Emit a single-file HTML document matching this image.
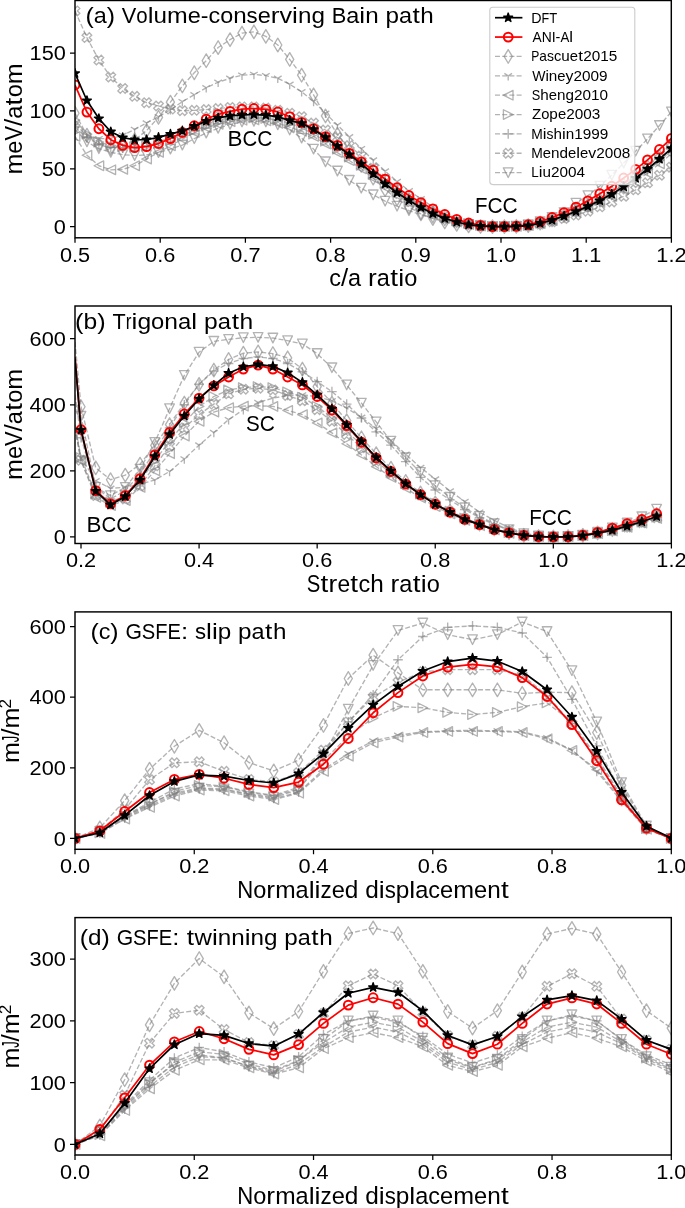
<!DOCTYPE html>
<html><head><meta charset="utf-8"><style>html,body{margin:0;padding:0;background:#fff;}svg{display:block;will-change:transform;}text{font-family:"Liberation Sans",sans-serif;fill:#000;}</style></head><body>
<svg width="685" height="1208" viewBox="0 0 685 1208" font-family="Liberation Sans, sans-serif">
<rect width="685" height="1208" fill="#fff"/>
<clipPath id="clipa"><rect x="75" y="0.5" width="596.3" height="237.3"/></clipPath>
<g clip-path="url(#clipa)">
<path d="M75,113.25 L86.93,135.22 L98.86,144.48 L110.78,147.95 L122.71,145.63 L134.64,139.85 L146.57,130.6 L158.5,117.29 L170.42,102.14 L182.35,85.95 L194.28,72.76 L206.21,60.73 L218.14,47.55 L230.06,39.68 L241.99,33.09 L253.92,31.82 L265.85,36.33 L277.78,45 L289.7,59.46 L301.63,75.19 L313.56,94.86 L325.49,115.91 L337.42,134.07 L349.34,150.26 L361.27,165.3 L373.2,178.02 L385.13,189.59 L397.06,198.84 L408.98,206.94 L420.91,213.88 L432.84,218.5 L444.77,221.97 L456.7,224.29 L468.62,225.79 L480.55,226.48 L492.48,226.6 L504.41,226.6 L516.34,226.36 L528.26,225.52 L540.19,223.11 L552.12,219.86 L564.05,215.65 L575.98,210.84 L587.9,205.55 L599.83,199.53 L611.76,192.8 L623.69,185.1 L635.62,176.32 L647.54,166.69 L659.47,156.35 L671.4,145.28" fill="none" stroke="#808080" stroke-opacity="0.6" stroke-width="1.35" stroke-dasharray="5.0 2.2" stroke-linejoin="round"/>
<path d="M75,106.46 L79.07,113.25 L75,120.03 L70.93,113.25Z M86.93,128.43 L91,135.22 L86.93,142.01 L82.85,135.22Z M98.86,137.69 L102.93,144.48 L98.86,151.26 L94.78,144.48Z M110.78,141.16 L114.86,147.95 L110.78,154.73 L106.71,147.95Z M122.71,138.84 L126.79,145.63 L122.71,152.42 L118.64,145.63Z M134.64,133.06 L138.71,139.85 L134.64,146.64 L130.57,139.85Z M146.57,123.81 L150.64,130.6 L146.57,137.38 L142.49,130.6Z M158.5,110.51 L162.57,117.29 L158.5,124.08 L154.42,117.29Z M170.42,95.35 L174.5,102.14 L170.42,108.93 L166.35,102.14Z M182.35,79.16 L186.43,85.95 L182.35,92.74 L178.28,85.95Z M194.28,65.97 L198.35,72.76 L194.28,79.55 L190.21,72.76Z M206.21,53.95 L210.28,60.73 L206.21,67.52 L202.13,60.73Z M218.14,40.76 L222.21,47.55 L218.14,54.34 L214.06,47.55Z M230.06,32.89 L234.14,39.68 L230.06,46.47 L225.99,39.68Z M241.99,26.3 L246.07,33.09 L241.99,39.88 L237.92,33.09Z M253.92,25.03 L257.99,31.82 L253.92,38.6 L249.85,31.82Z M265.85,29.54 L269.92,36.33 L265.85,43.12 L261.77,36.33Z M277.78,38.21 L281.85,45 L277.78,51.79 L273.7,45Z M289.7,52.67 L293.78,59.46 L289.7,66.25 L285.63,59.46Z M301.63,68.4 L305.71,75.19 L301.63,81.98 L297.56,75.19Z M313.56,88.07 L317.63,94.86 L313.56,101.64 L309.49,94.86Z M325.49,109.12 L329.56,115.91 L325.49,122.69 L321.41,115.91Z M337.42,127.28 L341.49,134.07 L337.42,140.85 L333.34,134.07Z M349.34,143.47 L353.42,150.26 L349.34,157.05 L345.27,150.26Z M361.27,158.51 L365.35,165.3 L361.27,172.08 L357.2,165.3Z M373.2,171.23 L377.27,178.02 L373.2,184.81 L369.13,178.02Z M385.13,182.8 L389.2,189.59 L385.13,196.37 L381.05,189.59Z M397.06,192.05 L401.13,198.84 L397.06,205.63 L392.98,198.84Z M408.98,200.15 L413.06,206.94 L408.98,213.72 L404.91,206.94Z M420.91,207.09 L424.99,213.88 L420.91,220.66 L416.84,213.88Z M432.84,211.72 L436.91,218.5 L432.84,225.29 L428.77,218.5Z M444.77,215.19 L448.84,221.97 L444.77,228.76 L440.69,221.97Z M456.7,217.5 L460.77,224.29 L456.7,231.07 L452.62,224.29Z M468.62,219 L472.7,225.79 L468.62,232.58 L464.55,225.79Z M480.55,219.7 L484.63,226.48 L480.55,233.27 L476.48,226.48Z M492.48,219.81 L496.55,226.6 L492.48,233.39 L488.41,226.6Z M504.41,219.81 L508.48,226.6 L504.41,233.39 L500.33,226.6Z M516.34,219.57 L520.41,226.36 L516.34,233.15 L512.26,226.36Z M528.26,218.73 L532.34,225.52 L528.26,232.31 L524.19,225.52Z M540.19,216.32 L544.27,223.11 L540.19,229.9 L536.12,223.11Z M552.12,213.08 L556.19,219.86 L552.12,226.65 L548.05,219.86Z M564.05,208.87 L568.12,215.65 L564.05,222.44 L559.97,215.65Z M575.98,204.05 L580.05,210.84 L575.98,217.63 L571.9,210.84Z M587.9,198.76 L591.98,205.55 L587.9,212.34 L583.83,205.55Z M599.83,192.75 L603.91,199.53 L599.83,206.32 L595.76,199.53Z M611.76,186.01 L615.83,192.8 L611.76,199.59 L607.69,192.8Z M623.69,178.31 L627.76,185.1 L623.69,191.89 L619.61,185.1Z M635.62,169.53 L639.69,176.32 L635.62,183.11 L631.54,176.32Z M647.54,159.91 L651.62,166.69 L647.54,173.48 L643.47,166.69Z M659.47,149.56 L663.55,156.35 L659.47,163.14 L655.4,156.35Z M671.4,138.49 L675.47,145.28 L671.4,152.07 L667.33,145.28Z" fill="none" stroke="#808080" stroke-opacity="0.6" stroke-width="1.35" stroke-linejoin="round"/>
<path d="M75,124.81 L86.93,135.22 L98.86,138.69 L110.78,138.69 L122.71,135.22 L134.64,129.44 L146.57,122.96 L158.5,116.72 L170.42,109.78 L182.35,101.68 L194.28,94.74 L206.21,87.8 L218.14,82.25 L230.06,78.31 L241.99,75.19 L253.92,74.38 L265.85,75.65 L277.78,78.31 L289.7,84.33 L301.63,91.73 L313.56,101.45 L325.49,113.25 L337.42,125.04 L349.34,136.84 L361.27,148.64 L373.2,160.09 L385.13,171.08 L397.06,181.49 L408.98,190.74 L420.91,198.84 L432.84,206.94 L444.77,213.88 L456.7,219.08 L468.62,223.13 L480.55,225.44 L492.48,226.6 L504.41,226.6 L516.34,226.38 L528.26,225.59 L540.19,223.35 L552.12,220.32 L564.05,216.39 L575.98,211.9 L587.9,206.97 L599.83,201.36 L611.76,195.07 L623.69,187.89 L635.62,179.7 L647.54,170.73 L659.47,161.08 L671.4,150.75" fill="none" stroke="#808080" stroke-opacity="0.6" stroke-width="1.35" stroke-dasharray="5.0 2.2" stroke-linejoin="round"/>
<path d="M75,124.81 v4.8 M75,124.81 l3.84,-2.4 M75,124.81 l-3.84,-2.4 M86.93,135.22 v4.8 M86.93,135.22 l3.84,-2.4 M86.93,135.22 l-3.84,-2.4 M98.86,138.69 v4.8 M98.86,138.69 l3.84,-2.4 M98.86,138.69 l-3.84,-2.4 M110.78,138.69 v4.8 M110.78,138.69 l3.84,-2.4 M110.78,138.69 l-3.84,-2.4 M122.71,135.22 v4.8 M122.71,135.22 l3.84,-2.4 M122.71,135.22 l-3.84,-2.4 M134.64,129.44 v4.8 M134.64,129.44 l3.84,-2.4 M134.64,129.44 l-3.84,-2.4 M146.57,122.96 v4.8 M146.57,122.96 l3.84,-2.4 M146.57,122.96 l-3.84,-2.4 M158.5,116.72 v4.8 M158.5,116.72 l3.84,-2.4 M158.5,116.72 l-3.84,-2.4 M170.42,109.78 v4.8 M170.42,109.78 l3.84,-2.4 M170.42,109.78 l-3.84,-2.4 M182.35,101.68 v4.8 M182.35,101.68 l3.84,-2.4 M182.35,101.68 l-3.84,-2.4 M194.28,94.74 v4.8 M194.28,94.74 l3.84,-2.4 M194.28,94.74 l-3.84,-2.4 M206.21,87.8 v4.8 M206.21,87.8 l3.84,-2.4 M206.21,87.8 l-3.84,-2.4 M218.14,82.25 v4.8 M218.14,82.25 l3.84,-2.4 M218.14,82.25 l-3.84,-2.4 M230.06,78.31 v4.8 M230.06,78.31 l3.84,-2.4 M230.06,78.31 l-3.84,-2.4 M241.99,75.19 v4.8 M241.99,75.19 l3.84,-2.4 M241.99,75.19 l-3.84,-2.4 M253.92,74.38 v4.8 M253.92,74.38 l3.84,-2.4 M253.92,74.38 l-3.84,-2.4 M265.85,75.65 v4.8 M265.85,75.65 l3.84,-2.4 M265.85,75.65 l-3.84,-2.4 M277.78,78.31 v4.8 M277.78,78.31 l3.84,-2.4 M277.78,78.31 l-3.84,-2.4 M289.7,84.33 v4.8 M289.7,84.33 l3.84,-2.4 M289.7,84.33 l-3.84,-2.4 M301.63,91.73 v4.8 M301.63,91.73 l3.84,-2.4 M301.63,91.73 l-3.84,-2.4 M313.56,101.45 v4.8 M313.56,101.45 l3.84,-2.4 M313.56,101.45 l-3.84,-2.4 M325.49,113.25 v4.8 M325.49,113.25 l3.84,-2.4 M325.49,113.25 l-3.84,-2.4 M337.42,125.04 v4.8 M337.42,125.04 l3.84,-2.4 M337.42,125.04 l-3.84,-2.4 M349.34,136.84 v4.8 M349.34,136.84 l3.84,-2.4 M349.34,136.84 l-3.84,-2.4 M361.27,148.64 v4.8 M361.27,148.64 l3.84,-2.4 M361.27,148.64 l-3.84,-2.4 M373.2,160.09 v4.8 M373.2,160.09 l3.84,-2.4 M373.2,160.09 l-3.84,-2.4 M385.13,171.08 v4.8 M385.13,171.08 l3.84,-2.4 M385.13,171.08 l-3.84,-2.4 M397.06,181.49 v4.8 M397.06,181.49 l3.84,-2.4 M397.06,181.49 l-3.84,-2.4 M408.98,190.74 v4.8 M408.98,190.74 l3.84,-2.4 M408.98,190.74 l-3.84,-2.4 M420.91,198.84 v4.8 M420.91,198.84 l3.84,-2.4 M420.91,198.84 l-3.84,-2.4 M432.84,206.94 v4.8 M432.84,206.94 l3.84,-2.4 M432.84,206.94 l-3.84,-2.4 M444.77,213.88 v4.8 M444.77,213.88 l3.84,-2.4 M444.77,213.88 l-3.84,-2.4 M456.7,219.08 v4.8 M456.7,219.08 l3.84,-2.4 M456.7,219.08 l-3.84,-2.4 M468.62,223.13 v4.8 M468.62,223.13 l3.84,-2.4 M468.62,223.13 l-3.84,-2.4 M480.55,225.44 v4.8 M480.55,225.44 l3.84,-2.4 M480.55,225.44 l-3.84,-2.4 M492.48,226.6 v4.8 M492.48,226.6 l3.84,-2.4 M492.48,226.6 l-3.84,-2.4 M504.41,226.6 v4.8 M504.41,226.6 l3.84,-2.4 M504.41,226.6 l-3.84,-2.4 M516.34,226.38 v4.8 M516.34,226.38 l3.84,-2.4 M516.34,226.38 l-3.84,-2.4 M528.26,225.59 v4.8 M528.26,225.59 l3.84,-2.4 M528.26,225.59 l-3.84,-2.4 M540.19,223.35 v4.8 M540.19,223.35 l3.84,-2.4 M540.19,223.35 l-3.84,-2.4 M552.12,220.32 v4.8 M552.12,220.32 l3.84,-2.4 M552.12,220.32 l-3.84,-2.4 M564.05,216.39 v4.8 M564.05,216.39 l3.84,-2.4 M564.05,216.39 l-3.84,-2.4 M575.98,211.9 v4.8 M575.98,211.9 l3.84,-2.4 M575.98,211.9 l-3.84,-2.4 M587.9,206.97 v4.8 M587.9,206.97 l3.84,-2.4 M587.9,206.97 l-3.84,-2.4 M599.83,201.36 v4.8 M599.83,201.36 l3.84,-2.4 M599.83,201.36 l-3.84,-2.4 M611.76,195.07 v4.8 M611.76,195.07 l3.84,-2.4 M611.76,195.07 l-3.84,-2.4 M623.69,187.89 v4.8 M623.69,187.89 l3.84,-2.4 M623.69,187.89 l-3.84,-2.4 M635.62,179.7 v4.8 M635.62,179.7 l3.84,-2.4 M635.62,179.7 l-3.84,-2.4 M647.54,170.73 v4.8 M647.54,170.73 l3.84,-2.4 M647.54,170.73 l-3.84,-2.4 M659.47,161.08 v4.8 M659.47,161.08 l3.84,-2.4 M659.47,161.08 l-3.84,-2.4 M671.4,150.75 v4.8 M671.4,150.75 l3.84,-2.4 M671.4,150.75 l-3.84,-2.4" fill="none" stroke="#808080" stroke-opacity="0.6" stroke-width="1.35" stroke-linejoin="round"/>
<path d="M75,136.38 L86.93,155.23 L98.86,165.76 L110.78,169.81 L122.71,169.34 L134.64,165.76 L146.57,159.05 L158.5,152.34 L170.42,145.75 L182.35,139.16 L194.28,132.33 L206.21,127.65 L218.14,124.23 L230.06,121.67 L241.99,120.19 L253.92,119.84 L265.85,120.76 L277.78,123.34 L289.7,127.13 L301.63,131.22 L313.56,136.38 L325.49,143.92 L337.42,152.57 L349.34,160.53 L361.27,168.77 L373.2,178.1 L385.13,187.27 L397.06,195.23 L408.98,202.31 L420.91,208.54 L432.84,213.88 L444.77,218.44 L456.7,221.97 L468.62,224.46 L480.55,226.02 L492.48,226.6 L504.41,226.6 L516.34,226.38 L528.26,225.63 L540.19,223.48 L552.12,220.58 L564.05,216.81 L575.98,212.51 L587.9,207.78 L599.83,202.4 L611.76,196.37 L623.69,189.49 L635.62,181.64 L647.54,173.03 L659.47,163.78 L671.4,153.88" fill="none" stroke="#808080" stroke-opacity="0.6" stroke-width="1.35" stroke-dasharray="5.0 2.2" stroke-linejoin="round"/>
<path d="M70.2,136.38 L79.8,131.58 L79.8,141.18Z M82.13,155.23 L91.73,150.43 L91.73,160.03Z M94.06,165.76 L103.66,160.96 L103.66,170.56Z M105.98,169.81 L115.58,165.01 L115.58,174.61Z M117.91,169.34 L127.51,164.54 L127.51,174.14Z M129.84,165.76 L139.44,160.96 L139.44,170.56Z M141.77,159.05 L151.37,154.25 L151.37,163.85Z M153.7,152.34 L163.3,147.54 L163.3,157.14Z M165.62,145.75 L175.22,140.95 L175.22,150.55Z M177.55,139.16 L187.15,134.36 L187.15,143.96Z M189.48,132.33 L199.08,127.53 L199.08,137.13Z M201.41,127.65 L211.01,122.85 L211.01,132.45Z M213.34,124.23 L222.94,119.43 L222.94,129.03Z M225.26,121.67 L234.86,116.87 L234.86,126.47Z M237.19,120.19 L246.79,115.39 L246.79,124.99Z M249.12,119.84 L258.72,115.04 L258.72,124.64Z M261.05,120.76 L270.65,115.96 L270.65,125.56Z M272.98,123.34 L282.58,118.54 L282.58,128.14Z M284.9,127.13 L294.5,122.33 L294.5,131.93Z M296.83,131.22 L306.43,126.42 L306.43,136.02Z M308.76,136.38 L318.36,131.58 L318.36,141.18Z M320.69,143.92 L330.29,139.12 L330.29,148.72Z M332.62,152.57 L342.22,147.77 L342.22,157.37Z M344.54,160.53 L354.14,155.73 L354.14,165.33Z M356.47,168.77 L366.07,163.97 L366.07,173.57Z M368.4,178.1 L378,173.3 L378,182.9Z M380.33,187.27 L389.93,182.47 L389.93,192.07Z M392.26,195.23 L401.86,190.43 L401.86,200.03Z M404.18,202.31 L413.78,197.51 L413.78,207.11Z M416.11,208.54 L425.71,203.74 L425.71,213.34Z M428.04,213.88 L437.64,209.08 L437.64,218.68Z M439.97,218.44 L449.57,213.64 L449.57,223.24Z M451.9,221.97 L461.5,217.17 L461.5,226.77Z M463.82,224.46 L473.42,219.66 L473.42,229.26Z M475.75,226.02 L485.35,221.22 L485.35,230.82Z M487.68,226.6 L497.28,221.8 L497.28,231.4Z M499.61,226.6 L509.21,221.8 L509.21,231.4Z M511.54,226.38 L521.14,221.58 L521.14,231.18Z M523.46,225.63 L533.06,220.83 L533.06,230.43Z M535.39,223.48 L544.99,218.68 L544.99,228.28Z M547.32,220.58 L556.92,215.78 L556.92,225.38Z M559.25,216.81 L568.85,212.01 L568.85,221.61Z M571.18,212.51 L580.78,207.71 L580.78,217.31Z M583.1,207.78 L592.7,202.98 L592.7,212.58Z M595.03,202.4 L604.63,197.6 L604.63,207.2Z M606.96,196.37 L616.56,191.57 L616.56,201.17Z M618.89,189.49 L628.49,184.69 L628.49,194.29Z M630.82,181.64 L640.42,176.84 L640.42,186.44Z M642.74,173.03 L652.34,168.23 L652.34,177.83Z M654.67,163.78 L664.27,158.98 L664.27,168.58Z M666.6,153.88 L676.2,149.08 L676.2,158.68Z" fill="none" stroke="#808080" stroke-opacity="0.6" stroke-width="1.35" stroke-linejoin="round"/>
<path d="M75,120.19 L86.93,134.07 L98.86,142.16 L110.78,145.63 L122.71,146.79 L134.64,147.37 L146.57,146.21 L158.5,143.32 L170.42,139.27 L182.35,135.22 L194.28,130.6 L206.21,126.14 L218.14,122.5 L230.06,120.01 L241.99,118.45 L253.92,117.87 L265.85,118.45 L277.78,120.17 L289.7,123.08 L301.63,127.8 L313.56,134.07 L325.49,141.22 L337.42,149.1 L349.34,156.99 L361.27,165.3 L373.2,174.55 L385.13,183.8 L397.06,192.32 L408.98,200 L420.91,206.54 L432.84,212.14 L444.77,216.99 L456.7,220.82 L468.62,223.51 L480.55,225.44 L492.48,226.6 L504.41,226.6 L516.34,226.35 L528.26,225.5 L540.19,223.04 L552.12,219.73 L564.05,215.44 L575.98,210.54 L587.9,205.14 L599.83,199.01 L611.76,192.15 L623.69,184.3 L635.62,175.35 L647.54,165.54 L659.47,155 L671.4,143.72" fill="none" stroke="#808080" stroke-opacity="0.6" stroke-width="1.35" stroke-dasharray="5.0 2.2" stroke-linejoin="round"/>
<path d="M79.8,120.19 L70.2,115.39 L70.2,124.99Z M91.73,134.07 L82.13,129.27 L82.13,138.87Z M103.66,142.16 L94.06,137.36 L94.06,146.96Z M115.58,145.63 L105.98,140.83 L105.98,150.43Z M127.51,146.79 L117.91,141.99 L117.91,151.59Z M139.44,147.37 L129.84,142.57 L129.84,152.17Z M151.37,146.21 L141.77,141.41 L141.77,151.01Z M163.3,143.32 L153.7,138.52 L153.7,148.12Z M175.22,139.27 L165.62,134.47 L165.62,144.07Z M187.15,135.22 L177.55,130.42 L177.55,140.02Z M199.08,130.6 L189.48,125.8 L189.48,135.4Z M211.01,126.14 L201.41,121.34 L201.41,130.94Z M222.94,122.5 L213.34,117.7 L213.34,127.3Z M234.86,120.01 L225.26,115.21 L225.26,124.81Z M246.79,118.45 L237.19,113.65 L237.19,123.25Z M258.72,117.87 L249.12,113.07 L249.12,122.67Z M270.65,118.45 L261.05,113.65 L261.05,123.25Z M282.58,120.17 L272.98,115.37 L272.98,124.97Z M294.5,123.08 L284.9,118.28 L284.9,127.88Z M306.43,127.8 L296.83,123 L296.83,132.6Z M318.36,134.07 L308.76,129.27 L308.76,138.87Z M330.29,141.22 L320.69,136.42 L320.69,146.02Z M342.22,149.1 L332.62,144.3 L332.62,153.9Z M354.14,156.99 L344.54,152.19 L344.54,161.79Z M366.07,165.3 L356.47,160.5 L356.47,170.1Z M378,174.55 L368.4,169.75 L368.4,179.35Z M389.93,183.8 L380.33,179 L380.33,188.6Z M401.86,192.32 L392.26,187.52 L392.26,197.12Z M413.78,200 L404.18,195.2 L404.18,204.8Z M425.71,206.54 L416.11,201.74 L416.11,211.34Z M437.64,212.14 L428.04,207.34 L428.04,216.94Z M449.57,216.99 L439.97,212.19 L439.97,221.79Z M461.5,220.82 L451.9,216.02 L451.9,225.62Z M473.42,223.51 L463.82,218.71 L463.82,228.31Z M485.35,225.44 L475.75,220.64 L475.75,230.24Z M497.28,226.6 L487.68,221.8 L487.68,231.4Z M509.21,226.6 L499.61,221.8 L499.61,231.4Z M521.14,226.35 L511.54,221.55 L511.54,231.15Z M533.06,225.5 L523.46,220.7 L523.46,230.3Z M544.99,223.04 L535.39,218.24 L535.39,227.84Z M556.92,219.73 L547.32,214.93 L547.32,224.53Z M568.85,215.44 L559.25,210.64 L559.25,220.24Z M580.78,210.54 L571.18,205.74 L571.18,215.34Z M592.7,205.14 L583.1,200.34 L583.1,209.94Z M604.63,199.01 L595.03,194.21 L595.03,203.81Z M616.56,192.15 L606.96,187.35 L606.96,196.95Z M628.49,184.3 L618.89,179.5 L618.89,189.1Z M640.42,175.35 L630.82,170.55 L630.82,180.15Z M652.34,165.54 L642.74,160.74 L642.74,170.34Z M664.27,155 L654.67,150.2 L654.67,159.8Z M676.2,143.72 L666.6,138.92 L666.6,148.52Z" fill="none" stroke="#808080" stroke-opacity="0.6" stroke-width="1.35" stroke-linejoin="round"/>
<path d="M75,127.13 L86.93,137.54 L98.86,144.48 L110.78,147.37 L122.71,147.95 L134.64,147.95 L146.57,145.63 L158.5,142.16 L170.42,137.54 L182.35,132.91 L194.28,128.28 L206.21,123.88 L218.14,120.19 L230.06,117.51 L241.99,115.56 L253.92,114.4 L265.85,114.98 L277.78,116.94 L289.7,120.19 L301.63,124.72 L313.56,130.6 L325.49,137.64 L337.42,145.63 L349.34,154.08 L361.27,162.98 L373.2,172.32 L385.13,181.49 L397.06,189.92 L408.98,197.68 L420.91,204.8 L432.84,210.98 L444.77,216.14 L456.7,220.24 L468.62,223.29 L480.55,225.44 L492.48,226.6 L504.41,226.6 L516.34,226.37 L528.26,225.56 L540.19,223.25 L552.12,220.12 L564.05,216.07 L575.98,211.45 L587.9,206.36 L599.83,200.57 L611.76,194.1 L623.69,186.69 L635.62,178.25 L647.54,169 L659.47,159.05 L671.4,148.41" fill="none" stroke="#808080" stroke-opacity="0.6" stroke-width="1.35" stroke-dasharray="5.0 2.2" stroke-linejoin="round"/>
<path d="M70.2,127.13 h9.6 M75,122.33 v9.6 M82.13,137.54 h9.6 M86.93,132.74 v9.6 M94.06,144.48 h9.6 M98.86,139.68 v9.6 M105.98,147.37 h9.6 M110.78,142.57 v9.6 M117.91,147.95 h9.6 M122.71,143.15 v9.6 M129.84,147.95 h9.6 M134.64,143.15 v9.6 M141.77,145.63 h9.6 M146.57,140.83 v9.6 M153.7,142.16 h9.6 M158.5,137.36 v9.6 M165.62,137.54 h9.6 M170.42,132.74 v9.6 M177.55,132.91 h9.6 M182.35,128.11 v9.6 M189.48,128.28 h9.6 M194.28,123.48 v9.6 M201.41,123.88 h9.6 M206.21,119.08 v9.6 M213.34,120.19 h9.6 M218.14,115.39 v9.6 M225.26,117.51 h9.6 M230.06,112.71 v9.6 M237.19,115.56 h9.6 M241.99,110.76 v9.6 M249.12,114.4 h9.6 M253.92,109.6 v9.6 M261.05,114.98 h9.6 M265.85,110.18 v9.6 M272.98,116.94 h9.6 M277.78,112.14 v9.6 M284.9,120.19 h9.6 M289.7,115.39 v9.6 M296.83,124.72 h9.6 M301.63,119.92 v9.6 M308.76,130.6 h9.6 M313.56,125.8 v9.6 M320.69,137.64 h9.6 M325.49,132.84 v9.6 M332.62,145.63 h9.6 M337.42,140.83 v9.6 M344.54,154.08 h9.6 M349.34,149.28 v9.6 M356.47,162.98 h9.6 M361.27,158.18 v9.6 M368.4,172.32 h9.6 M373.2,167.52 v9.6 M380.33,181.49 h9.6 M385.13,176.69 v9.6 M392.26,189.92 h9.6 M397.06,185.12 v9.6 M404.18,197.68 h9.6 M408.98,192.88 v9.6 M416.11,204.8 h9.6 M420.91,200 v9.6 M428.04,210.98 h9.6 M432.84,206.18 v9.6 M439.97,216.14 h9.6 M444.77,211.34 v9.6 M451.9,220.24 h9.6 M456.7,215.44 v9.6 M463.82,223.29 h9.6 M468.62,218.49 v9.6 M475.75,225.44 h9.6 M480.55,220.64 v9.6 M487.68,226.6 h9.6 M492.48,221.8 v9.6 M499.61,226.6 h9.6 M504.41,221.8 v9.6 M511.54,226.37 h9.6 M516.34,221.57 v9.6 M523.46,225.56 h9.6 M528.26,220.76 v9.6 M535.39,223.25 h9.6 M540.19,218.45 v9.6 M547.32,220.12 h9.6 M552.12,215.32 v9.6 M559.25,216.07 h9.6 M564.05,211.27 v9.6 M571.18,211.45 h9.6 M575.98,206.65 v9.6 M583.1,206.36 h9.6 M587.9,201.56 v9.6 M595.03,200.57 h9.6 M599.83,195.77 v9.6 M606.96,194.1 h9.6 M611.76,189.3 v9.6 M618.89,186.69 h9.6 M623.69,181.89 v9.6 M630.82,178.25 h9.6 M635.62,173.45 v9.6 M642.74,169 h9.6 M647.54,164.2 v9.6 M654.67,159.05 h9.6 M659.47,154.25 v9.6 M666.6,148.41 h9.6 M671.4,143.61 v9.6" fill="none" stroke="#808080" stroke-opacity="0.6" stroke-width="1.35" stroke-linejoin="round"/>
<path d="M75,10.88 L86.93,37.6 L98.86,60.04 L110.78,77.04 L122.71,88.49 L134.64,96.36 L146.57,102.72 L158.5,105.96 L170.42,109.08 L182.35,110.7 L194.28,110.35 L206.21,109.62 L218.14,108.62 L230.06,107.46 L241.99,106.88 L253.92,106.88 L265.85,108.04 L277.78,110.35 L289.7,113.25 L301.63,116.72 L313.56,123.08 L325.49,130.02 L337.42,137.54 L349.34,145.63 L361.27,156.04 L373.2,168.19 L385.13,179.18 L397.06,189.59 L408.98,198.84 L420.91,206.94 L432.84,213.88 L444.77,219.08 L456.7,222.55 L468.62,224.86 L480.55,226.02 L492.48,226.6 L504.41,226.6 L516.34,226.42 L528.26,225.81 L540.19,224.05 L552.12,221.68 L564.05,218.6 L575.98,215.08 L587.9,211.22 L599.83,206.82 L611.76,201.9 L623.69,196.27 L635.62,189.85 L647.54,182.82 L659.47,175.26 L671.4,167.17" fill="none" stroke="#808080" stroke-opacity="0.6" stroke-width="1.35" stroke-dasharray="5.0 2.2" stroke-linejoin="round"/>
<path d="M72.6,6.08 L75,8.48 L77.4,6.08 L79.8,8.48 L77.4,10.88 L79.8,13.28 L77.4,15.68 L75,13.28 L72.6,15.68 L70.2,13.28 L72.6,10.88 L70.2,8.48Z M84.53,32.8 L86.93,35.2 L89.33,32.8 L91.73,35.2 L89.33,37.6 L91.73,40 L89.33,42.4 L86.93,40 L84.53,42.4 L82.13,40 L84.53,37.6 L82.13,35.2Z M96.46,55.24 L98.86,57.64 L101.26,55.24 L103.66,57.64 L101.26,60.04 L103.66,62.44 L101.26,64.84 L98.86,62.44 L96.46,64.84 L94.06,62.44 L96.46,60.04 L94.06,57.64Z M108.38,72.24 L110.78,74.64 L113.18,72.24 L115.58,74.64 L113.18,77.04 L115.58,79.44 L113.18,81.84 L110.78,79.44 L108.38,81.84 L105.98,79.44 L108.38,77.04 L105.98,74.64Z M120.31,83.69 L122.71,86.09 L125.11,83.69 L127.51,86.09 L125.11,88.49 L127.51,90.89 L125.11,93.29 L122.71,90.89 L120.31,93.29 L117.91,90.89 L120.31,88.49 L117.91,86.09Z M132.24,91.56 L134.64,93.96 L137.04,91.56 L139.44,93.96 L137.04,96.36 L139.44,98.76 L137.04,101.16 L134.64,98.76 L132.24,101.16 L129.84,98.76 L132.24,96.36 L129.84,93.96Z M144.17,97.92 L146.57,100.32 L148.97,97.92 L151.37,100.32 L148.97,102.72 L151.37,105.12 L148.97,107.52 L146.57,105.12 L144.17,107.52 L141.77,105.12 L144.17,102.72 L141.77,100.32Z M156.1,101.16 L158.5,103.56 L160.9,101.16 L163.3,103.56 L160.9,105.96 L163.3,108.36 L160.9,110.76 L158.5,108.36 L156.1,110.76 L153.7,108.36 L156.1,105.96 L153.7,103.56Z M168.02,104.28 L170.42,106.68 L172.82,104.28 L175.22,106.68 L172.82,109.08 L175.22,111.48 L172.82,113.88 L170.42,111.48 L168.02,113.88 L165.62,111.48 L168.02,109.08 L165.62,106.68Z M179.95,105.9 L182.35,108.3 L184.75,105.9 L187.15,108.3 L184.75,110.7 L187.15,113.1 L184.75,115.5 L182.35,113.1 L179.95,115.5 L177.55,113.1 L179.95,110.7 L177.55,108.3Z M191.88,105.55 L194.28,107.95 L196.68,105.55 L199.08,107.95 L196.68,110.35 L199.08,112.75 L196.68,115.15 L194.28,112.75 L191.88,115.15 L189.48,112.75 L191.88,110.35 L189.48,107.95Z M203.81,104.82 L206.21,107.22 L208.61,104.82 L211.01,107.22 L208.61,109.62 L211.01,112.02 L208.61,114.42 L206.21,112.02 L203.81,114.42 L201.41,112.02 L203.81,109.62 L201.41,107.22Z M215.74,103.82 L218.14,106.22 L220.54,103.82 L222.94,106.22 L220.54,108.62 L222.94,111.02 L220.54,113.42 L218.14,111.02 L215.74,113.42 L213.34,111.02 L215.74,108.62 L213.34,106.22Z M227.66,102.66 L230.06,105.06 L232.46,102.66 L234.86,105.06 L232.46,107.46 L234.86,109.86 L232.46,112.26 L230.06,109.86 L227.66,112.26 L225.26,109.86 L227.66,107.46 L225.26,105.06Z M239.59,102.08 L241.99,104.48 L244.39,102.08 L246.79,104.48 L244.39,106.88 L246.79,109.28 L244.39,111.68 L241.99,109.28 L239.59,111.68 L237.19,109.28 L239.59,106.88 L237.19,104.48Z M251.52,102.08 L253.92,104.48 L256.32,102.08 L258.72,104.48 L256.32,106.88 L258.72,109.28 L256.32,111.68 L253.92,109.28 L251.52,111.68 L249.12,109.28 L251.52,106.88 L249.12,104.48Z M263.45,103.24 L265.85,105.64 L268.25,103.24 L270.65,105.64 L268.25,108.04 L270.65,110.44 L268.25,112.84 L265.85,110.44 L263.45,112.84 L261.05,110.44 L263.45,108.04 L261.05,105.64Z M275.38,105.55 L277.78,107.95 L280.18,105.55 L282.58,107.95 L280.18,110.35 L282.58,112.75 L280.18,115.15 L277.78,112.75 L275.38,115.15 L272.98,112.75 L275.38,110.35 L272.98,107.95Z M287.3,108.45 L289.7,110.85 L292.1,108.45 L294.5,110.85 L292.1,113.25 L294.5,115.65 L292.1,118.05 L289.7,115.65 L287.3,118.05 L284.9,115.65 L287.3,113.25 L284.9,110.85Z M299.23,111.92 L301.63,114.32 L304.03,111.92 L306.43,114.32 L304.03,116.72 L306.43,119.12 L304.03,121.52 L301.63,119.12 L299.23,121.52 L296.83,119.12 L299.23,116.72 L296.83,114.32Z M311.16,118.28 L313.56,120.68 L315.96,118.28 L318.36,120.68 L315.96,123.08 L318.36,125.48 L315.96,127.88 L313.56,125.48 L311.16,127.88 L308.76,125.48 L311.16,123.08 L308.76,120.68Z M323.09,125.22 L325.49,127.62 L327.89,125.22 L330.29,127.62 L327.89,130.02 L330.29,132.42 L327.89,134.82 L325.49,132.42 L323.09,134.82 L320.69,132.42 L323.09,130.02 L320.69,127.62Z M335.02,132.74 L337.42,135.14 L339.82,132.74 L342.22,135.14 L339.82,137.54 L342.22,139.94 L339.82,142.34 L337.42,139.94 L335.02,142.34 L332.62,139.94 L335.02,137.54 L332.62,135.14Z M346.94,140.83 L349.34,143.23 L351.74,140.83 L354.14,143.23 L351.74,145.63 L354.14,148.03 L351.74,150.43 L349.34,148.03 L346.94,150.43 L344.54,148.03 L346.94,145.63 L344.54,143.23Z M358.87,151.24 L361.27,153.64 L363.67,151.24 L366.07,153.64 L363.67,156.04 L366.07,158.44 L363.67,160.84 L361.27,158.44 L358.87,160.84 L356.47,158.44 L358.87,156.04 L356.47,153.64Z M370.8,163.39 L373.2,165.79 L375.6,163.39 L378,165.79 L375.6,168.19 L378,170.59 L375.6,172.99 L373.2,170.59 L370.8,172.99 L368.4,170.59 L370.8,168.19 L368.4,165.79Z M382.73,174.38 L385.13,176.78 L387.53,174.38 L389.93,176.78 L387.53,179.18 L389.93,181.58 L387.53,183.98 L385.13,181.58 L382.73,183.98 L380.33,181.58 L382.73,179.18 L380.33,176.78Z M394.66,184.79 L397.06,187.19 L399.46,184.79 L401.86,187.19 L399.46,189.59 L401.86,191.99 L399.46,194.39 L397.06,191.99 L394.66,194.39 L392.26,191.99 L394.66,189.59 L392.26,187.19Z M406.58,194.04 L408.98,196.44 L411.38,194.04 L413.78,196.44 L411.38,198.84 L413.78,201.24 L411.38,203.64 L408.98,201.24 L406.58,203.64 L404.18,201.24 L406.58,198.84 L404.18,196.44Z M418.51,202.14 L420.91,204.54 L423.31,202.14 L425.71,204.54 L423.31,206.94 L425.71,209.34 L423.31,211.74 L420.91,209.34 L418.51,211.74 L416.11,209.34 L418.51,206.94 L416.11,204.54Z M430.44,209.08 L432.84,211.48 L435.24,209.08 L437.64,211.48 L435.24,213.88 L437.64,216.28 L435.24,218.68 L432.84,216.28 L430.44,218.68 L428.04,216.28 L430.44,213.88 L428.04,211.48Z M442.37,214.28 L444.77,216.68 L447.17,214.28 L449.57,216.68 L447.17,219.08 L449.57,221.48 L447.17,223.88 L444.77,221.48 L442.37,223.88 L439.97,221.48 L442.37,219.08 L439.97,216.68Z M454.3,217.75 L456.7,220.15 L459.1,217.75 L461.5,220.15 L459.1,222.55 L461.5,224.95 L459.1,227.35 L456.7,224.95 L454.3,227.35 L451.9,224.95 L454.3,222.55 L451.9,220.15Z M466.22,220.06 L468.62,222.46 L471.02,220.06 L473.42,222.46 L471.02,224.86 L473.42,227.26 L471.02,229.66 L468.62,227.26 L466.22,229.66 L463.82,227.26 L466.22,224.86 L463.82,222.46Z M478.15,221.22 L480.55,223.62 L482.95,221.22 L485.35,223.62 L482.95,226.02 L485.35,228.42 L482.95,230.82 L480.55,228.42 L478.15,230.82 L475.75,228.42 L478.15,226.02 L475.75,223.62Z M490.08,221.8 L492.48,224.2 L494.88,221.8 L497.28,224.2 L494.88,226.6 L497.28,229 L494.88,231.4 L492.48,229 L490.08,231.4 L487.68,229 L490.08,226.6 L487.68,224.2Z M502.01,221.8 L504.41,224.2 L506.81,221.8 L509.21,224.2 L506.81,226.6 L509.21,229 L506.81,231.4 L504.41,229 L502.01,231.4 L499.61,229 L502.01,226.6 L499.61,224.2Z M513.94,221.62 L516.34,224.02 L518.74,221.62 L521.14,224.02 L518.74,226.42 L521.14,228.82 L518.74,231.22 L516.34,228.82 L513.94,231.22 L511.54,228.82 L513.94,226.42 L511.54,224.02Z M525.86,221.01 L528.26,223.41 L530.66,221.01 L533.06,223.41 L530.66,225.81 L533.06,228.21 L530.66,230.61 L528.26,228.21 L525.86,230.61 L523.46,228.21 L525.86,225.81 L523.46,223.41Z M537.79,219.25 L540.19,221.65 L542.59,219.25 L544.99,221.65 L542.59,224.05 L544.99,226.45 L542.59,228.85 L540.19,226.45 L537.79,228.85 L535.39,226.45 L537.79,224.05 L535.39,221.65Z M549.72,216.88 L552.12,219.28 L554.52,216.88 L556.92,219.28 L554.52,221.68 L556.92,224.08 L554.52,226.48 L552.12,224.08 L549.72,226.48 L547.32,224.08 L549.72,221.68 L547.32,219.28Z M561.65,213.8 L564.05,216.2 L566.45,213.8 L568.85,216.2 L566.45,218.6 L568.85,221 L566.45,223.4 L564.05,221 L561.65,223.4 L559.25,221 L561.65,218.6 L559.25,216.2Z M573.58,210.28 L575.98,212.68 L578.38,210.28 L580.78,212.68 L578.38,215.08 L580.78,217.48 L578.38,219.88 L575.98,217.48 L573.58,219.88 L571.18,217.48 L573.58,215.08 L571.18,212.68Z M585.5,206.42 L587.9,208.82 L590.3,206.42 L592.7,208.82 L590.3,211.22 L592.7,213.62 L590.3,216.02 L587.9,213.62 L585.5,216.02 L583.1,213.62 L585.5,211.22 L583.1,208.82Z M597.43,202.02 L599.83,204.42 L602.23,202.02 L604.63,204.42 L602.23,206.82 L604.63,209.22 L602.23,211.62 L599.83,209.22 L597.43,211.62 L595.03,209.22 L597.43,206.82 L595.03,204.42Z M609.36,197.1 L611.76,199.5 L614.16,197.1 L616.56,199.5 L614.16,201.9 L616.56,204.3 L614.16,206.7 L611.76,204.3 L609.36,206.7 L606.96,204.3 L609.36,201.9 L606.96,199.5Z M621.29,191.47 L623.69,193.87 L626.09,191.47 L628.49,193.87 L626.09,196.27 L628.49,198.67 L626.09,201.07 L623.69,198.67 L621.29,201.07 L618.89,198.67 L621.29,196.27 L618.89,193.87Z M633.22,185.05 L635.62,187.45 L638.02,185.05 L640.42,187.45 L638.02,189.85 L640.42,192.25 L638.02,194.65 L635.62,192.25 L633.22,194.65 L630.82,192.25 L633.22,189.85 L630.82,187.45Z M645.14,178.02 L647.54,180.42 L649.94,178.02 L652.34,180.42 L649.94,182.82 L652.34,185.22 L649.94,187.62 L647.54,185.22 L645.14,187.62 L642.74,185.22 L645.14,182.82 L642.74,180.42Z M657.07,170.46 L659.47,172.86 L661.87,170.46 L664.27,172.86 L661.87,175.26 L664.27,177.66 L661.87,180.06 L659.47,177.66 L657.07,180.06 L654.67,177.66 L657.07,175.26 L654.67,172.86Z M669,162.37 L671.4,164.77 L673.8,162.37 L676.2,164.77 L673.8,167.17 L676.2,169.57 L673.8,171.97 L671.4,169.57 L669,171.97 L666.6,169.57 L669,167.17 L666.6,164.77Z" fill="none" stroke="#808080" stroke-opacity="0.6" stroke-width="1.35" stroke-linejoin="miter"/>
<path d="M75,129.44 L86.93,141.82 L98.86,148.76 L110.78,152.34 L122.71,154.66 L134.64,155.58 L146.57,154.89 L158.5,152.57 L170.42,149.1 L182.35,145.05 L194.28,138.69 L206.21,133.03 L218.14,128.28 L230.06,124.34 L241.99,121.92 L253.92,121.34 L265.85,121.92 L277.78,124.81 L289.7,130.02 L301.63,138.11 L313.56,149.1 L325.49,161.83 L337.42,171.08 L349.34,180.33 L361.27,188.2 L373.2,194.79 L385.13,201.15 L397.06,206.24 L408.98,210.64 L420.91,214.69 L432.84,218.04 L444.77,220.82 L456.7,223.01 L468.62,224.63 L480.55,225.79 L492.48,226.6 L504.41,226.6 L516.34,226.25 L528.26,224.75 L540.19,221.63 L552.12,217.46 L564.05,212.6 L575.98,203.24 L587.9,195.6 L599.83,186.12 L611.76,175.13 L623.69,163.1 L635.62,151.19 L647.54,138.92 L659.47,125.51 L671.4,111.86" fill="none" stroke="#808080" stroke-opacity="0.6" stroke-width="1.35" stroke-dasharray="5.0 2.2" stroke-linejoin="round"/>
<path d="M75,134.24 L70.2,124.64 L79.8,124.64Z M86.93,146.62 L82.13,137.02 L91.73,137.02Z M98.86,153.56 L94.06,143.96 L103.66,143.96Z M110.78,157.14 L105.98,147.54 L115.58,147.54Z M122.71,159.46 L117.91,149.86 L127.51,149.86Z M134.64,160.38 L129.84,150.78 L139.44,150.78Z M146.57,159.69 L141.77,150.09 L151.37,150.09Z M158.5,157.37 L153.7,147.77 L163.3,147.77Z M170.42,153.9 L165.62,144.3 L175.22,144.3Z M182.35,149.85 L177.55,140.25 L187.15,140.25Z M194.28,143.49 L189.48,133.89 L199.08,133.89Z M206.21,137.83 L201.41,128.23 L211.01,128.23Z M218.14,133.08 L213.34,123.48 L222.94,123.48Z M230.06,129.14 L225.26,119.54 L234.86,119.54Z M241.99,126.72 L237.19,117.12 L246.79,117.12Z M253.92,126.14 L249.12,116.54 L258.72,116.54Z M265.85,126.72 L261.05,117.12 L270.65,117.12Z M277.78,129.61 L272.98,120.01 L282.58,120.01Z M289.7,134.82 L284.9,125.22 L294.5,125.22Z M301.63,142.91 L296.83,133.31 L306.43,133.31Z M313.56,153.9 L308.76,144.3 L318.36,144.3Z M325.49,166.63 L320.69,157.03 L330.29,157.03Z M337.42,175.88 L332.62,166.28 L342.22,166.28Z M349.34,185.13 L344.54,175.53 L354.14,175.53Z M361.27,193 L356.47,183.4 L366.07,183.4Z M373.2,199.59 L368.4,189.99 L378,189.99Z M385.13,205.95 L380.33,196.35 L389.93,196.35Z M397.06,211.04 L392.26,201.44 L401.86,201.44Z M408.98,215.44 L404.18,205.84 L413.78,205.84Z M420.91,219.49 L416.11,209.89 L425.71,209.89Z M432.84,222.84 L428.04,213.24 L437.64,213.24Z M444.77,225.62 L439.97,216.02 L449.57,216.02Z M456.7,227.81 L451.9,218.21 L461.5,218.21Z M468.62,229.43 L463.82,219.83 L473.42,219.83Z M480.55,230.59 L475.75,220.99 L485.35,220.99Z M492.48,231.4 L487.68,221.8 L497.28,221.8Z M504.41,231.4 L499.61,221.8 L509.21,221.8Z M516.34,231.05 L511.54,221.45 L521.14,221.45Z M528.26,229.55 L523.46,219.95 L533.06,219.95Z M540.19,226.43 L535.39,216.83 L544.99,216.83Z M552.12,222.26 L547.32,212.66 L556.92,212.66Z M564.05,217.4 L559.25,207.8 L568.85,207.8Z M575.98,208.04 L571.18,198.44 L580.78,198.44Z M587.9,200.4 L583.1,190.8 L592.7,190.8Z M599.83,190.92 L595.03,181.32 L604.63,181.32Z M611.76,179.93 L606.96,170.33 L616.56,170.33Z M623.69,167.9 L618.89,158.3 L628.49,158.3Z M635.62,155.99 L630.82,146.39 L640.42,146.39Z M647.54,143.72 L642.74,134.12 L652.34,134.12Z M659.47,130.31 L654.67,120.71 L664.27,120.71Z M671.4,116.66 L666.6,107.06 L676.2,107.06Z" fill="none" stroke="#808080" stroke-opacity="0.6" stroke-width="1.35" stroke-linejoin="round"/>
<path d="M75,85.02 L86.93,112.09 L98.86,128.75 L110.78,139.73 L122.71,145.4 L134.64,147.72 L146.57,146.67 L158.5,143.55 L170.42,138.58 L182.35,132.45 L194.28,125.74 L206.21,119.03 L218.14,114.29 L230.06,111.28 L241.99,109.2 L253.92,108.5 L265.85,109.43 L277.78,111.97 L289.7,116.6 L301.63,122.5 L313.56,128.75 L325.49,136.61 L337.42,145.4 L349.34,153.38 L361.27,161.83 L373.2,170.27 L385.13,179.06 L397.06,187.62 L408.98,195.49 L420.91,202.54 L432.84,208.9 L444.77,214.45 L456.7,219.31 L468.62,223.01 L480.55,225.44 L492.48,226.6 L504.41,226.6 L516.34,226.25 L528.26,224.75 L540.19,221.63 L552.12,217.46 L564.05,212.6 L575.98,207.17 L587.9,200.81 L599.83,193.63 L611.76,186.23 L623.69,178.02 L635.62,169.34 L647.54,159.86 L659.47,149.45 L671.4,138.35" fill="none" stroke="#ff0000" stroke-width="1.75" stroke-linejoin="round"/>
<circle cx="75" cy="85.02" r="4.4" fill="none" stroke="#ff0000" stroke-width="2.0"/>
<circle cx="86.93" cy="112.09" r="4.4" fill="none" stroke="#ff0000" stroke-width="2.0"/>
<circle cx="98.86" cy="128.75" r="4.4" fill="none" stroke="#ff0000" stroke-width="2.0"/>
<circle cx="110.78" cy="139.73" r="4.4" fill="none" stroke="#ff0000" stroke-width="2.0"/>
<circle cx="122.71" cy="145.4" r="4.4" fill="none" stroke="#ff0000" stroke-width="2.0"/>
<circle cx="134.64" cy="147.72" r="4.4" fill="none" stroke="#ff0000" stroke-width="2.0"/>
<circle cx="146.57" cy="146.67" r="4.4" fill="none" stroke="#ff0000" stroke-width="2.0"/>
<circle cx="158.5" cy="143.55" r="4.4" fill="none" stroke="#ff0000" stroke-width="2.0"/>
<circle cx="170.42" cy="138.58" r="4.4" fill="none" stroke="#ff0000" stroke-width="2.0"/>
<circle cx="182.35" cy="132.45" r="4.4" fill="none" stroke="#ff0000" stroke-width="2.0"/>
<circle cx="194.28" cy="125.74" r="4.4" fill="none" stroke="#ff0000" stroke-width="2.0"/>
<circle cx="206.21" cy="119.03" r="4.4" fill="none" stroke="#ff0000" stroke-width="2.0"/>
<circle cx="218.14" cy="114.29" r="4.4" fill="none" stroke="#ff0000" stroke-width="2.0"/>
<circle cx="230.06" cy="111.28" r="4.4" fill="none" stroke="#ff0000" stroke-width="2.0"/>
<circle cx="241.99" cy="109.2" r="4.4" fill="none" stroke="#ff0000" stroke-width="2.0"/>
<circle cx="253.92" cy="108.5" r="4.4" fill="none" stroke="#ff0000" stroke-width="2.0"/>
<circle cx="265.85" cy="109.43" r="4.4" fill="none" stroke="#ff0000" stroke-width="2.0"/>
<circle cx="277.78" cy="111.97" r="4.4" fill="none" stroke="#ff0000" stroke-width="2.0"/>
<circle cx="289.7" cy="116.6" r="4.4" fill="none" stroke="#ff0000" stroke-width="2.0"/>
<circle cx="301.63" cy="122.5" r="4.4" fill="none" stroke="#ff0000" stroke-width="2.0"/>
<circle cx="313.56" cy="128.75" r="4.4" fill="none" stroke="#ff0000" stroke-width="2.0"/>
<circle cx="325.49" cy="136.61" r="4.4" fill="none" stroke="#ff0000" stroke-width="2.0"/>
<circle cx="337.42" cy="145.4" r="4.4" fill="none" stroke="#ff0000" stroke-width="2.0"/>
<circle cx="349.34" cy="153.38" r="4.4" fill="none" stroke="#ff0000" stroke-width="2.0"/>
<circle cx="361.27" cy="161.83" r="4.4" fill="none" stroke="#ff0000" stroke-width="2.0"/>
<circle cx="373.2" cy="170.27" r="4.4" fill="none" stroke="#ff0000" stroke-width="2.0"/>
<circle cx="385.13" cy="179.06" r="4.4" fill="none" stroke="#ff0000" stroke-width="2.0"/>
<circle cx="397.06" cy="187.62" r="4.4" fill="none" stroke="#ff0000" stroke-width="2.0"/>
<circle cx="408.98" cy="195.49" r="4.4" fill="none" stroke="#ff0000" stroke-width="2.0"/>
<circle cx="420.91" cy="202.54" r="4.4" fill="none" stroke="#ff0000" stroke-width="2.0"/>
<circle cx="432.84" cy="208.9" r="4.4" fill="none" stroke="#ff0000" stroke-width="2.0"/>
<circle cx="444.77" cy="214.45" r="4.4" fill="none" stroke="#ff0000" stroke-width="2.0"/>
<circle cx="456.7" cy="219.31" r="4.4" fill="none" stroke="#ff0000" stroke-width="2.0"/>
<circle cx="468.62" cy="223.01" r="4.4" fill="none" stroke="#ff0000" stroke-width="2.0"/>
<circle cx="480.55" cy="225.44" r="4.4" fill="none" stroke="#ff0000" stroke-width="2.0"/>
<circle cx="492.48" cy="226.6" r="4.4" fill="none" stroke="#ff0000" stroke-width="2.0"/>
<circle cx="504.41" cy="226.6" r="4.4" fill="none" stroke="#ff0000" stroke-width="2.0"/>
<circle cx="516.34" cy="226.25" r="4.4" fill="none" stroke="#ff0000" stroke-width="2.0"/>
<circle cx="528.26" cy="224.75" r="4.4" fill="none" stroke="#ff0000" stroke-width="2.0"/>
<circle cx="540.19" cy="221.63" r="4.4" fill="none" stroke="#ff0000" stroke-width="2.0"/>
<circle cx="552.12" cy="217.46" r="4.4" fill="none" stroke="#ff0000" stroke-width="2.0"/>
<circle cx="564.05" cy="212.6" r="4.4" fill="none" stroke="#ff0000" stroke-width="2.0"/>
<circle cx="575.98" cy="207.17" r="4.4" fill="none" stroke="#ff0000" stroke-width="2.0"/>
<circle cx="587.9" cy="200.81" r="4.4" fill="none" stroke="#ff0000" stroke-width="2.0"/>
<circle cx="599.83" cy="193.63" r="4.4" fill="none" stroke="#ff0000" stroke-width="2.0"/>
<circle cx="611.76" cy="186.23" r="4.4" fill="none" stroke="#ff0000" stroke-width="2.0"/>
<circle cx="623.69" cy="178.02" r="4.4" fill="none" stroke="#ff0000" stroke-width="2.0"/>
<circle cx="635.62" cy="169.34" r="4.4" fill="none" stroke="#ff0000" stroke-width="2.0"/>
<circle cx="647.54" cy="159.86" r="4.4" fill="none" stroke="#ff0000" stroke-width="2.0"/>
<circle cx="659.47" cy="149.45" r="4.4" fill="none" stroke="#ff0000" stroke-width="2.0"/>
<circle cx="671.4" cy="138.35" r="4.4" fill="none" stroke="#ff0000" stroke-width="2.0"/>
<path d="M75,73.34 L86.93,100.52 L98.86,118.57 L110.78,131.75 L122.71,137.54 L134.64,139.73 L146.57,139.73 L158.5,137.42 L170.42,134.18 L182.35,130.94 L194.28,126.2 L206.21,121.11 L218.14,117.87 L230.06,115.91 L241.99,114.87 L253.92,114.52 L265.85,115.21 L277.78,116.83 L289.7,120.42 L301.63,123.31 L313.56,129.44 L325.49,137.31 L337.42,146.21 L349.34,154.54 L361.27,163.91 L373.2,173.86 L385.13,183.8 L397.06,192.71 L408.98,200.46 L420.91,207.4 L432.84,213.53 L444.77,218.39 L456.7,221.97 L468.62,224.75 L480.55,226.14 L492.48,226.6 L504.41,226.6 L516.34,226.37 L528.26,225.56 L540.19,223.25 L552.12,220.12 L564.05,216.07 L575.98,211.45 L587.9,206.36 L599.83,200.57 L611.76,194.1 L623.69,186.69 L635.62,178.25 L647.54,169 L659.47,159.05 L671.4,148.41" fill="none" stroke="#000" stroke-width="1.7" stroke-linejoin="round"/>
<path d="M75,68.69 L76.04,71.9 L79.42,71.9 L76.69,73.89 L77.73,77.1 L75,75.12 L72.27,77.1 L73.31,73.89 L70.58,71.9 L73.96,71.9Z M86.93,95.87 L87.97,99.09 L91.35,99.09 L88.62,101.07 L89.66,104.28 L86.93,102.3 L84.19,104.28 L85.24,101.07 L82.51,99.09 L85.88,99.09Z M98.86,113.92 L99.9,117.13 L103.28,117.13 L100.55,119.12 L101.59,122.33 L98.86,120.34 L96.12,122.33 L97.17,119.12 L94.43,117.13 L97.81,117.13Z M110.78,127.1 L111.83,130.32 L115.21,130.32 L112.47,132.3 L113.52,135.51 L110.78,133.53 L108.05,135.51 L109.09,132.3 L106.36,130.32 L109.74,130.32Z M122.71,132.89 L123.76,136.1 L127.13,136.1 L124.4,138.09 L125.45,141.3 L122.71,139.31 L119.98,141.3 L121.02,138.09 L118.29,136.1 L121.67,136.1Z M134.64,135.08 L135.68,138.3 L139.06,138.3 L136.33,140.28 L137.37,143.5 L134.64,141.51 L131.91,143.5 L132.95,140.28 L130.22,138.3 L133.6,138.3Z M146.57,135.08 L147.61,138.3 L150.99,138.3 L148.26,140.28 L149.3,143.5 L146.57,141.51 L143.83,143.5 L144.88,140.28 L142.15,138.3 L145.52,138.3Z M158.5,132.77 L159.54,135.98 L162.92,135.98 L160.19,137.97 L161.23,141.18 L158.5,139.2 L155.76,141.18 L156.81,137.97 L154.07,135.98 L157.45,135.98Z M170.42,129.53 L171.47,132.75 L174.85,132.75 L172.11,134.73 L173.16,137.94 L170.42,135.96 L167.69,137.94 L168.73,134.73 L166,132.75 L169.38,132.75Z M182.35,126.29 L183.4,129.51 L186.77,129.51 L184.04,131.49 L185.09,134.71 L182.35,132.72 L179.62,134.71 L180.66,131.49 L177.93,129.51 L181.31,129.51Z M194.28,121.55 L195.32,124.76 L198.7,124.76 L195.97,126.75 L197.01,129.96 L194.28,127.98 L191.55,129.96 L192.59,126.75 L189.86,124.76 L193.24,124.76Z M206.21,116.46 L207.25,119.67 L210.63,119.67 L207.9,121.66 L208.94,124.87 L206.21,122.89 L203.47,124.87 L204.52,121.66 L201.79,119.67 L205.16,119.67Z M218.14,113.22 L219.18,116.44 L222.56,116.44 L219.83,118.42 L220.87,121.63 L218.14,119.65 L215.4,121.63 L216.45,118.42 L213.71,116.44 L217.09,116.44Z M230.06,111.26 L231.11,114.47 L234.49,114.47 L231.75,116.46 L232.8,119.67 L230.06,117.68 L227.33,119.67 L228.37,116.46 L225.64,114.47 L229.02,114.47Z M241.99,110.22 L243.04,113.43 L246.41,113.43 L243.68,115.41 L244.73,118.63 L241.99,116.64 L239.26,118.63 L240.3,115.41 L237.57,113.43 L240.95,113.43Z M253.92,109.87 L254.96,113.08 L258.34,113.08 L255.61,115.07 L256.65,118.28 L253.92,116.29 L251.19,118.28 L252.23,115.07 L249.5,113.08 L252.88,113.08Z M265.85,110.56 L266.89,113.78 L270.27,113.78 L267.54,115.76 L268.58,118.97 L265.85,116.99 L263.11,118.97 L264.16,115.76 L261.43,113.78 L264.8,113.78Z M277.78,112.18 L278.82,115.4 L282.2,115.4 L279.47,117.38 L280.51,120.59 L277.78,118.61 L275.04,120.59 L276.09,117.38 L273.35,115.4 L276.73,115.4Z M289.7,115.77 L290.75,118.98 L294.13,118.98 L291.39,120.97 L292.44,124.18 L289.7,122.19 L286.97,124.18 L288.01,120.97 L285.28,118.98 L288.66,118.98Z M301.63,118.66 L302.68,121.87 L306.05,121.87 L303.32,123.86 L304.37,127.07 L301.63,125.09 L298.9,127.07 L299.94,123.86 L297.21,121.87 L300.59,121.87Z M313.56,124.79 L314.6,128 L317.98,128 L315.25,129.99 L316.29,133.2 L313.56,131.22 L310.83,133.2 L311.87,129.99 L309.14,128 L312.52,128Z M325.49,132.66 L326.53,135.87 L329.91,135.87 L327.18,137.85 L328.22,141.07 L325.49,139.08 L322.75,141.07 L323.8,137.85 L321.07,135.87 L324.44,135.87Z M337.42,141.56 L338.46,144.77 L341.84,144.77 L339.11,146.76 L340.15,149.97 L337.42,147.99 L334.68,149.97 L335.73,146.76 L332.99,144.77 L336.37,144.77Z M349.34,149.89 L350.39,153.1 L353.77,153.1 L351.03,155.09 L352.08,158.3 L349.34,156.32 L346.61,158.3 L347.65,155.09 L344.92,153.1 L348.3,153.1Z M361.27,159.26 L362.32,162.47 L365.69,162.47 L362.96,164.46 L364.01,167.67 L361.27,165.68 L358.54,167.67 L359.58,164.46 L356.85,162.47 L360.23,162.47Z M373.2,169.21 L374.24,172.42 L377.62,172.42 L374.89,174.4 L375.93,177.62 L373.2,175.63 L370.47,177.62 L371.51,174.4 L368.78,172.42 L372.16,172.42Z M385.13,179.15 L386.17,182.37 L389.55,182.37 L386.82,184.35 L387.86,187.57 L385.13,185.58 L382.39,187.57 L383.44,184.35 L380.71,182.37 L384.08,182.37Z M397.06,188.06 L398.1,191.27 L401.48,191.27 L398.75,193.26 L399.79,196.47 L397.06,194.49 L394.32,196.47 L395.37,193.26 L392.63,191.27 L396.01,191.27Z M408.98,195.81 L410.03,199.02 L413.41,199.02 L410.67,201.01 L411.72,204.22 L408.98,202.24 L406.25,204.22 L407.29,201.01 L404.56,199.02 L407.94,199.02Z M420.91,202.75 L421.96,205.96 L425.33,205.96 L422.6,207.95 L423.65,211.16 L420.91,209.18 L418.18,211.16 L419.22,207.95 L416.49,205.96 L419.87,205.96Z M432.84,208.88 L433.88,212.09 L437.26,212.09 L434.53,214.08 L435.57,217.29 L432.84,215.31 L430.11,217.29 L431.15,214.08 L428.42,212.09 L431.8,212.09Z M444.77,213.74 L445.81,216.95 L449.19,216.95 L446.46,218.94 L447.5,222.15 L444.77,220.16 L442.03,222.15 L443.08,218.94 L440.35,216.95 L443.72,216.95Z M456.7,217.32 L457.74,220.54 L461.12,220.54 L458.39,222.52 L459.43,225.74 L456.7,223.75 L453.96,225.74 L455.01,222.52 L452.27,220.54 L455.65,220.54Z M468.62,220.1 L469.67,223.31 L473.05,223.31 L470.31,225.3 L471.36,228.51 L468.62,226.53 L465.89,228.51 L466.93,225.3 L464.2,223.31 L467.58,223.31Z M480.55,221.49 L481.6,224.7 L484.97,224.7 L482.24,226.69 L483.29,229.9 L480.55,227.91 L477.82,229.9 L478.86,226.69 L476.13,224.7 L479.51,224.7Z M492.48,221.95 L493.52,225.16 L496.9,225.16 L494.17,227.15 L495.21,230.36 L492.48,228.38 L489.75,230.36 L490.79,227.15 L488.06,225.16 L491.44,225.16Z M504.41,221.95 L505.45,225.16 L508.83,225.16 L506.1,227.15 L507.14,230.36 L504.41,228.38 L501.67,230.36 L502.72,227.15 L499.99,225.16 L503.36,225.16Z M516.34,221.72 L517.38,224.93 L520.76,224.93 L518.03,226.92 L519.07,230.13 L516.34,228.14 L513.6,230.13 L514.65,226.92 L511.91,224.93 L515.29,224.93Z M528.26,220.91 L529.31,224.12 L532.69,224.12 L529.95,226.11 L531,229.32 L528.26,227.34 L525.53,229.32 L526.57,226.11 L523.84,224.12 L527.22,224.12Z M540.19,218.6 L541.24,221.81 L544.61,221.81 L541.88,223.79 L542.93,227.01 L540.19,225.02 L537.46,227.01 L538.5,223.79 L535.77,221.81 L539.15,221.81Z M552.12,215.47 L553.16,218.69 L556.54,218.69 L553.81,220.67 L554.85,223.88 L552.12,221.9 L549.39,223.88 L550.43,220.67 L547.7,218.69 L551.08,218.69Z M564.05,211.42 L565.09,214.64 L568.47,214.64 L565.74,216.62 L566.78,219.84 L564.05,217.85 L561.31,219.84 L562.36,216.62 L559.63,214.64 L563,214.64Z M575.98,206.8 L577.02,210.01 L580.4,210.01 L577.67,212 L578.71,215.21 L575.98,213.22 L573.24,215.21 L574.29,212 L571.55,210.01 L574.93,210.01Z M587.9,201.71 L588.95,204.92 L592.33,204.92 L589.59,206.91 L590.64,210.12 L587.9,208.13 L585.17,210.12 L586.21,206.91 L583.48,204.92 L586.86,204.92Z M599.83,195.92 L600.88,199.14 L604.25,199.14 L601.52,201.12 L602.57,204.34 L599.83,202.35 L597.1,204.34 L598.14,201.12 L595.41,199.14 L598.79,199.14Z M611.76,189.45 L612.8,192.66 L616.18,192.66 L613.45,194.65 L614.49,197.86 L611.76,195.87 L609.03,197.86 L610.07,194.65 L607.34,192.66 L610.72,192.66Z M623.69,182.04 L624.73,185.26 L628.11,185.26 L625.38,187.24 L626.42,190.46 L623.69,188.47 L620.95,190.46 L622,187.24 L619.27,185.26 L622.64,185.26Z M635.62,173.6 L636.66,176.81 L640.04,176.81 L637.31,178.8 L638.35,182.01 L635.62,180.03 L632.88,182.01 L633.93,178.8 L631.19,176.81 L634.57,176.81Z M647.54,164.35 L648.59,167.56 L651.97,167.56 L649.23,169.55 L650.28,172.76 L647.54,170.77 L644.81,172.76 L645.85,169.55 L643.12,167.56 L646.5,167.56Z M659.47,154.4 L660.52,157.61 L663.89,157.61 L661.16,159.6 L662.21,162.81 L659.47,160.83 L656.74,162.81 L657.78,159.6 L655.05,157.61 L658.43,157.61Z M671.4,143.76 L672.44,146.97 L675.82,146.97 L673.09,148.96 L674.13,152.17 L671.4,150.19 L668.67,152.17 L669.71,148.96 L666.98,146.97 L670.36,146.97Z" fill="#000" stroke="#000" stroke-width="1.4" stroke-linejoin="round"/>
</g>
<clipPath id="clipb"><rect x="75" y="306" width="596.3" height="237.5"/></clipPath>
<g clip-path="url(#clipb)">
<path d="M75,341.99 L81,406.74 L95.76,467.86 L110.52,479.75 L125.28,475.12 L140.04,464.22 L154.8,445.39 L169.56,424.58 L184.32,403.11 L199.08,384.28 L213.84,370.07 L228.6,359.5 L243.36,353.23 L258.12,351.9 L272.88,353.56 L287.64,357.85 L302.4,369.08 L317.16,386.59 L331.92,403.11 L346.68,420.62 L361.44,437.79 L376.2,453.65 L390.96,468.19 L405.72,481.4 L420.48,492.96 L435.24,502.87 L450,511.13 L464.76,518.4 L479.52,524.02 L494.28,528.97 L509.04,532.61 L523.8,535.25 L538.56,536.57 L553.32,536.9 L568.08,536.57 L582.84,535.25 L597.6,532.94 L612.36,529.63 L627.12,525.34 L641.88,520.38 L656.64,514.44" fill="none" stroke="#808080" stroke-opacity="0.6" stroke-width="1.35" stroke-dasharray="5.0 2.2" stroke-linejoin="round"/>
<path d="M81,399.95 L85.07,406.74 L81,413.53 L76.93,406.74Z M95.76,461.07 L99.83,467.86 L95.76,474.65 L91.69,467.86Z M110.52,472.96 L114.59,479.75 L110.52,486.54 L106.45,479.75Z M125.28,468.34 L129.35,475.12 L125.28,481.91 L121.21,475.12Z M140.04,457.43 L144.11,464.22 L140.04,471.01 L135.97,464.22Z M154.8,438.6 L158.87,445.39 L154.8,452.18 L150.73,445.39Z M169.56,417.79 L173.63,424.58 L169.56,431.37 L165.49,424.58Z M184.32,396.32 L188.39,403.11 L184.32,409.9 L180.25,403.11Z M199.08,377.49 L203.15,384.28 L199.08,391.07 L195.01,384.28Z M213.84,363.29 L217.91,370.07 L213.84,376.86 L209.77,370.07Z M228.6,352.71 L232.67,359.5 L228.6,366.29 L224.53,359.5Z M243.36,346.44 L247.43,353.23 L243.36,360.01 L239.29,353.23Z M258.12,345.12 L262.19,351.9 L258.12,358.69 L254.05,351.9Z M272.88,346.77 L276.95,353.56 L272.88,360.34 L268.81,353.56Z M287.64,351.06 L291.71,357.85 L287.64,364.64 L283.57,357.85Z M302.4,362.29 L306.47,369.08 L302.4,375.87 L298.33,369.08Z M317.16,379.8 L321.23,386.59 L317.16,393.38 L313.09,386.59Z M331.92,396.32 L335.99,403.11 L331.92,409.9 L327.85,403.11Z M346.68,413.83 L350.75,420.62 L346.68,427.4 L342.61,420.62Z M361.44,431.01 L365.51,437.79 L361.44,444.58 L357.37,437.79Z M376.2,446.86 L380.27,453.65 L376.2,460.44 L372.13,453.65Z M390.96,461.4 L395.03,468.19 L390.96,474.98 L386.89,468.19Z M405.72,474.61 L409.79,481.4 L405.72,488.19 L401.65,481.4Z M420.48,486.18 L424.55,492.96 L420.48,499.75 L416.41,492.96Z M435.24,496.09 L439.31,502.87 L435.24,509.66 L431.17,502.87Z M450,504.34 L454.07,511.13 L450,517.92 L445.93,511.13Z M464.76,511.61 L468.83,518.4 L464.76,525.19 L460.69,518.4Z M479.52,517.23 L483.59,524.02 L479.52,530.8 L475.45,524.02Z M494.28,522.18 L498.35,528.97 L494.28,535.76 L490.21,528.97Z M509.04,525.82 L513.11,532.61 L509.04,539.39 L504.97,532.61Z M523.8,528.46 L527.87,535.25 L523.8,542.04 L519.73,535.25Z M538.56,529.78 L542.63,536.57 L538.56,543.36 L534.49,536.57Z M553.32,530.11 L557.39,536.9 L553.32,543.69 L549.25,536.9Z M568.08,529.78 L572.15,536.57 L568.08,543.36 L564.01,536.57Z M582.84,528.46 L586.91,535.25 L582.84,542.04 L578.77,535.25Z M597.6,526.15 L601.67,532.94 L597.6,539.72 L593.53,532.94Z M612.36,522.84 L616.43,529.63 L612.36,536.42 L608.29,529.63Z M627.12,518.55 L631.19,525.34 L627.12,532.13 L623.05,525.34Z M641.88,513.59 L645.95,520.38 L641.88,527.17 L637.81,520.38Z M656.64,507.65 L660.71,514.44 L656.64,521.22 L652.57,514.44Z" fill="none" stroke="#808080" stroke-opacity="0.6" stroke-width="1.35" stroke-linejoin="round"/>
<path d="M75,427.88 L81,457.62 L95.76,480.74 L110.52,488.34 L125.28,487.35 L140.04,484.04 L154.8,480.08 L169.56,471.49 L184.32,458.94 L199.08,445.06 L213.84,432.51 L228.6,419.63 L243.36,409.72 L258.12,402.45 L272.88,398.15 L287.64,395.51 L302.4,394.85 L317.16,396.5 L331.92,400.8 L346.68,408.06 L361.44,417.31 L376.2,428.55 L390.96,440.44 L405.72,454.31 L420.48,467.53 L435.24,479.09 L450,490.98 L464.76,501.55 L479.52,512.12 L494.28,520.38 L509.04,527.65 L523.8,532.94 L538.56,535.91 L553.32,536.9 L568.08,536.57 L582.84,535.25 L597.6,532.94 L612.36,529.63 L627.12,525.67 L641.88,520.71 L656.64,515.1" fill="none" stroke="#808080" stroke-opacity="0.6" stroke-width="1.35" stroke-dasharray="5.0 2.2" stroke-linejoin="round"/>
<path d="M81,457.62 v4.8 M81,457.62 l3.84,-2.4 M81,457.62 l-3.84,-2.4 M95.76,480.74 v4.8 M95.76,480.74 l3.84,-2.4 M95.76,480.74 l-3.84,-2.4 M110.52,488.34 v4.8 M110.52,488.34 l3.84,-2.4 M110.52,488.34 l-3.84,-2.4 M125.28,487.35 v4.8 M125.28,487.35 l3.84,-2.4 M125.28,487.35 l-3.84,-2.4 M140.04,484.04 v4.8 M140.04,484.04 l3.84,-2.4 M140.04,484.04 l-3.84,-2.4 M154.8,480.08 v4.8 M154.8,480.08 l3.84,-2.4 M154.8,480.08 l-3.84,-2.4 M169.56,471.49 v4.8 M169.56,471.49 l3.84,-2.4 M169.56,471.49 l-3.84,-2.4 M184.32,458.94 v4.8 M184.32,458.94 l3.84,-2.4 M184.32,458.94 l-3.84,-2.4 M199.08,445.06 v4.8 M199.08,445.06 l3.84,-2.4 M199.08,445.06 l-3.84,-2.4 M213.84,432.51 v4.8 M213.84,432.51 l3.84,-2.4 M213.84,432.51 l-3.84,-2.4 M228.6,419.63 v4.8 M228.6,419.63 l3.84,-2.4 M228.6,419.63 l-3.84,-2.4 M243.36,409.72 v4.8 M243.36,409.72 l3.84,-2.4 M243.36,409.72 l-3.84,-2.4 M258.12,402.45 v4.8 M258.12,402.45 l3.84,-2.4 M258.12,402.45 l-3.84,-2.4 M272.88,398.15 v4.8 M272.88,398.15 l3.84,-2.4 M272.88,398.15 l-3.84,-2.4 M287.64,395.51 v4.8 M287.64,395.51 l3.84,-2.4 M287.64,395.51 l-3.84,-2.4 M302.4,394.85 v4.8 M302.4,394.85 l3.84,-2.4 M302.4,394.85 l-3.84,-2.4 M317.16,396.5 v4.8 M317.16,396.5 l3.84,-2.4 M317.16,396.5 l-3.84,-2.4 M331.92,400.8 v4.8 M331.92,400.8 l3.84,-2.4 M331.92,400.8 l-3.84,-2.4 M346.68,408.06 v4.8 M346.68,408.06 l3.84,-2.4 M346.68,408.06 l-3.84,-2.4 M361.44,417.31 v4.8 M361.44,417.31 l3.84,-2.4 M361.44,417.31 l-3.84,-2.4 M376.2,428.55 v4.8 M376.2,428.55 l3.84,-2.4 M376.2,428.55 l-3.84,-2.4 M390.96,440.44 v4.8 M390.96,440.44 l3.84,-2.4 M390.96,440.44 l-3.84,-2.4 M405.72,454.31 v4.8 M405.72,454.31 l3.84,-2.4 M405.72,454.31 l-3.84,-2.4 M420.48,467.53 v4.8 M420.48,467.53 l3.84,-2.4 M420.48,467.53 l-3.84,-2.4 M435.24,479.09 v4.8 M435.24,479.09 l3.84,-2.4 M435.24,479.09 l-3.84,-2.4 M450,490.98 v4.8 M450,490.98 l3.84,-2.4 M450,490.98 l-3.84,-2.4 M464.76,501.55 v4.8 M464.76,501.55 l3.84,-2.4 M464.76,501.55 l-3.84,-2.4 M479.52,512.12 v4.8 M479.52,512.12 l3.84,-2.4 M479.52,512.12 l-3.84,-2.4 M494.28,520.38 v4.8 M494.28,520.38 l3.84,-2.4 M494.28,520.38 l-3.84,-2.4 M509.04,527.65 v4.8 M509.04,527.65 l3.84,-2.4 M509.04,527.65 l-3.84,-2.4 M523.8,532.94 v4.8 M523.8,532.94 l3.84,-2.4 M523.8,532.94 l-3.84,-2.4 M538.56,535.91 v4.8 M538.56,535.91 l3.84,-2.4 M538.56,535.91 l-3.84,-2.4 M553.32,536.9 v4.8 M553.32,536.9 l3.84,-2.4 M553.32,536.9 l-3.84,-2.4 M568.08,536.57 v4.8 M568.08,536.57 l3.84,-2.4 M568.08,536.57 l-3.84,-2.4 M582.84,535.25 v4.8 M582.84,535.25 l3.84,-2.4 M582.84,535.25 l-3.84,-2.4 M597.6,532.94 v4.8 M597.6,532.94 l3.84,-2.4 M597.6,532.94 l-3.84,-2.4 M612.36,529.63 v4.8 M612.36,529.63 l3.84,-2.4 M612.36,529.63 l-3.84,-2.4 M627.12,525.67 v4.8 M627.12,525.67 l3.84,-2.4 M627.12,525.67 l-3.84,-2.4 M641.88,520.71 v4.8 M641.88,520.71 l3.84,-2.4 M641.88,520.71 l-3.84,-2.4 M656.64,515.1 v4.8 M656.64,515.1 l3.84,-2.4 M656.64,515.1 l-3.84,-2.4" fill="none" stroke="#808080" stroke-opacity="0.6" stroke-width="1.35" stroke-linejoin="round"/>
<path d="M75,427.88 L81,460.92 L95.76,497.26 L110.52,505.52 L125.28,500.56 L140.04,487.35 L154.8,470.83 L169.56,453.65 L184.32,436.14 L199.08,421.28 L213.84,412.03 L228.6,407.73 L243.36,406.08 L258.12,405.75 L272.88,406.41 L287.64,410.38 L302.4,414.67 L317.16,422.93 L331.92,432.84 L346.68,443.74 L361.44,454.97 L376.2,466.54 L390.96,477.44 L405.72,488.01 L420.48,497.92 L435.24,506.51 L450,513.78 L464.76,520.38 L479.52,525.67 L494.28,529.96 L509.04,533.27 L523.8,535.58 L538.56,536.57 L553.32,536.9 L568.08,536.57 L582.84,535.58 L597.6,533.6 L612.36,530.95 L627.12,527.32 L641.88,523.03 L656.64,518.4" fill="none" stroke="#808080" stroke-opacity="0.6" stroke-width="1.35" stroke-dasharray="5.0 2.2" stroke-linejoin="round"/>
<path d="M76.2,460.92 L85.8,456.12 L85.8,465.72Z M90.96,497.26 L100.56,492.46 L100.56,502.06Z M105.72,505.52 L115.32,500.72 L115.32,510.32Z M120.48,500.56 L130.08,495.76 L130.08,505.36Z M135.24,487.35 L144.84,482.55 L144.84,492.15Z M150,470.83 L159.6,466.03 L159.6,475.63Z M164.76,453.65 L174.36,448.85 L174.36,458.45Z M179.52,436.14 L189.12,431.34 L189.12,440.94Z M194.28,421.28 L203.88,416.48 L203.88,426.08Z M209.04,412.03 L218.64,407.23 L218.64,416.83Z M223.8,407.73 L233.4,402.93 L233.4,412.53Z M238.56,406.08 L248.16,401.28 L248.16,410.88Z M253.32,405.75 L262.92,400.95 L262.92,410.55Z M268.08,406.41 L277.68,401.61 L277.68,411.21Z M282.84,410.38 L292.44,405.58 L292.44,415.18Z M297.6,414.67 L307.2,409.87 L307.2,419.47Z M312.36,422.93 L321.96,418.13 L321.96,427.73Z M327.12,432.84 L336.72,428.04 L336.72,437.64Z M341.88,443.74 L351.48,438.94 L351.48,448.54Z M356.64,454.97 L366.24,450.17 L366.24,459.77Z M371.4,466.54 L381,461.74 L381,471.34Z M386.16,477.44 L395.76,472.64 L395.76,482.24Z M400.92,488.01 L410.52,483.21 L410.52,492.81Z M415.68,497.92 L425.28,493.12 L425.28,502.72Z M430.44,506.51 L440.04,501.71 L440.04,511.31Z M445.2,513.78 L454.8,508.98 L454.8,518.58Z M459.96,520.38 L469.56,515.58 L469.56,525.18Z M474.72,525.67 L484.32,520.87 L484.32,530.47Z M489.48,529.96 L499.08,525.16 L499.08,534.76Z M504.24,533.27 L513.84,528.47 L513.84,538.07Z M519,535.58 L528.6,530.78 L528.6,540.38Z M533.76,536.57 L543.36,531.77 L543.36,541.37Z M548.52,536.9 L558.12,532.1 L558.12,541.7Z M563.28,536.57 L572.88,531.77 L572.88,541.37Z M578.04,535.58 L587.64,530.78 L587.64,540.38Z M592.8,533.6 L602.4,528.8 L602.4,538.4Z M607.56,530.95 L617.16,526.15 L617.16,535.75Z M622.32,527.32 L631.92,522.52 L631.92,532.12Z M637.08,523.03 L646.68,518.23 L646.68,527.83Z M651.84,518.4 L661.44,513.6 L661.44,523.2Z" fill="none" stroke="#808080" stroke-opacity="0.6" stroke-width="1.35" stroke-linejoin="round"/>
<path d="M75,424.58 L81,457.62 L95.76,493.95 L110.52,502.21 L125.28,495.61 L140.04,480.74 L154.8,460.92 L169.56,441.1 L184.32,422.93 L199.08,406.41 L213.84,396.5 L228.6,389.89 L243.36,387.58 L258.12,386.59 L272.88,387.58 L287.64,391.88 L302.4,397.16 L317.16,406.41 L331.92,417.97 L346.68,431.19 L361.44,445.06 L376.2,458.28 L390.96,471.49 L405.72,483.38 L420.48,493.95 L435.24,503.2 L450,511.13 L464.76,518.07 L479.52,524.02 L494.28,528.64 L509.04,532.61 L523.8,535.25 L538.56,536.57 L553.32,536.9 L568.08,536.57 L582.84,535.58 L597.6,533.6 L612.36,530.62 L627.12,526.66 L641.88,522.03 L656.64,517.08" fill="none" stroke="#808080" stroke-opacity="0.6" stroke-width="1.35" stroke-dasharray="5.0 2.2" stroke-linejoin="round"/>
<path d="M85.8,457.62 L76.2,452.82 L76.2,462.42Z M100.56,493.95 L90.96,489.15 L90.96,498.75Z M115.32,502.21 L105.72,497.41 L105.72,507.01Z M130.08,495.61 L120.48,490.81 L120.48,500.41Z M144.84,480.74 L135.24,475.94 L135.24,485.54Z M159.6,460.92 L150,456.12 L150,465.72Z M174.36,441.1 L164.76,436.3 L164.76,445.9Z M189.12,422.93 L179.52,418.13 L179.52,427.73Z M203.88,406.41 L194.28,401.61 L194.28,411.21Z M218.64,396.5 L209.04,391.7 L209.04,401.3Z M233.4,389.89 L223.8,385.09 L223.8,394.69Z M248.16,387.58 L238.56,382.78 L238.56,392.38Z M262.92,386.59 L253.32,381.79 L253.32,391.39Z M277.68,387.58 L268.08,382.78 L268.08,392.38Z M292.44,391.88 L282.84,387.08 L282.84,396.68Z M307.2,397.16 L297.6,392.36 L297.6,401.96Z M321.96,406.41 L312.36,401.61 L312.36,411.21Z M336.72,417.97 L327.12,413.17 L327.12,422.77Z M351.48,431.19 L341.88,426.39 L341.88,435.99Z M366.24,445.06 L356.64,440.26 L356.64,449.86Z M381,458.28 L371.4,453.48 L371.4,463.08Z M395.76,471.49 L386.16,466.69 L386.16,476.29Z M410.52,483.38 L400.92,478.58 L400.92,488.18Z M425.28,493.95 L415.68,489.15 L415.68,498.75Z M440.04,503.2 L430.44,498.4 L430.44,508Z M454.8,511.13 L445.2,506.33 L445.2,515.93Z M469.56,518.07 L459.96,513.27 L459.96,522.87Z M484.32,524.02 L474.72,519.22 L474.72,528.82Z M499.08,528.64 L489.48,523.84 L489.48,533.44Z M513.84,532.61 L504.24,527.81 L504.24,537.41Z M528.6,535.25 L519,530.45 L519,540.05Z M543.36,536.57 L533.76,531.77 L533.76,541.37Z M558.12,536.9 L548.52,532.1 L548.52,541.7Z M572.88,536.57 L563.28,531.77 L563.28,541.37Z M587.64,535.58 L578.04,530.78 L578.04,540.38Z M602.4,533.6 L592.8,528.8 L592.8,538.4Z M617.16,530.62 L607.56,525.82 L607.56,535.42Z M631.92,526.66 L622.32,521.86 L622.32,531.46Z M646.68,522.03 L637.08,517.23 L637.08,526.83Z M661.44,517.08 L651.84,512.28 L651.84,521.88Z" fill="none" stroke="#808080" stroke-opacity="0.6" stroke-width="1.35" stroke-linejoin="round"/>
<path d="M75,394.85 L81,437.79 L95.76,487.35 L110.52,498.91 L125.28,490.65 L140.04,474.13 L154.8,451.01 L169.56,427.88 L184.32,404.76 L199.08,384.28 L213.84,371.06 L228.6,363.47 L243.36,358.51 L258.12,356.86 L272.88,358.51 L287.64,363.47 L302.4,371.73 L317.16,381.64 L331.92,391.55 L346.68,404.1 L361.44,417.97 L376.2,431.85 L390.96,445.06 L405.72,461.58 L420.48,477.44 L435.24,489.99 L450,499.9 L464.76,509.48 L479.52,517.74 L494.28,524.68 L509.04,530.29 L523.8,534.26 L538.56,536.24 L553.32,536.9 L568.08,536.57 L582.84,535.25 L597.6,532.94 L612.36,529.3 L627.12,525.01 L641.88,519.72 L656.64,513.78" fill="none" stroke="#808080" stroke-opacity="0.6" stroke-width="1.35" stroke-dasharray="5.0 2.2" stroke-linejoin="round"/>
<path d="M76.2,437.79 h9.6 M81,432.99 v9.6 M90.96,487.35 h9.6 M95.76,482.55 v9.6 M105.72,498.91 h9.6 M110.52,494.11 v9.6 M120.48,490.65 h9.6 M125.28,485.85 v9.6 M135.24,474.13 h9.6 M140.04,469.33 v9.6 M150,451.01 h9.6 M154.8,446.21 v9.6 M164.76,427.88 h9.6 M169.56,423.08 v9.6 M179.52,404.76 h9.6 M184.32,399.96 v9.6 M194.28,384.28 h9.6 M199.08,379.48 v9.6 M209.04,371.06 h9.6 M213.84,366.26 v9.6 M223.8,363.47 h9.6 M228.6,358.67 v9.6 M238.56,358.51 h9.6 M243.36,353.71 v9.6 M253.32,356.86 h9.6 M258.12,352.06 v9.6 M268.08,358.51 h9.6 M272.88,353.71 v9.6 M282.84,363.47 h9.6 M287.64,358.67 v9.6 M297.6,371.73 h9.6 M302.4,366.93 v9.6 M312.36,381.64 h9.6 M317.16,376.84 v9.6 M327.12,391.55 h9.6 M331.92,386.75 v9.6 M341.88,404.1 h9.6 M346.68,399.3 v9.6 M356.64,417.97 h9.6 M361.44,413.17 v9.6 M371.4,431.85 h9.6 M376.2,427.05 v9.6 M386.16,445.06 h9.6 M390.96,440.26 v9.6 M400.92,461.58 h9.6 M405.72,456.78 v9.6 M415.68,477.44 h9.6 M420.48,472.64 v9.6 M430.44,489.99 h9.6 M435.24,485.19 v9.6 M445.2,499.9 h9.6 M450,495.1 v9.6 M459.96,509.48 h9.6 M464.76,504.68 v9.6 M474.72,517.74 h9.6 M479.52,512.94 v9.6 M489.48,524.68 h9.6 M494.28,519.88 v9.6 M504.24,530.29 h9.6 M509.04,525.49 v9.6 M519,534.26 h9.6 M523.8,529.46 v9.6 M533.76,536.24 h9.6 M538.56,531.44 v9.6 M548.52,536.9 h9.6 M553.32,532.1 v9.6 M563.28,536.57 h9.6 M568.08,531.77 v9.6 M578.04,535.25 h9.6 M582.84,530.45 v9.6 M592.8,532.94 h9.6 M597.6,528.14 v9.6 M607.56,529.3 h9.6 M612.36,524.5 v9.6 M622.32,525.01 h9.6 M627.12,520.21 v9.6 M637.08,519.72 h9.6 M641.88,514.92 v9.6 M651.84,513.78 h9.6 M656.64,508.98 v9.6" fill="none" stroke="#808080" stroke-opacity="0.6" stroke-width="1.35" stroke-linejoin="round"/>
<path d="M75,427.88 L81,460.26 L95.76,495.61 L110.52,503.87 L125.28,498.91 L140.04,485.7 L154.8,465.87 L169.56,446.05 L184.32,427.88 L199.08,414.67 L213.84,404.1 L228.6,393.86 L243.36,389.23 L258.12,388.24 L272.88,389.89 L287.64,395.51 L302.4,400.8 L317.16,409.72 L331.92,421.28 L346.68,434.49 L361.44,447.71 L376.2,460.92 L390.96,473.47 L405.72,484.7 L420.48,494.95 L435.24,503.87 L450,511.79 L464.76,518.73 L479.52,524.35 L494.28,528.97 L509.04,532.61 L523.8,535.25 L538.56,536.57 L553.32,536.9 L568.08,536.57 L582.84,535.58 L597.6,533.6 L612.36,530.62 L627.12,526.99 L641.88,522.69 L656.64,517.74" fill="none" stroke="#808080" stroke-opacity="0.6" stroke-width="1.35" stroke-dasharray="5.0 2.2" stroke-linejoin="round"/>
<path d="M78.6,455.46 L81,457.86 L83.4,455.46 L85.8,457.86 L83.4,460.26 L85.8,462.66 L83.4,465.06 L81,462.66 L78.6,465.06 L76.2,462.66 L78.6,460.26 L76.2,457.86Z M93.36,490.81 L95.76,493.21 L98.16,490.81 L100.56,493.21 L98.16,495.61 L100.56,498.01 L98.16,500.41 L95.76,498.01 L93.36,500.41 L90.96,498.01 L93.36,495.61 L90.96,493.21Z M108.12,499.06 L110.52,501.47 L112.92,499.06 L115.32,501.47 L112.92,503.87 L115.32,506.26 L112.92,508.67 L110.52,506.26 L108.12,508.67 L105.72,506.26 L108.12,503.87 L105.72,501.47Z M122.88,494.11 L125.28,496.51 L127.68,494.11 L130.08,496.51 L127.68,498.91 L130.08,501.31 L127.68,503.71 L125.28,501.31 L122.88,503.71 L120.48,501.31 L122.88,498.91 L120.48,496.51Z M137.64,480.9 L140.04,483.3 L142.44,480.9 L144.84,483.3 L142.44,485.7 L144.84,488.1 L142.44,490.5 L140.04,488.1 L137.64,490.5 L135.24,488.1 L137.64,485.7 L135.24,483.3Z M152.4,461.07 L154.8,463.47 L157.2,461.07 L159.6,463.47 L157.2,465.87 L159.6,468.27 L157.2,470.67 L154.8,468.27 L152.4,470.67 L150,468.27 L152.4,465.87 L150,463.47Z M167.16,441.25 L169.56,443.65 L171.96,441.25 L174.36,443.65 L171.96,446.05 L174.36,448.45 L171.96,450.85 L169.56,448.45 L167.16,450.85 L164.76,448.45 L167.16,446.05 L164.76,443.65Z M181.92,423.08 L184.32,425.48 L186.72,423.08 L189.12,425.48 L186.72,427.88 L189.12,430.28 L186.72,432.68 L184.32,430.28 L181.92,432.68 L179.52,430.28 L181.92,427.88 L179.52,425.48Z M196.68,409.87 L199.08,412.27 L201.48,409.87 L203.88,412.27 L201.48,414.67 L203.88,417.07 L201.48,419.47 L199.08,417.07 L196.68,419.47 L194.28,417.07 L196.68,414.67 L194.28,412.27Z M211.44,399.3 L213.84,401.7 L216.24,399.3 L218.64,401.7 L216.24,404.1 L218.64,406.5 L216.24,408.9 L213.84,406.5 L211.44,408.9 L209.04,406.5 L211.44,404.1 L209.04,401.7Z M226.2,389.06 L228.6,391.46 L231,389.06 L233.4,391.46 L231,393.86 L233.4,396.26 L231,398.66 L228.6,396.26 L226.2,398.66 L223.8,396.26 L226.2,393.86 L223.8,391.46Z M240.96,384.43 L243.36,386.83 L245.76,384.43 L248.16,386.83 L245.76,389.23 L248.16,391.63 L245.76,394.03 L243.36,391.63 L240.96,394.03 L238.56,391.63 L240.96,389.23 L238.56,386.83Z M255.72,383.44 L258.12,385.84 L260.52,383.44 L262.92,385.84 L260.52,388.24 L262.92,390.64 L260.52,393.04 L258.12,390.64 L255.72,393.04 L253.32,390.64 L255.72,388.24 L253.32,385.84Z M270.48,385.09 L272.88,387.49 L275.28,385.09 L277.68,387.49 L275.28,389.89 L277.68,392.29 L275.28,394.69 L272.88,392.29 L270.48,394.69 L268.08,392.29 L270.48,389.89 L268.08,387.49Z M285.24,390.71 L287.64,393.11 L290.04,390.71 L292.44,393.11 L290.04,395.51 L292.44,397.91 L290.04,400.31 L287.64,397.91 L285.24,400.31 L282.84,397.91 L285.24,395.51 L282.84,393.11Z M300,396 L302.4,398.4 L304.8,396 L307.2,398.4 L304.8,400.8 L307.2,403.2 L304.8,405.6 L302.4,403.2 L300,405.6 L297.6,403.2 L300,400.8 L297.6,398.4Z M314.76,404.92 L317.16,407.32 L319.56,404.92 L321.96,407.32 L319.56,409.72 L321.96,412.12 L319.56,414.52 L317.16,412.12 L314.76,414.52 L312.36,412.12 L314.76,409.72 L312.36,407.32Z M329.52,416.48 L331.92,418.88 L334.32,416.48 L336.72,418.88 L334.32,421.28 L336.72,423.68 L334.32,426.08 L331.92,423.68 L329.52,426.08 L327.12,423.68 L329.52,421.28 L327.12,418.88Z M344.28,429.69 L346.68,432.09 L349.08,429.69 L351.48,432.09 L349.08,434.49 L351.48,436.89 L349.08,439.29 L346.68,436.89 L344.28,439.29 L341.88,436.89 L344.28,434.49 L341.88,432.09Z M359.04,442.91 L361.44,445.31 L363.84,442.91 L366.24,445.31 L363.84,447.71 L366.24,450.11 L363.84,452.51 L361.44,450.11 L359.04,452.51 L356.64,450.11 L359.04,447.71 L356.64,445.31Z M373.8,456.12 L376.2,458.52 L378.6,456.12 L381,458.52 L378.6,460.92 L381,463.32 L378.6,465.72 L376.2,463.32 L373.8,465.72 L371.4,463.32 L373.8,460.92 L371.4,458.52Z M388.56,468.67 L390.96,471.07 L393.36,468.67 L395.76,471.07 L393.36,473.47 L395.76,475.87 L393.36,478.27 L390.96,475.87 L388.56,478.27 L386.16,475.87 L388.56,473.47 L386.16,471.07Z M403.32,479.9 L405.72,482.3 L408.12,479.9 L410.52,482.3 L408.12,484.7 L410.52,487.1 L408.12,489.5 L405.72,487.1 L403.32,489.5 L400.92,487.1 L403.32,484.7 L400.92,482.3Z M418.08,490.15 L420.48,492.55 L422.88,490.15 L425.28,492.55 L422.88,494.95 L425.28,497.35 L422.88,499.75 L420.48,497.35 L418.08,499.75 L415.68,497.35 L418.08,494.95 L415.68,492.55Z M432.84,499.06 L435.24,501.47 L437.64,499.06 L440.04,501.47 L437.64,503.87 L440.04,506.26 L437.64,508.67 L435.24,506.26 L432.84,508.67 L430.44,506.26 L432.84,503.87 L430.44,501.47Z M447.6,506.99 L450,509.39 L452.4,506.99 L454.8,509.39 L452.4,511.79 L454.8,514.19 L452.4,516.59 L450,514.19 L447.6,516.59 L445.2,514.19 L447.6,511.79 L445.2,509.39Z M462.36,513.93 L464.76,516.33 L467.16,513.93 L469.56,516.33 L467.16,518.73 L469.56,521.13 L467.16,523.53 L464.76,521.13 L462.36,523.53 L459.96,521.13 L462.36,518.73 L459.96,516.33Z M477.12,519.55 L479.52,521.95 L481.92,519.55 L484.32,521.95 L481.92,524.35 L484.32,526.75 L481.92,529.15 L479.52,526.75 L477.12,529.15 L474.72,526.75 L477.12,524.35 L474.72,521.95Z M491.88,524.17 L494.28,526.57 L496.68,524.17 L499.08,526.57 L496.68,528.97 L499.08,531.37 L496.68,533.77 L494.28,531.37 L491.88,533.77 L489.48,531.37 L491.88,528.97 L489.48,526.57Z M506.64,527.81 L509.04,530.21 L511.44,527.81 L513.84,530.21 L511.44,532.61 L513.84,535.01 L511.44,537.41 L509.04,535.01 L506.64,537.41 L504.24,535.01 L506.64,532.61 L504.24,530.21Z M521.4,530.45 L523.8,532.85 L526.2,530.45 L528.6,532.85 L526.2,535.25 L528.6,537.65 L526.2,540.05 L523.8,537.65 L521.4,540.05 L519,537.65 L521.4,535.25 L519,532.85Z M536.16,531.77 L538.56,534.17 L540.96,531.77 L543.36,534.17 L540.96,536.57 L543.36,538.97 L540.96,541.37 L538.56,538.97 L536.16,541.37 L533.76,538.97 L536.16,536.57 L533.76,534.17Z M550.92,532.1 L553.32,534.5 L555.72,532.1 L558.12,534.5 L555.72,536.9 L558.12,539.3 L555.72,541.7 L553.32,539.3 L550.92,541.7 L548.52,539.3 L550.92,536.9 L548.52,534.5Z M565.68,531.77 L568.08,534.17 L570.48,531.77 L572.88,534.17 L570.48,536.57 L572.88,538.97 L570.48,541.37 L568.08,538.97 L565.68,541.37 L563.28,538.97 L565.68,536.57 L563.28,534.17Z M580.44,530.78 L582.84,533.18 L585.24,530.78 L587.64,533.18 L585.24,535.58 L587.64,537.98 L585.24,540.38 L582.84,537.98 L580.44,540.38 L578.04,537.98 L580.44,535.58 L578.04,533.18Z M595.2,528.8 L597.6,531.2 L600,528.8 L602.4,531.2 L600,533.6 L602.4,536 L600,538.4 L597.6,536 L595.2,538.4 L592.8,536 L595.2,533.6 L592.8,531.2Z M609.96,525.82 L612.36,528.22 L614.76,525.82 L617.16,528.22 L614.76,530.62 L617.16,533.02 L614.76,535.42 L612.36,533.02 L609.96,535.42 L607.56,533.02 L609.96,530.62 L607.56,528.22Z M624.72,522.19 L627.12,524.59 L629.52,522.19 L631.92,524.59 L629.52,526.99 L631.92,529.39 L629.52,531.79 L627.12,529.39 L624.72,531.79 L622.32,529.39 L624.72,526.99 L622.32,524.59Z M639.48,517.89 L641.88,520.29 L644.28,517.89 L646.68,520.29 L644.28,522.69 L646.68,525.09 L644.28,527.49 L641.88,525.09 L639.48,527.49 L637.08,525.09 L639.48,522.69 L637.08,520.29Z M654.24,512.94 L656.64,515.34 L659.04,512.94 L661.44,515.34 L659.04,517.74 L661.44,520.14 L659.04,522.54 L656.64,520.14 L654.24,522.54 L651.84,520.14 L654.24,517.74 L651.84,515.34Z" fill="none" stroke="#808080" stroke-opacity="0.6" stroke-width="1.35" stroke-linejoin="miter"/>
<path d="M75,365.12 L81,416.32 L95.76,487.35 L110.52,495.61 L125.28,487.35 L140.04,469.18 L154.8,442.42 L169.56,408.72 L184.32,375.36 L199.08,352.23 L213.84,341.33 L228.6,339.35 L243.36,337.7 L258.12,337.37 L272.88,338.03 L287.64,340.67 L302.4,343.98 L317.16,353.56 L331.92,367.76 L346.68,384.94 L361.44,403.11 L376.2,421.94 L390.96,441.1 L405.72,457.62 L420.48,472.48 L435.24,485.7 L450,497.26 L464.76,507.83 L479.52,516.42 L494.28,523.69 L509.04,529.63 L523.8,533.6 L538.56,535.91 L553.32,536.9 L568.08,536.57 L582.84,535.25 L597.6,532.28 L612.36,527.98 L627.12,523.03 L641.88,516.75 L656.64,509.15" fill="none" stroke="#808080" stroke-opacity="0.6" stroke-width="1.35" stroke-dasharray="5.0 2.2" stroke-linejoin="round"/>
<path d="M81,421.12 L76.2,411.52 L85.8,411.52Z M95.76,492.15 L90.96,482.55 L100.56,482.55Z M110.52,500.41 L105.72,490.81 L115.32,490.81Z M125.28,492.15 L120.48,482.55 L130.08,482.55Z M140.04,473.98 L135.24,464.38 L144.84,464.38Z M154.8,447.22 L150,437.62 L159.6,437.62Z M169.56,413.52 L164.76,403.92 L174.36,403.92Z M184.32,380.16 L179.52,370.56 L189.12,370.56Z M199.08,357.03 L194.28,347.43 L203.88,347.43Z M213.84,346.13 L209.04,336.53 L218.64,336.53Z M228.6,344.15 L223.8,334.55 L233.4,334.55Z M243.36,342.5 L238.56,332.9 L248.16,332.9Z M258.12,342.17 L253.32,332.57 L262.92,332.57Z M272.88,342.83 L268.08,333.23 L277.68,333.23Z M287.64,345.47 L282.84,335.87 L292.44,335.87Z M302.4,348.78 L297.6,339.18 L307.2,339.18Z M317.16,358.36 L312.36,348.76 L321.96,348.76Z M331.92,372.56 L327.12,362.96 L336.72,362.96Z M346.68,389.74 L341.88,380.14 L351.48,380.14Z M361.44,407.91 L356.64,398.31 L366.24,398.31Z M376.2,426.74 L371.4,417.14 L381,417.14Z M390.96,445.9 L386.16,436.3 L395.76,436.3Z M405.72,462.42 L400.92,452.82 L410.52,452.82Z M420.48,477.28 L415.68,467.68 L425.28,467.68Z M435.24,490.5 L430.44,480.9 L440.04,480.9Z M450,502.06 L445.2,492.46 L454.8,492.46Z M464.76,512.63 L459.96,503.03 L469.56,503.03Z M479.52,521.22 L474.72,511.62 L484.32,511.62Z M494.28,528.49 L489.48,518.89 L499.08,518.89Z M509.04,534.43 L504.24,524.83 L513.84,524.83Z M523.8,538.4 L519,528.8 L528.6,528.8Z M538.56,540.71 L533.76,531.11 L543.36,531.11Z M553.32,541.7 L548.52,532.1 L558.12,532.1Z M568.08,541.37 L563.28,531.77 L572.88,531.77Z M582.84,540.05 L578.04,530.45 L587.64,530.45Z M597.6,537.08 L592.8,527.48 L602.4,527.48Z M612.36,532.78 L607.56,523.18 L617.16,523.18Z M627.12,527.83 L622.32,518.23 L631.92,518.23Z M641.88,521.55 L637.08,511.95 L646.68,511.95Z M656.64,513.95 L651.84,504.35 L661.44,504.35Z" fill="none" stroke="#808080" stroke-opacity="0.6" stroke-width="1.35" stroke-linejoin="round"/>
<path d="M75,356.86 L81,429.54 L95.76,490.65 L110.52,503.87 L125.28,495.61 L140.04,478.76 L154.8,454.97 L169.56,432.51 L184.32,414.01 L199.08,398.15 L213.84,385.93 L228.6,377.01 L243.36,369.08 L258.12,365.12 L272.88,369.08 L287.64,377.01 L302.4,384.94 L317.16,396.5 L331.92,410.05 L346.68,425.57 L361.44,442.09 L376.2,457.95 L390.96,471.49 L405.72,484.04 L420.48,494.62 L435.24,504.2 L450,512.12 L464.76,519.39 L479.52,524.68 L494.28,529.63 L509.04,532.8 L523.8,535.41 L538.56,536.64 L553.32,536.9 L568.08,536.73 L582.84,535.25 L597.6,532.28 L612.36,528.11 L627.12,523.69 L641.88,519.49 L656.64,513.71" fill="none" stroke="#ff0000" stroke-width="1.75" stroke-linejoin="round"/>
<circle cx="81" cy="429.54" r="4.4" fill="none" stroke="#ff0000" stroke-width="2.0"/>
<circle cx="95.76" cy="490.65" r="4.4" fill="none" stroke="#ff0000" stroke-width="2.0"/>
<circle cx="110.52" cy="503.87" r="4.4" fill="none" stroke="#ff0000" stroke-width="2.0"/>
<circle cx="125.28" cy="495.61" r="4.4" fill="none" stroke="#ff0000" stroke-width="2.0"/>
<circle cx="140.04" cy="478.76" r="4.4" fill="none" stroke="#ff0000" stroke-width="2.0"/>
<circle cx="154.8" cy="454.97" r="4.4" fill="none" stroke="#ff0000" stroke-width="2.0"/>
<circle cx="169.56" cy="432.51" r="4.4" fill="none" stroke="#ff0000" stroke-width="2.0"/>
<circle cx="184.32" cy="414.01" r="4.4" fill="none" stroke="#ff0000" stroke-width="2.0"/>
<circle cx="199.08" cy="398.15" r="4.4" fill="none" stroke="#ff0000" stroke-width="2.0"/>
<circle cx="213.84" cy="385.93" r="4.4" fill="none" stroke="#ff0000" stroke-width="2.0"/>
<circle cx="228.6" cy="377.01" r="4.4" fill="none" stroke="#ff0000" stroke-width="2.0"/>
<circle cx="243.36" cy="369.08" r="4.4" fill="none" stroke="#ff0000" stroke-width="2.0"/>
<circle cx="258.12" cy="365.12" r="4.4" fill="none" stroke="#ff0000" stroke-width="2.0"/>
<circle cx="272.88" cy="369.08" r="4.4" fill="none" stroke="#ff0000" stroke-width="2.0"/>
<circle cx="287.64" cy="377.01" r="4.4" fill="none" stroke="#ff0000" stroke-width="2.0"/>
<circle cx="302.4" cy="384.94" r="4.4" fill="none" stroke="#ff0000" stroke-width="2.0"/>
<circle cx="317.16" cy="396.5" r="4.4" fill="none" stroke="#ff0000" stroke-width="2.0"/>
<circle cx="331.92" cy="410.05" r="4.4" fill="none" stroke="#ff0000" stroke-width="2.0"/>
<circle cx="346.68" cy="425.57" r="4.4" fill="none" stroke="#ff0000" stroke-width="2.0"/>
<circle cx="361.44" cy="442.09" r="4.4" fill="none" stroke="#ff0000" stroke-width="2.0"/>
<circle cx="376.2" cy="457.95" r="4.4" fill="none" stroke="#ff0000" stroke-width="2.0"/>
<circle cx="390.96" cy="471.49" r="4.4" fill="none" stroke="#ff0000" stroke-width="2.0"/>
<circle cx="405.72" cy="484.04" r="4.4" fill="none" stroke="#ff0000" stroke-width="2.0"/>
<circle cx="420.48" cy="494.62" r="4.4" fill="none" stroke="#ff0000" stroke-width="2.0"/>
<circle cx="435.24" cy="504.2" r="4.4" fill="none" stroke="#ff0000" stroke-width="2.0"/>
<circle cx="450" cy="512.12" r="4.4" fill="none" stroke="#ff0000" stroke-width="2.0"/>
<circle cx="464.76" cy="519.39" r="4.4" fill="none" stroke="#ff0000" stroke-width="2.0"/>
<circle cx="479.52" cy="524.68" r="4.4" fill="none" stroke="#ff0000" stroke-width="2.0"/>
<circle cx="494.28" cy="529.63" r="4.4" fill="none" stroke="#ff0000" stroke-width="2.0"/>
<circle cx="509.04" cy="532.8" r="4.4" fill="none" stroke="#ff0000" stroke-width="2.0"/>
<circle cx="523.8" cy="535.41" r="4.4" fill="none" stroke="#ff0000" stroke-width="2.0"/>
<circle cx="538.56" cy="536.64" r="4.4" fill="none" stroke="#ff0000" stroke-width="2.0"/>
<circle cx="553.32" cy="536.9" r="4.4" fill="none" stroke="#ff0000" stroke-width="2.0"/>
<circle cx="568.08" cy="536.73" r="4.4" fill="none" stroke="#ff0000" stroke-width="2.0"/>
<circle cx="582.84" cy="535.25" r="4.4" fill="none" stroke="#ff0000" stroke-width="2.0"/>
<circle cx="597.6" cy="532.28" r="4.4" fill="none" stroke="#ff0000" stroke-width="2.0"/>
<circle cx="612.36" cy="528.11" r="4.4" fill="none" stroke="#ff0000" stroke-width="2.0"/>
<circle cx="627.12" cy="523.69" r="4.4" fill="none" stroke="#ff0000" stroke-width="2.0"/>
<circle cx="641.88" cy="519.49" r="4.4" fill="none" stroke="#ff0000" stroke-width="2.0"/>
<circle cx="656.64" cy="513.71" r="4.4" fill="none" stroke="#ff0000" stroke-width="2.0"/>
<path d="M75,358.51 L81,430 L95.76,491.15 L110.52,504.86 L125.28,496.5 L140.04,480.01 L154.8,456.46 L169.56,434.49 L184.32,415.79 L199.08,398.98 L213.84,385.34 L228.6,373.21 L243.36,366.77 L258.12,364.46 L272.88,366.37 L287.64,372.75 L302.4,382.4 L317.16,394.78 L331.92,408.79 L346.68,424.81 L361.44,441.49 L376.2,457.48 L390.96,470.96 L405.72,483.71 L420.48,494.62 L435.24,504.2 L450,512.12 L464.76,519.39 L479.52,524.61 L494.28,529.6 L509.04,532.8 L523.8,535.41 L538.56,536.64 L553.32,536.9 L568.08,536.9 L582.84,535.71 L597.6,533.1 L612.36,530.09 L627.12,526.1 L641.88,521.7 L656.64,516.48" fill="none" stroke="#000" stroke-width="1.7" stroke-linejoin="round"/>
<path d="M81,425.35 L82.04,428.56 L85.42,428.56 L82.69,430.55 L83.73,433.76 L81,431.77 L78.27,433.76 L79.31,430.55 L76.58,428.56 L79.96,428.56Z M95.76,486.5 L96.8,489.71 L100.18,489.71 L97.45,491.7 L98.49,494.91 L95.76,492.92 L93.03,494.91 L94.07,491.7 L91.34,489.71 L94.72,489.71Z M110.52,500.21 L111.56,503.42 L114.94,503.42 L112.21,505.4 L113.25,508.62 L110.52,506.63 L107.79,508.62 L108.83,505.4 L106.1,503.42 L109.48,503.42Z M125.28,491.85 L126.32,495.06 L129.7,495.06 L126.97,497.05 L128.01,500.26 L125.28,498.27 L122.55,500.26 L123.59,497.05 L120.86,495.06 L124.24,495.06Z M140.04,475.36 L141.08,478.58 L144.46,478.58 L141.73,480.56 L142.77,483.78 L140.04,481.79 L137.31,483.78 L138.35,480.56 L135.62,478.58 L139,478.58Z M154.8,451.81 L155.84,455.02 L159.22,455.02 L156.49,457.01 L157.53,460.22 L154.8,458.24 L152.07,460.22 L153.11,457.01 L150.38,455.02 L153.76,455.02Z M169.56,429.84 L170.6,433.05 L173.98,433.05 L171.25,435.04 L172.29,438.25 L169.56,436.27 L166.83,438.25 L167.87,435.04 L165.14,433.05 L168.52,433.05Z M184.32,411.14 L185.36,414.36 L188.74,414.36 L186.01,416.34 L187.05,419.56 L184.32,417.57 L181.59,419.56 L182.63,416.34 L179.9,414.36 L183.28,414.36Z M199.08,394.33 L200.12,397.54 L203.5,397.54 L200.77,399.53 L201.81,402.74 L199.08,400.76 L196.35,402.74 L197.39,399.53 L194.66,397.54 L198.04,397.54Z M213.84,380.69 L214.88,383.9 L218.26,383.9 L215.53,385.88 L216.57,389.1 L213.84,387.11 L211.11,389.1 L212.15,385.88 L209.42,383.9 L212.8,383.9Z M228.6,368.56 L229.64,371.77 L233.02,371.77 L230.29,373.76 L231.33,376.97 L228.6,374.99 L225.87,376.97 L226.91,373.76 L224.18,371.77 L227.56,371.77Z M243.36,362.12 L244.4,365.33 L247.78,365.33 L245.05,367.32 L246.09,370.53 L243.36,368.55 L240.63,370.53 L241.67,367.32 L238.94,365.33 L242.32,365.33Z M258.12,359.81 L259.16,363.02 L262.54,363.02 L259.81,365.01 L260.85,368.22 L258.12,366.23 L255.39,368.22 L256.43,365.01 L253.7,363.02 L257.08,363.02Z M272.88,361.72 L273.92,364.94 L277.3,364.94 L274.57,366.92 L275.61,370.14 L272.88,368.15 L270.15,370.14 L271.19,366.92 L268.46,364.94 L271.84,364.94Z M287.64,368.1 L288.68,371.31 L292.06,371.31 L289.33,373.3 L290.37,376.51 L287.64,374.53 L284.91,376.51 L285.95,373.3 L283.22,371.31 L286.6,371.31Z M302.4,377.75 L303.44,380.96 L306.82,380.96 L304.09,382.94 L305.13,386.16 L302.4,384.17 L299.67,386.16 L300.71,382.94 L297.98,380.96 L301.36,380.96Z M317.16,390.13 L318.2,393.35 L321.58,393.35 L318.85,395.33 L319.89,398.55 L317.16,396.56 L314.43,398.55 L315.47,395.33 L312.74,393.35 L316.12,393.35Z M331.92,404.14 L332.96,407.35 L336.34,407.35 L333.61,409.34 L334.65,412.55 L331.92,410.57 L329.19,412.55 L330.23,409.34 L327.5,407.35 L330.88,407.35Z M346.68,420.16 L347.72,423.38 L351.1,423.38 L348.37,425.36 L349.41,428.57 L346.68,426.59 L343.95,428.57 L344.99,425.36 L342.26,423.38 L345.64,423.38Z M361.44,436.84 L362.48,440.06 L365.86,440.06 L363.13,442.04 L364.17,445.26 L361.44,443.27 L358.71,445.26 L359.75,442.04 L357.02,440.06 L360.4,440.06Z M376.2,452.83 L377.24,456.05 L380.62,456.05 L377.89,458.03 L378.93,461.25 L376.2,459.26 L373.47,461.25 L374.51,458.03 L371.78,456.05 L375.16,456.05Z M390.96,466.31 L392,469.53 L395.38,469.53 L392.65,471.51 L393.69,474.72 L390.96,472.74 L388.23,474.72 L389.27,471.51 L386.54,469.53 L389.92,469.53Z M405.72,479.06 L406.76,482.28 L410.14,482.28 L407.41,484.26 L408.45,487.48 L405.72,485.49 L402.99,487.48 L404.03,484.26 L401.3,482.28 L404.68,482.28Z M420.48,489.97 L421.52,493.18 L424.9,493.18 L422.17,495.16 L423.21,498.38 L420.48,496.39 L417.75,498.38 L418.79,495.16 L416.06,493.18 L419.44,493.18Z M435.24,499.55 L436.28,502.76 L439.66,502.76 L436.93,504.74 L437.97,507.96 L435.24,505.97 L432.51,507.96 L433.55,504.74 L430.82,502.76 L434.2,502.76Z M450,507.47 L451.04,510.69 L454.42,510.69 L451.69,512.67 L452.73,515.89 L450,513.9 L447.27,515.89 L448.31,512.67 L445.58,510.69 L448.96,510.69Z M464.76,514.74 L465.8,517.95 L469.18,517.95 L466.45,519.94 L467.49,523.15 L464.76,521.17 L462.03,523.15 L463.07,519.94 L460.34,517.95 L463.72,517.95Z M479.52,519.96 L480.56,523.17 L483.94,523.17 L481.21,525.16 L482.25,528.37 L479.52,526.39 L476.79,528.37 L477.83,525.16 L475.1,523.17 L478.48,523.17Z M494.28,524.95 L495.32,528.16 L498.7,528.16 L495.97,530.15 L497.01,533.36 L494.28,531.38 L491.55,533.36 L492.59,530.15 L489.86,528.16 L493.24,528.16Z M509.04,528.15 L510.08,531.37 L513.46,531.37 L510.73,533.35 L511.77,536.57 L509.04,534.58 L506.31,536.57 L507.35,533.35 L504.62,531.37 L508,531.37Z M523.8,530.76 L524.84,533.98 L528.22,533.98 L525.49,535.96 L526.53,539.18 L523.8,537.19 L521.07,539.18 L522.11,535.96 L519.38,533.98 L522.76,533.98Z M538.56,531.99 L539.6,535.2 L542.98,535.2 L540.25,537.18 L541.29,540.4 L538.56,538.41 L535.83,540.4 L536.87,537.18 L534.14,535.2 L537.52,535.2Z M553.32,532.25 L554.36,535.46 L557.74,535.46 L555.01,537.45 L556.05,540.66 L553.32,538.68 L550.59,540.66 L551.63,537.45 L548.9,535.46 L552.28,535.46Z M568.08,532.25 L569.12,535.46 L572.5,535.46 L569.77,537.45 L570.81,540.66 L568.08,538.68 L565.35,540.66 L566.39,537.45 L563.66,535.46 L567.04,535.46Z M582.84,531.06 L583.88,534.27 L587.26,534.27 L584.53,536.26 L585.57,539.47 L582.84,537.49 L580.11,539.47 L581.15,536.26 L578.42,534.27 L581.8,534.27Z M597.6,528.45 L598.64,531.66 L602.02,531.66 L599.29,533.65 L600.33,536.86 L597.6,534.88 L594.87,536.86 L595.91,533.65 L593.18,531.66 L596.56,531.66Z M612.36,525.44 L613.4,528.66 L616.78,528.66 L614.05,530.64 L615.09,533.86 L612.36,531.87 L609.63,533.86 L610.67,530.64 L607.94,528.66 L611.32,528.66Z M627.12,521.45 L628.16,524.66 L631.54,524.66 L628.81,526.65 L629.85,529.86 L627.12,527.87 L624.39,529.86 L625.43,526.65 L622.7,524.66 L626.08,524.66Z M641.88,517.05 L642.92,520.27 L646.3,520.27 L643.57,522.25 L644.61,525.47 L641.88,523.48 L639.15,525.47 L640.19,522.25 L637.46,520.27 L640.84,520.27Z M656.64,511.83 L657.68,515.05 L661.06,515.05 L658.33,517.03 L659.37,520.25 L656.64,518.26 L653.91,520.25 L654.95,517.03 L652.22,515.05 L655.6,515.05Z" fill="#000" stroke="#000" stroke-width="1.4" stroke-linejoin="round"/>
</g>
<clipPath id="clipc"><rect x="75" y="611.9" width="596.3" height="237.4"/></clipPath>
<g clip-path="url(#clipc)">
<path d="M75,838.4 L99.85,827.81 L124.69,800.63 L149.54,769.21 L174.38,746.27 L199.23,730.38 L224.07,742.74 L248.92,762.5 L273.77,770.98 L298.61,760.03 L323.46,725.44 L348.3,678.49 L373.15,655.19 L398,672.84 L422.84,689.79 L447.69,689.79 L472.53,689.79 L497.38,689.79 L522.22,693.32 L547.07,692.26 L571.92,692.61 L596.76,732.5 L621.61,785.45 L646.45,827.81 L671.3,838.4" fill="none" stroke="#808080" stroke-opacity="0.6" stroke-width="1.35" stroke-dasharray="5.0 2.2" stroke-linejoin="round"/>
<path d="M75,831.61 L79.07,838.4 L75,845.19 L70.93,838.4Z M99.85,821.02 L103.92,827.81 L99.85,834.6 L95.77,827.81Z M124.69,793.84 L128.76,800.63 L124.69,807.42 L120.62,800.63Z M149.54,762.42 L153.61,769.21 L149.54,776 L145.46,769.21Z M174.38,739.48 L178.46,746.27 L174.38,753.06 L170.31,746.27Z M199.23,723.59 L203.3,730.38 L199.23,737.17 L195.16,730.38Z M224.07,735.95 L228.15,742.74 L224.07,749.53 L220,742.74Z M248.92,755.72 L252.99,762.5 L248.92,769.29 L244.85,762.5Z M273.77,764.19 L277.84,770.98 L273.77,777.77 L269.69,770.98Z M298.61,753.25 L302.69,760.03 L298.61,766.82 L294.54,760.03Z M323.46,718.65 L327.53,725.44 L323.46,732.23 L319.39,725.44Z M348.3,671.7 L352.38,678.49 L348.3,685.28 L344.23,678.49Z M373.15,648.4 L377.22,655.19 L373.15,661.98 L369.08,655.19Z M398,666.05 L402.07,672.84 L398,679.63 L393.92,672.84Z M422.84,683 L426.91,689.79 L422.84,696.58 L418.77,689.79Z M447.69,683 L451.76,689.79 L447.69,696.58 L443.61,689.79Z M472.53,683 L476.61,689.79 L472.53,696.58 L468.46,689.79Z M497.38,683 L501.45,689.79 L497.38,696.58 L493.31,689.79Z M522.22,686.53 L526.3,693.32 L522.22,700.11 L518.15,693.32Z M547.07,685.47 L551.14,692.26 L547.07,699.05 L543,692.26Z M571.92,685.82 L575.99,692.61 L571.92,699.4 L567.84,692.61Z M596.76,725.71 L600.84,732.5 L596.76,739.29 L592.69,732.5Z M621.61,778.66 L625.68,785.45 L621.61,792.24 L617.54,785.45Z M646.45,821.02 L650.53,827.81 L646.45,834.6 L642.38,827.81Z M671.3,831.61 L675.37,838.4 L671.3,845.19 L667.23,838.4Z" fill="none" stroke="#808080" stroke-opacity="0.6" stroke-width="1.35" stroke-linejoin="round"/>
<path d="M75,838.4 L99.85,833.11 L124.69,818.28 L149.54,805.92 L174.38,794.63 L199.23,788.98 L224.07,789.69 L248.92,794.63 L273.77,798.51 L298.61,792.16 L323.46,769.56 L348.3,753.68 L373.15,740.97 L398,735.32 L422.84,731.79 L447.69,730.74 L472.53,730.38 L497.38,730.74 L522.22,731.79 L547.07,737.79 L571.92,750.15 L596.76,771.33 L621.61,801.34 L646.45,829.57 L671.3,838.4" fill="none" stroke="#808080" stroke-opacity="0.6" stroke-width="1.35" stroke-dasharray="5.0 2.2" stroke-linejoin="round"/>
<path d="M75,838.4 v4.8 M75,838.4 l3.84,-2.4 M75,838.4 l-3.84,-2.4 M99.85,833.11 v4.8 M99.85,833.11 l3.84,-2.4 M99.85,833.11 l-3.84,-2.4 M124.69,818.28 v4.8 M124.69,818.28 l3.84,-2.4 M124.69,818.28 l-3.84,-2.4 M149.54,805.92 v4.8 M149.54,805.92 l3.84,-2.4 M149.54,805.92 l-3.84,-2.4 M174.38,794.63 v4.8 M174.38,794.63 l3.84,-2.4 M174.38,794.63 l-3.84,-2.4 M199.23,788.98 v4.8 M199.23,788.98 l3.84,-2.4 M199.23,788.98 l-3.84,-2.4 M224.07,789.69 v4.8 M224.07,789.69 l3.84,-2.4 M224.07,789.69 l-3.84,-2.4 M248.92,794.63 v4.8 M248.92,794.63 l3.84,-2.4 M248.92,794.63 l-3.84,-2.4 M273.77,798.51 v4.8 M273.77,798.51 l3.84,-2.4 M273.77,798.51 l-3.84,-2.4 M298.61,792.16 v4.8 M298.61,792.16 l3.84,-2.4 M298.61,792.16 l-3.84,-2.4 M323.46,769.56 v4.8 M323.46,769.56 l3.84,-2.4 M323.46,769.56 l-3.84,-2.4 M348.3,753.68 v4.8 M348.3,753.68 l3.84,-2.4 M348.3,753.68 l-3.84,-2.4 M373.15,740.97 v4.8 M373.15,740.97 l3.84,-2.4 M373.15,740.97 l-3.84,-2.4 M398,735.32 v4.8 M398,735.32 l3.84,-2.4 M398,735.32 l-3.84,-2.4 M422.84,731.79 v4.8 M422.84,731.79 l3.84,-2.4 M422.84,731.79 l-3.84,-2.4 M447.69,730.74 v4.8 M447.69,730.74 l3.84,-2.4 M447.69,730.74 l-3.84,-2.4 M472.53,730.38 v4.8 M472.53,730.38 l3.84,-2.4 M472.53,730.38 l-3.84,-2.4 M497.38,730.74 v4.8 M497.38,730.74 l3.84,-2.4 M497.38,730.74 l-3.84,-2.4 M522.22,731.79 v4.8 M522.22,731.79 l3.84,-2.4 M522.22,731.79 l-3.84,-2.4 M547.07,737.79 v4.8 M547.07,737.79 l3.84,-2.4 M547.07,737.79 l-3.84,-2.4 M571.92,750.15 v4.8 M571.92,750.15 l3.84,-2.4 M571.92,750.15 l-3.84,-2.4 M596.76,771.33 v4.8 M596.76,771.33 l3.84,-2.4 M596.76,771.33 l-3.84,-2.4 M621.61,801.34 v4.8 M621.61,801.34 l3.84,-2.4 M621.61,801.34 l-3.84,-2.4 M646.45,829.57 v4.8 M646.45,829.57 l3.84,-2.4 M646.45,829.57 l-3.84,-2.4 M671.3,838.4 v4.8 M671.3,838.4 l3.84,-2.4 M671.3,838.4 l-3.84,-2.4" fill="none" stroke="#808080" stroke-opacity="0.6" stroke-width="1.35" stroke-linejoin="round"/>
<path d="M75,838.4 L99.85,833.46 L124.69,818.99 L149.54,807.34 L174.38,796.04 L199.23,790.04 L224.07,790.75 L248.92,796.04 L273.77,799.57 L298.61,793.22 L323.46,771.33 L348.3,756.15 L373.15,742.74 L398,737.09 L422.84,732.5 L447.69,731.44 L472.53,731.44 L497.38,731.44 L522.22,732.5 L547.07,738.85 L571.92,750.5 L596.76,769.56 L621.61,799.57 L646.45,829.22 L671.3,838.4" fill="none" stroke="#808080" stroke-opacity="0.6" stroke-width="1.35" stroke-dasharray="5.0 2.2" stroke-linejoin="round"/>
<path d="M70.2,838.4 L79.8,833.6 L79.8,843.2Z M95.05,833.46 L104.65,828.66 L104.65,838.26Z M119.89,818.99 L129.49,814.19 L129.49,823.78Z M144.74,807.34 L154.34,802.54 L154.34,812.14Z M169.58,796.04 L179.18,791.24 L179.18,800.84Z M194.43,790.04 L204.03,785.24 L204.03,794.84Z M219.27,790.75 L228.88,785.95 L228.88,795.54Z M244.12,796.04 L253.72,791.24 L253.72,800.84Z M268.97,799.57 L278.57,794.77 L278.57,804.37Z M293.81,793.22 L303.41,788.42 L303.41,798.02Z M318.66,771.33 L328.26,766.53 L328.26,776.13Z M343.5,756.15 L353.1,751.35 L353.1,760.95Z M368.35,742.74 L377.95,737.94 L377.95,747.54Z M393.2,737.09 L402.8,732.29 L402.8,741.89Z M418.04,732.5 L427.64,727.7 L427.64,737.3Z M442.89,731.44 L452.49,726.64 L452.49,736.24Z M467.73,731.44 L477.33,726.64 L477.33,736.24Z M492.58,731.44 L502.18,726.64 L502.18,736.24Z M517.42,732.5 L527.02,727.7 L527.02,737.3Z M542.27,738.85 L551.87,734.05 L551.87,743.65Z M567.12,750.5 L576.72,745.7 L576.72,755.3Z M591.96,769.56 L601.56,764.76 L601.56,774.36Z M616.81,799.57 L626.41,794.77 L626.41,804.37Z M641.65,829.22 L651.25,824.42 L651.25,834.02Z M666.5,838.4 L676.1,833.6 L676.1,843.2Z" fill="none" stroke="#808080" stroke-opacity="0.6" stroke-width="1.35" stroke-linejoin="round"/>
<path d="M75,838.4 L99.85,832.75 L124.69,817.22 L149.54,804.51 L174.38,791.45 L199.23,785.45 L224.07,786.86 L248.92,792.51 L273.77,796.04 L298.61,788.98 L323.46,760.74 L348.3,736.03 L373.15,718.03 L398,706.38 L422.84,707.79 L447.69,712.38 L472.53,714.5 L497.38,712.38 L522.22,706.73 L547.07,702.85 L571.92,721.91 L596.76,757.21 L621.61,796.04 L646.45,828.52 L671.3,838.4" fill="none" stroke="#808080" stroke-opacity="0.6" stroke-width="1.35" stroke-dasharray="5.0 2.2" stroke-linejoin="round"/>
<path d="M79.8,838.4 L70.2,833.6 L70.2,843.2Z M104.65,832.75 L95.05,827.95 L95.05,837.55Z M129.49,817.22 L119.89,812.42 L119.89,822.02Z M154.34,804.51 L144.74,799.71 L144.74,809.31Z M179.18,791.45 L169.58,786.65 L169.58,796.25Z M204.03,785.45 L194.43,780.65 L194.43,790.25Z M228.88,786.86 L219.27,782.06 L219.27,791.66Z M253.72,792.51 L244.12,787.71 L244.12,797.31Z M278.57,796.04 L268.97,791.24 L268.97,800.84Z M303.41,788.98 L293.81,784.18 L293.81,793.78Z M328.26,760.74 L318.66,755.94 L318.66,765.54Z M353.1,736.03 L343.5,731.23 L343.5,740.83Z M377.95,718.03 L368.35,713.23 L368.35,722.83Z M402.8,706.38 L393.2,701.58 L393.2,711.18Z M427.64,707.79 L418.04,702.99 L418.04,712.59Z M452.49,712.38 L442.89,707.58 L442.89,717.18Z M477.33,714.5 L467.73,709.7 L467.73,719.3Z M502.18,712.38 L492.58,707.58 L492.58,717.18Z M527.02,706.73 L517.42,701.93 L517.42,711.53Z M551.87,702.85 L542.27,698.05 L542.27,707.65Z M576.72,721.91 L567.12,717.11 L567.12,726.71Z M601.56,757.21 L591.96,752.41 L591.96,762.01Z M626.41,796.04 L616.81,791.24 L616.81,800.84Z M651.25,828.52 L641.65,823.72 L641.65,833.32Z M676.1,838.4 L666.5,833.6 L666.5,843.2Z" fill="none" stroke="#808080" stroke-opacity="0.6" stroke-width="1.35" stroke-linejoin="round"/>
<path d="M75,838.4 L99.85,832.05 L124.69,815.81 L149.54,802.39 L174.38,788.98 L199.23,783.68 L224.07,786.16 L248.92,791.8 L273.77,795.33 L298.61,787.22 L323.46,753.68 L348.3,721.91 L373.15,694.73 L398,659.78 L422.84,636.48 L447.69,627.31 L472.53,625.89 L497.38,627.31 L522.22,632.95 L547.07,657.31 L571.92,699.32 L596.76,745.91 L621.61,792.51 L646.45,827.81 L671.3,838.4" fill="none" stroke="#808080" stroke-opacity="0.6" stroke-width="1.35" stroke-dasharray="5.0 2.2" stroke-linejoin="round"/>
<path d="M70.2,838.4 h9.6 M75,833.6 v9.6 M95.05,832.05 h9.6 M99.85,827.25 v9.6 M119.89,815.81 h9.6 M124.69,811.01 v9.6 M144.74,802.39 h9.6 M149.54,797.59 v9.6 M169.58,788.98 h9.6 M174.38,784.18 v9.6 M194.43,783.68 h9.6 M199.23,778.88 v9.6 M219.27,786.16 h9.6 M224.07,781.36 v9.6 M244.12,791.8 h9.6 M248.92,787 v9.6 M268.97,795.33 h9.6 M273.77,790.53 v9.6 M293.81,787.22 h9.6 M298.61,782.42 v9.6 M318.66,753.68 h9.6 M323.46,748.88 v9.6 M343.5,721.91 h9.6 M348.3,717.11 v9.6 M368.35,694.73 h9.6 M373.15,689.93 v9.6 M393.2,659.78 h9.6 M398,654.98 v9.6 M418.04,636.48 h9.6 M422.84,631.68 v9.6 M442.89,627.31 h9.6 M447.69,622.51 v9.6 M467.73,625.89 h9.6 M472.53,621.09 v9.6 M492.58,627.31 h9.6 M497.38,622.51 v9.6 M517.42,632.95 h9.6 M522.22,628.15 v9.6 M542.27,657.31 h9.6 M547.07,652.51 v9.6 M567.12,699.32 h9.6 M571.92,694.52 v9.6 M591.96,745.91 h9.6 M596.76,741.11 v9.6 M616.81,792.51 h9.6 M621.61,787.71 v9.6 M641.65,827.81 h9.6 M646.45,823.01 v9.6 M666.5,838.4 h9.6 M671.3,833.6 v9.6" fill="none" stroke="#808080" stroke-opacity="0.6" stroke-width="1.35" stroke-linejoin="round"/>
<path d="M75,838.4 L99.85,830.63 L124.69,809.45 L149.54,779.8 L174.38,762.86 L199.23,761.8 L224.07,771.33 L248.92,779.45 L273.77,781.92 L298.61,772.74 L323.46,750.15 L348.3,721.91 L373.15,697.2 L398,682.37 L422.84,671.78 L447.69,669.67 L472.53,669.67 L497.38,669.67 L522.22,675.31 L547.07,695.43 L571.92,723.67 L596.76,758.98 L621.61,797.8 L646.45,828.52 L671.3,838.4" fill="none" stroke="#808080" stroke-opacity="0.6" stroke-width="1.35" stroke-dasharray="5.0 2.2" stroke-linejoin="round"/>
<path d="M72.6,833.6 L75,836 L77.4,833.6 L79.8,836 L77.4,838.4 L79.8,840.8 L77.4,843.2 L75,840.8 L72.6,843.2 L70.2,840.8 L72.6,838.4 L70.2,836Z M97.45,825.83 L99.85,828.23 L102.25,825.83 L104.65,828.23 L102.25,830.63 L104.65,833.03 L102.25,835.43 L99.85,833.03 L97.45,835.43 L95.05,833.03 L97.45,830.63 L95.05,828.23Z M122.29,804.65 L124.69,807.05 L127.09,804.65 L129.49,807.05 L127.09,809.45 L129.49,811.85 L127.09,814.25 L124.69,811.85 L122.29,814.25 L119.89,811.85 L122.29,809.45 L119.89,807.05Z M147.14,775 L149.54,777.4 L151.94,775 L154.34,777.4 L151.94,779.8 L154.34,782.2 L151.94,784.6 L149.54,782.2 L147.14,784.6 L144.74,782.2 L147.14,779.8 L144.74,777.4Z M171.98,758.06 L174.38,760.46 L176.78,758.06 L179.18,760.46 L176.78,762.86 L179.18,765.26 L176.78,767.66 L174.38,765.26 L171.98,767.66 L169.58,765.26 L171.98,762.86 L169.58,760.46Z M196.83,757 L199.23,759.4 L201.63,757 L204.03,759.4 L201.63,761.8 L204.03,764.2 L201.63,766.6 L199.23,764.2 L196.83,766.6 L194.43,764.2 L196.83,761.8 L194.43,759.4Z M221.67,766.53 L224.07,768.93 L226.47,766.53 L228.88,768.93 L226.47,771.33 L228.88,773.73 L226.47,776.13 L224.07,773.73 L221.67,776.13 L219.27,773.73 L221.67,771.33 L219.27,768.93Z M246.52,774.65 L248.92,777.05 L251.32,774.65 L253.72,777.05 L251.32,779.45 L253.72,781.85 L251.32,784.25 L248.92,781.85 L246.52,784.25 L244.12,781.85 L246.52,779.45 L244.12,777.05Z M271.37,777.12 L273.77,779.52 L276.17,777.12 L278.57,779.52 L276.17,781.92 L278.57,784.32 L276.17,786.72 L273.77,784.32 L271.37,786.72 L268.97,784.32 L271.37,781.92 L268.97,779.52Z M296.21,767.94 L298.61,770.34 L301.01,767.94 L303.41,770.34 L301.01,772.74 L303.41,775.14 L301.01,777.54 L298.61,775.14 L296.21,777.54 L293.81,775.14 L296.21,772.74 L293.81,770.34Z M321.06,745.35 L323.46,747.75 L325.86,745.35 L328.26,747.75 L325.86,750.15 L328.26,752.55 L325.86,754.95 L323.46,752.55 L321.06,754.95 L318.66,752.55 L321.06,750.15 L318.66,747.75Z M345.9,717.11 L348.3,719.51 L350.7,717.11 L353.1,719.51 L350.7,721.91 L353.1,724.31 L350.7,726.71 L348.3,724.31 L345.9,726.71 L343.5,724.31 L345.9,721.91 L343.5,719.51Z M370.75,692.4 L373.15,694.8 L375.55,692.4 L377.95,694.8 L375.55,697.2 L377.95,699.6 L375.55,702 L373.15,699.6 L370.75,702 L368.35,699.6 L370.75,697.2 L368.35,694.8Z M395.6,677.57 L398,679.97 L400.4,677.57 L402.8,679.97 L400.4,682.37 L402.8,684.77 L400.4,687.17 L398,684.77 L395.6,687.17 L393.2,684.77 L395.6,682.37 L393.2,679.97Z M420.44,666.98 L422.84,669.38 L425.24,666.98 L427.64,669.38 L425.24,671.78 L427.64,674.18 L425.24,676.58 L422.84,674.18 L420.44,676.58 L418.04,674.18 L420.44,671.78 L418.04,669.38Z M445.29,664.87 L447.69,667.27 L450.09,664.87 L452.49,667.27 L450.09,669.67 L452.49,672.07 L450.09,674.47 L447.69,672.07 L445.29,674.47 L442.89,672.07 L445.29,669.67 L442.89,667.27Z M470.13,664.87 L472.53,667.27 L474.93,664.87 L477.33,667.27 L474.93,669.67 L477.33,672.07 L474.93,674.47 L472.53,672.07 L470.13,674.47 L467.73,672.07 L470.13,669.67 L467.73,667.27Z M494.98,664.87 L497.38,667.27 L499.78,664.87 L502.18,667.27 L499.78,669.67 L502.18,672.07 L499.78,674.47 L497.38,672.07 L494.98,674.47 L492.58,672.07 L494.98,669.67 L492.58,667.27Z M519.82,670.51 L522.22,672.91 L524.62,670.51 L527.02,672.91 L524.62,675.31 L527.02,677.71 L524.62,680.11 L522.22,677.71 L519.82,680.11 L517.42,677.71 L519.82,675.31 L517.42,672.91Z M544.67,690.63 L547.07,693.03 L549.47,690.63 L551.87,693.03 L549.47,695.43 L551.87,697.83 L549.47,700.23 L547.07,697.83 L544.67,700.23 L542.27,697.83 L544.67,695.43 L542.27,693.03Z M569.52,718.88 L571.92,721.27 L574.32,718.88 L576.72,721.27 L574.32,723.67 L576.72,726.07 L574.32,728.47 L571.92,726.07 L569.52,728.47 L567.12,726.07 L569.52,723.67 L567.12,721.27Z M594.36,754.18 L596.76,756.58 L599.16,754.18 L601.56,756.58 L599.16,758.98 L601.56,761.38 L599.16,763.77 L596.76,761.38 L594.36,763.77 L591.96,761.38 L594.36,758.98 L591.96,756.58Z M619.21,793 L621.61,795.4 L624.01,793 L626.41,795.4 L624.01,797.8 L626.41,800.2 L624.01,802.6 L621.61,800.2 L619.21,802.6 L616.81,800.2 L619.21,797.8 L616.81,795.4Z M644.05,823.72 L646.45,826.12 L648.85,823.72 L651.25,826.12 L648.85,828.52 L651.25,830.92 L648.85,833.32 L646.45,830.92 L644.05,833.32 L641.65,830.92 L644.05,828.52 L641.65,826.12Z M668.9,833.6 L671.3,836 L673.7,833.6 L676.1,836 L673.7,838.4 L676.1,840.8 L673.7,843.2 L671.3,840.8 L668.9,843.2 L666.5,840.8 L668.9,838.4 L666.5,836Z" fill="none" stroke="#808080" stroke-opacity="0.6" stroke-width="1.35" stroke-linejoin="miter"/>
<path d="M75,838.4 L99.85,831.34 L124.69,816.51 L149.54,803.81 L174.38,793.22 L199.23,787.92 L224.07,788.98 L248.92,793.92 L273.77,797.45 L298.61,789.69 L323.46,755.44 L348.3,709.2 L373.15,665.43 L398,630.48 L422.84,623.07 L447.69,634.72 L472.53,639.66 L497.38,634.72 L522.22,622.01 L547.07,631.54 L571.92,670.73 L596.76,721.91 L621.61,782.63 L646.45,826.04 L671.3,838.4" fill="none" stroke="#808080" stroke-opacity="0.6" stroke-width="1.35" stroke-dasharray="5.0 2.2" stroke-linejoin="round"/>
<path d="M75,843.2 L70.2,833.6 L79.8,833.6Z M99.85,836.14 L95.05,826.54 L104.65,826.54Z M124.69,821.31 L119.89,811.71 L129.49,811.71Z M149.54,808.61 L144.74,799.01 L154.34,799.01Z M174.38,798.02 L169.58,788.42 L179.18,788.42Z M199.23,792.72 L194.43,783.12 L204.03,783.12Z M224.07,793.78 L219.27,784.18 L228.88,784.18Z M248.92,798.72 L244.12,789.12 L253.72,789.12Z M273.77,802.25 L268.97,792.65 L278.57,792.65Z M298.61,794.49 L293.81,784.89 L303.41,784.89Z M323.46,760.24 L318.66,750.64 L328.26,750.64Z M348.3,714 L343.5,704.4 L353.1,704.4Z M373.15,670.23 L368.35,660.63 L377.95,660.63Z M398,635.28 L393.2,625.68 L402.8,625.68Z M422.84,627.87 L418.04,618.27 L427.64,618.27Z M447.69,639.52 L442.89,629.92 L452.49,629.92Z M472.53,644.46 L467.73,634.86 L477.33,634.86Z M497.38,639.52 L492.58,629.92 L502.18,629.92Z M522.22,626.81 L517.42,617.21 L527.02,617.21Z M547.07,636.34 L542.27,626.74 L551.87,626.74Z M571.92,675.52 L567.12,665.93 L576.72,665.93Z M596.76,726.71 L591.96,717.11 L601.56,717.11Z M621.61,787.43 L616.81,777.83 L626.41,777.83Z M646.45,830.84 L641.65,821.25 L651.25,821.25Z M671.3,843.2 L666.5,833.6 L676.1,833.6Z" fill="none" stroke="#808080" stroke-opacity="0.6" stroke-width="1.35" stroke-linejoin="round"/>
<path d="M75,838.4 L99.85,830.81 L124.69,811.5 L149.54,792.51 L174.38,779.41 L199.23,774.4 L224.07,778.25 L248.92,784.39 L273.77,787.6 L298.61,782.06 L323.46,764.2 L348.3,738.5 L373.15,712.8 L398,692.61 L422.84,676.02 L447.69,667.19 L472.53,664.3 L497.38,666.91 L522.22,677.61 L547.07,696.49 L571.92,724.59 L596.76,760.74 L621.61,799.82 L646.45,828.16 L671.3,838.4" fill="none" stroke="#ff0000" stroke-width="1.75" stroke-linejoin="round"/>
<circle cx="75" cy="838.4" r="4.4" fill="none" stroke="#ff0000" stroke-width="2.0"/>
<circle cx="99.85" cy="830.81" r="4.4" fill="none" stroke="#ff0000" stroke-width="2.0"/>
<circle cx="124.69" cy="811.5" r="4.4" fill="none" stroke="#ff0000" stroke-width="2.0"/>
<circle cx="149.54" cy="792.51" r="4.4" fill="none" stroke="#ff0000" stroke-width="2.0"/>
<circle cx="174.38" cy="779.41" r="4.4" fill="none" stroke="#ff0000" stroke-width="2.0"/>
<circle cx="199.23" cy="774.4" r="4.4" fill="none" stroke="#ff0000" stroke-width="2.0"/>
<circle cx="224.07" cy="778.25" r="4.4" fill="none" stroke="#ff0000" stroke-width="2.0"/>
<circle cx="248.92" cy="784.39" r="4.4" fill="none" stroke="#ff0000" stroke-width="2.0"/>
<circle cx="273.77" cy="787.6" r="4.4" fill="none" stroke="#ff0000" stroke-width="2.0"/>
<circle cx="298.61" cy="782.06" r="4.4" fill="none" stroke="#ff0000" stroke-width="2.0"/>
<circle cx="323.46" cy="764.2" r="4.4" fill="none" stroke="#ff0000" stroke-width="2.0"/>
<circle cx="348.3" cy="738.5" r="4.4" fill="none" stroke="#ff0000" stroke-width="2.0"/>
<circle cx="373.15" cy="712.8" r="4.4" fill="none" stroke="#ff0000" stroke-width="2.0"/>
<circle cx="398" cy="692.61" r="4.4" fill="none" stroke="#ff0000" stroke-width="2.0"/>
<circle cx="422.84" cy="676.02" r="4.4" fill="none" stroke="#ff0000" stroke-width="2.0"/>
<circle cx="447.69" cy="667.19" r="4.4" fill="none" stroke="#ff0000" stroke-width="2.0"/>
<circle cx="472.53" cy="664.3" r="4.4" fill="none" stroke="#ff0000" stroke-width="2.0"/>
<circle cx="497.38" cy="666.91" r="4.4" fill="none" stroke="#ff0000" stroke-width="2.0"/>
<circle cx="522.22" cy="677.61" r="4.4" fill="none" stroke="#ff0000" stroke-width="2.0"/>
<circle cx="547.07" cy="696.49" r="4.4" fill="none" stroke="#ff0000" stroke-width="2.0"/>
<circle cx="571.92" cy="724.59" r="4.4" fill="none" stroke="#ff0000" stroke-width="2.0"/>
<circle cx="596.76" cy="760.74" r="4.4" fill="none" stroke="#ff0000" stroke-width="2.0"/>
<circle cx="621.61" cy="799.82" r="4.4" fill="none" stroke="#ff0000" stroke-width="2.0"/>
<circle cx="646.45" cy="828.16" r="4.4" fill="none" stroke="#ff0000" stroke-width="2.0"/>
<circle cx="671.3" cy="838.4" r="4.4" fill="none" stroke="#ff0000" stroke-width="2.0"/>
<path d="M75,838.4 L99.85,832.79 L124.69,815.31 L149.54,795.51 L174.38,781.39 L199.23,775.04 L224.07,776.2 L248.92,780.51 L273.77,782.98 L298.61,773.62 L323.46,753.61 L348.3,728.19 L373.15,704.9 L398,686.5 L422.84,671.08 L447.69,661.55 L472.53,658.19 L497.38,661.19 L522.22,671.5 L547.07,689.72 L571.92,717 L596.76,751.21 L621.61,792.19 L646.45,826.29 L671.3,838.05" fill="none" stroke="#000" stroke-width="1.7" stroke-linejoin="round"/>
<path d="M75,833.75 L76.04,836.96 L79.42,836.96 L76.69,838.95 L77.73,842.16 L75,840.18 L72.27,842.16 L73.31,838.95 L70.58,836.96 L73.96,836.96Z M99.85,828.14 L100.89,831.35 L104.27,831.35 L101.54,833.34 L102.58,836.55 L99.85,834.56 L97.11,836.55 L98.16,833.34 L95.42,831.35 L98.8,831.35Z M124.69,810.66 L125.74,813.88 L129.11,813.88 L126.38,815.86 L127.42,819.08 L124.69,817.09 L121.96,819.08 L123,815.86 L120.27,813.88 L123.65,813.88Z M149.54,790.86 L150.58,794.07 L153.96,794.07 L151.23,796.06 L152.27,799.27 L149.54,797.29 L146.8,799.27 L147.85,796.06 L145.12,794.07 L148.49,794.07Z M174.38,776.74 L175.43,779.95 L178.81,779.95 L176.07,781.94 L177.12,785.15 L174.38,783.17 L171.65,785.15 L172.69,781.94 L169.96,779.95 L173.34,779.95Z M199.23,770.39 L200.27,773.6 L203.65,773.6 L200.92,775.59 L201.96,778.8 L199.23,776.81 L196.5,778.8 L197.54,775.59 L194.81,773.6 L198.19,773.6Z M224.07,771.55 L225.12,774.76 L228.5,774.76 L225.76,776.75 L226.81,779.96 L224.07,777.98 L221.34,779.96 L222.39,776.75 L219.65,774.76 L223.03,774.76Z M248.92,775.86 L249.96,779.07 L253.34,779.07 L250.61,781.06 L251.65,784.27 L248.92,782.28 L246.19,784.27 L247.23,781.06 L244.5,779.07 L247.88,779.07Z M273.77,778.33 L274.81,781.54 L278.19,781.54 L275.46,783.53 L276.5,786.74 L273.77,784.76 L271.03,786.74 L272.08,783.53 L269.34,781.54 L272.72,781.54Z M298.61,768.97 L299.66,772.19 L303.03,772.19 L300.3,774.17 L301.35,777.39 L298.61,775.4 L295.88,777.39 L296.92,774.17 L294.19,772.19 L297.57,772.19Z M323.46,748.96 L324.5,752.17 L327.88,752.17 L325.15,754.16 L326.19,757.37 L323.46,755.39 L320.73,757.37 L321.77,754.16 L319.04,752.17 L322.41,752.17Z M348.3,723.54 L349.35,726.76 L352.73,726.76 L349.99,728.74 L351.04,731.96 L348.3,729.97 L345.57,731.96 L346.61,728.74 L343.88,726.76 L347.26,726.76Z M373.15,700.25 L374.19,703.46 L377.57,703.46 L374.84,705.44 L375.88,708.66 L373.15,706.67 L370.42,708.66 L371.46,705.44 L368.73,703.46 L372.11,703.46Z M398,681.85 L399.04,685.07 L402.42,685.07 L399.69,687.05 L400.73,690.27 L398,688.28 L395.26,690.27 L396.31,687.05 L393.57,685.07 L396.95,685.07Z M422.84,666.43 L423.89,669.64 L427.26,669.64 L424.53,671.63 L425.57,674.84 L422.84,672.85 L420.11,674.84 L421.15,671.63 L418.42,669.64 L421.8,669.64Z M447.69,656.9 L448.73,660.11 L452.11,660.11 L449.38,662.1 L450.42,665.31 L447.69,663.32 L444.95,665.31 L446,662.1 L443.27,660.11 L446.64,660.11Z M472.53,653.54 L473.58,656.76 L476.96,656.76 L474.22,658.74 L475.27,661.96 L472.53,659.97 L469.8,661.96 L470.84,658.74 L468.11,656.76 L471.49,656.76Z M497.38,656.54 L498.42,659.76 L501.8,659.76 L499.07,661.74 L500.11,664.96 L497.38,662.97 L494.65,664.96 L495.69,661.74 L492.96,659.76 L496.34,659.76Z M522.22,666.85 L523.27,670.06 L526.65,670.06 L523.91,672.05 L524.96,675.26 L522.22,673.28 L519.49,675.26 L520.54,672.05 L517.8,670.06 L521.18,670.06Z M547.07,685.07 L548.11,688.28 L551.49,688.28 L548.76,690.27 L549.8,693.48 L547.07,691.49 L544.34,693.48 L545.38,690.27 L542.65,688.28 L546.03,688.28Z M571.92,712.35 L572.96,715.57 L576.34,715.57 L573.61,717.55 L574.65,720.77 L571.92,718.78 L569.18,720.77 L570.23,717.55 L567.49,715.57 L570.87,715.57Z M596.76,746.56 L597.81,749.77 L601.18,749.77 L598.45,751.76 L599.5,754.97 L596.76,752.99 L594.03,754.97 L595.07,751.76 L592.34,749.77 L595.72,749.77Z M621.61,787.54 L622.65,790.76 L626.03,790.76 L623.3,792.74 L624.34,795.95 L621.61,793.97 L618.88,795.95 L619.92,792.74 L617.19,790.76 L620.56,790.76Z M646.45,821.64 L647.5,824.86 L650.88,824.86 L648.14,826.84 L649.19,830.05 L646.45,828.07 L643.72,830.05 L644.76,826.84 L642.03,824.86 L645.41,824.86Z M671.3,833.4 L672.34,836.61 L675.72,836.61 L672.99,838.6 L674.03,841.81 L671.3,839.82 L668.57,841.81 L669.61,838.6 L666.88,836.61 L670.26,836.61Z" fill="#000" stroke="#000" stroke-width="1.4" stroke-linejoin="round"/>
</g>
<clipPath id="clipd"><rect x="75" y="917.6" width="596.3" height="237.4"/></clipPath>
<g clip-path="url(#clipd)">
<path d="M75,1144.4 L99.85,1125.88 L124.69,1079.71 L149.54,1024.83 L174.38,983.41 L199.23,958.53 L224.07,976.86 L248.92,1012.92 L273.77,1028.59 L298.61,1011.5 L323.46,971.37 L348.3,933.53 L373.15,927.97 L398,933.53 L422.84,971.37 L447.69,1011.5 L472.53,1028.1 L497.38,1010.69 L522.22,971.99 L547.07,934.09 L571.92,928.41 L596.76,934.09 L621.61,971.99 L646.45,1010.69 L671.3,1028.1" fill="none" stroke="#808080" stroke-opacity="0.6" stroke-width="1.35" stroke-dasharray="5.0 2.2" stroke-linejoin="round"/>
<path d="M75,1137.61 L79.07,1144.4 L75,1151.19 L70.93,1144.4Z M99.85,1119.09 L103.92,1125.88 L99.85,1132.67 L95.77,1125.88Z M124.69,1072.92 L128.76,1079.71 L124.69,1086.5 L120.62,1079.71Z M149.54,1018.04 L153.61,1024.83 L149.54,1031.62 L145.46,1024.83Z M174.38,976.62 L178.46,983.41 L174.38,990.2 L170.31,983.41Z M199.23,951.74 L203.3,958.53 L199.23,965.32 L195.16,958.53Z M224.07,970.08 L228.15,976.86 L224.07,983.65 L220,976.86Z M248.92,1006.13 L252.99,1012.92 L248.92,1019.7 L244.85,1012.92Z M273.77,1021.81 L277.84,1028.59 L273.77,1035.38 L269.69,1028.59Z M298.61,1004.71 L302.69,1011.5 L298.61,1018.28 L294.54,1011.5Z M323.46,964.58 L327.53,971.37 L323.46,978.16 L319.39,971.37Z M348.3,926.74 L352.38,933.53 L348.3,940.32 L344.23,933.53Z M373.15,921.19 L377.22,927.97 L373.15,934.76 L369.08,927.97Z M398,926.74 L402.07,933.53 L398,940.32 L393.92,933.53Z M422.84,964.58 L426.91,971.37 L422.84,978.16 L418.77,971.37Z M447.69,1004.71 L451.76,1011.5 L447.69,1018.28 L443.61,1011.5Z M472.53,1021.31 L476.61,1028.1 L472.53,1034.89 L468.46,1028.1Z M497.38,1003.9 L501.45,1010.69 L497.38,1017.48 L493.31,1010.69Z M522.22,965.2 L526.3,971.99 L522.22,978.78 L518.15,971.99Z M547.07,927.3 L551.14,934.09 L547.07,940.87 L543,934.09Z M571.92,921.62 L575.99,928.41 L571.92,935.19 L567.84,928.41Z M596.76,927.3 L600.84,934.09 L596.76,940.87 L592.69,934.09Z M621.61,965.2 L625.68,971.99 L621.61,978.78 L617.54,971.99Z M646.45,1003.9 L650.53,1010.69 L646.45,1017.48 L642.38,1010.69Z M671.3,1021.31 L675.37,1028.1 L671.3,1034.89 L667.23,1028.1Z" fill="none" stroke="#808080" stroke-opacity="0.6" stroke-width="1.35" stroke-linejoin="round"/>
<path d="M75,1144.4 L99.85,1135.14 L124.69,1109.21 L149.54,1086.37 L174.38,1067.24 L199.23,1056.74 L224.07,1057.98 L248.92,1066.62 L273.77,1073.41 L298.61,1064.15 L323.46,1046.87 L348.3,1032.05 L373.15,1027.11 L398,1032.05 L422.84,1044.4 L447.69,1062.3 L472.53,1069.71 L497.38,1062.3 L522.22,1044.4 L547.07,1032.05 L571.92,1027.11 L596.76,1032.05 L621.61,1043.78 L646.45,1059.21 L671.3,1070.32" fill="none" stroke="#808080" stroke-opacity="0.6" stroke-width="1.35" stroke-dasharray="5.0 2.2" stroke-linejoin="round"/>
<path d="M75,1144.4 v4.8 M75,1144.4 l3.84,-2.4 M75,1144.4 l-3.84,-2.4 M99.85,1135.14 v4.8 M99.85,1135.14 l3.84,-2.4 M99.85,1135.14 l-3.84,-2.4 M124.69,1109.21 v4.8 M124.69,1109.21 l3.84,-2.4 M124.69,1109.21 l-3.84,-2.4 M149.54,1086.37 v4.8 M149.54,1086.37 l3.84,-2.4 M149.54,1086.37 l-3.84,-2.4 M174.38,1067.24 v4.8 M174.38,1067.24 l3.84,-2.4 M174.38,1067.24 l-3.84,-2.4 M199.23,1056.74 v4.8 M199.23,1056.74 l3.84,-2.4 M199.23,1056.74 l-3.84,-2.4 M224.07,1057.98 v4.8 M224.07,1057.98 l3.84,-2.4 M224.07,1057.98 l-3.84,-2.4 M248.92,1066.62 v4.8 M248.92,1066.62 l3.84,-2.4 M248.92,1066.62 l-3.84,-2.4 M273.77,1073.41 v4.8 M273.77,1073.41 l3.84,-2.4 M273.77,1073.41 l-3.84,-2.4 M298.61,1064.15 v4.8 M298.61,1064.15 l3.84,-2.4 M298.61,1064.15 l-3.84,-2.4 M323.46,1046.87 v4.8 M323.46,1046.87 l3.84,-2.4 M323.46,1046.87 l-3.84,-2.4 M348.3,1032.05 v4.8 M348.3,1032.05 l3.84,-2.4 M348.3,1032.05 l-3.84,-2.4 M373.15,1027.11 v4.8 M373.15,1027.11 l3.84,-2.4 M373.15,1027.11 l-3.84,-2.4 M398,1032.05 v4.8 M398,1032.05 l3.84,-2.4 M398,1032.05 l-3.84,-2.4 M422.84,1044.4 v4.8 M422.84,1044.4 l3.84,-2.4 M422.84,1044.4 l-3.84,-2.4 M447.69,1062.3 v4.8 M447.69,1062.3 l3.84,-2.4 M447.69,1062.3 l-3.84,-2.4 M472.53,1069.71 v4.8 M472.53,1069.71 l3.84,-2.4 M472.53,1069.71 l-3.84,-2.4 M497.38,1062.3 v4.8 M497.38,1062.3 l3.84,-2.4 M497.38,1062.3 l-3.84,-2.4 M522.22,1044.4 v4.8 M522.22,1044.4 l3.84,-2.4 M522.22,1044.4 l-3.84,-2.4 M547.07,1032.05 v4.8 M547.07,1032.05 l3.84,-2.4 M547.07,1032.05 l-3.84,-2.4 M571.92,1027.11 v4.8 M571.92,1027.11 l3.84,-2.4 M571.92,1027.11 l-3.84,-2.4 M596.76,1032.05 v4.8 M596.76,1032.05 l3.84,-2.4 M596.76,1032.05 l-3.84,-2.4 M621.61,1043.78 v4.8 M621.61,1043.78 l3.84,-2.4 M621.61,1043.78 l-3.84,-2.4 M646.45,1059.21 v4.8 M646.45,1059.21 l3.84,-2.4 M646.45,1059.21 l-3.84,-2.4 M671.3,1070.32 v4.8 M671.3,1070.32 l3.84,-2.4 M671.3,1070.32 l-3.84,-2.4" fill="none" stroke="#808080" stroke-opacity="0.6" stroke-width="1.35" stroke-linejoin="round"/>
<path d="M75,1144.4 L99.85,1135.76 L124.69,1110.45 L149.54,1088.84 L174.38,1070.32 L199.23,1059.83 L224.07,1059.83 L248.92,1067.85 L273.77,1074.03 L298.61,1067.85 L323.46,1048.72 L348.3,1037.61 L373.15,1032.67 L398,1037.61 L422.84,1046.87 L447.69,1065.39 L472.53,1071.56 L497.38,1065.39 L522.22,1046.87 L547.07,1038.22 L571.92,1032.67 L596.76,1038.22 L621.61,1046.87 L646.45,1061.06 L671.3,1072.79" fill="none" stroke="#808080" stroke-opacity="0.6" stroke-width="1.35" stroke-dasharray="5.0 2.2" stroke-linejoin="round"/>
<path d="M70.2,1144.4 L79.8,1139.6 L79.8,1149.2Z M95.05,1135.76 L104.65,1130.96 L104.65,1140.56Z M119.89,1110.45 L129.49,1105.65 L129.49,1115.25Z M144.74,1088.84 L154.34,1084.04 L154.34,1093.64Z M169.58,1070.32 L179.18,1065.52 L179.18,1075.12Z M194.43,1059.83 L204.03,1055.03 L204.03,1064.63Z M219.27,1059.83 L228.88,1055.03 L228.88,1064.63Z M244.12,1067.85 L253.72,1063.05 L253.72,1072.65Z M268.97,1074.03 L278.57,1069.23 L278.57,1078.83Z M293.81,1067.85 L303.41,1063.05 L303.41,1072.65Z M318.66,1048.72 L328.26,1043.92 L328.26,1053.52Z M343.5,1037.61 L353.1,1032.81 L353.1,1042.41Z M368.35,1032.67 L377.95,1027.87 L377.95,1037.47Z M393.2,1037.61 L402.8,1032.81 L402.8,1042.41Z M418.04,1046.87 L427.64,1042.07 L427.64,1051.67Z M442.89,1065.39 L452.49,1060.59 L452.49,1070.19Z M467.73,1071.56 L477.33,1066.76 L477.33,1076.36Z M492.58,1065.39 L502.18,1060.59 L502.18,1070.19Z M517.42,1046.87 L527.02,1042.07 L527.02,1051.67Z M542.27,1038.22 L551.87,1033.42 L551.87,1043.02Z M567.12,1032.67 L576.72,1027.87 L576.72,1037.47Z M591.96,1038.22 L601.56,1033.42 L601.56,1043.02Z M616.81,1046.87 L626.41,1042.07 L626.41,1051.67Z M641.65,1061.06 L651.25,1056.26 L651.25,1065.86Z M666.5,1072.79 L676.1,1067.99 L676.1,1077.59Z" fill="none" stroke="#808080" stroke-opacity="0.6" stroke-width="1.35" stroke-linejoin="round"/>
<path d="M75,1144.4 L99.85,1134.52 L124.69,1107.36 L149.54,1083.9 L174.38,1062.3 L199.23,1051.81 L224.07,1054.27 L248.92,1064.15 L273.77,1070.32 L298.61,1060.45 L323.46,1042.55 L348.3,1027.11 L373.15,1022.17 L398,1027.11 L422.84,1041.93 L447.69,1059.83 L472.53,1067.85 L497.38,1059.83 L522.22,1041.93 L547.07,1027.11 L571.92,1022.17 L596.76,1027.11 L621.61,1041.93 L646.45,1057.98 L671.3,1069.09" fill="none" stroke="#808080" stroke-opacity="0.6" stroke-width="1.35" stroke-dasharray="5.0 2.2" stroke-linejoin="round"/>
<path d="M79.8,1144.4 L70.2,1139.6 L70.2,1149.2Z M104.65,1134.52 L95.05,1129.72 L95.05,1139.32Z M129.49,1107.36 L119.89,1102.56 L119.89,1112.16Z M154.34,1083.9 L144.74,1079.1 L144.74,1088.7Z M179.18,1062.3 L169.58,1057.5 L169.58,1067.1Z M204.03,1051.81 L194.43,1047.01 L194.43,1056.61Z M228.88,1054.27 L219.27,1049.47 L219.27,1059.07Z M253.72,1064.15 L244.12,1059.35 L244.12,1068.95Z M278.57,1070.32 L268.97,1065.52 L268.97,1075.12Z M303.41,1060.45 L293.81,1055.65 L293.81,1065.25Z M328.26,1042.55 L318.66,1037.75 L318.66,1047.35Z M353.1,1027.11 L343.5,1022.31 L343.5,1031.91Z M377.95,1022.17 L368.35,1017.37 L368.35,1026.97Z M402.8,1027.11 L393.2,1022.31 L393.2,1031.91Z M427.64,1041.93 L418.04,1037.13 L418.04,1046.73Z M452.49,1059.83 L442.89,1055.03 L442.89,1064.63Z M477.33,1067.85 L467.73,1063.05 L467.73,1072.65Z M502.18,1059.83 L492.58,1055.03 L492.58,1064.63Z M527.02,1041.93 L517.42,1037.13 L517.42,1046.73Z M551.87,1027.11 L542.27,1022.31 L542.27,1031.91Z M576.72,1022.17 L567.12,1017.37 L567.12,1026.97Z M601.56,1027.11 L591.96,1022.31 L591.96,1031.91Z M626.41,1041.93 L616.81,1037.13 L616.81,1046.73Z M651.25,1057.98 L641.65,1053.18 L641.65,1062.78Z M676.1,1069.09 L666.5,1064.29 L666.5,1073.89Z" fill="none" stroke="#808080" stroke-opacity="0.6" stroke-width="1.35" stroke-linejoin="round"/>
<path d="M75,1144.4 L99.85,1133.29 L124.69,1104.89 L149.54,1080.2 L174.38,1057.98 L199.23,1047.48 L224.07,1051.81 L248.92,1061.68 L273.77,1067.85 L298.61,1056.74 L323.46,1034.52 L348.3,1020.94 L373.15,1017.24 L398,1022.17 L422.84,1036.37 L447.69,1054.27 L472.53,1062.92 L497.38,1054.89 L522.22,1036.37 L547.07,1020.94 L571.92,1016 L596.76,1020.94 L621.61,1039.46 L646.45,1054.89 L671.3,1064.77" fill="none" stroke="#808080" stroke-opacity="0.6" stroke-width="1.35" stroke-dasharray="5.0 2.2" stroke-linejoin="round"/>
<path d="M70.2,1144.4 h9.6 M75,1139.6 v9.6 M95.05,1133.29 h9.6 M99.85,1128.49 v9.6 M119.89,1104.89 h9.6 M124.69,1100.09 v9.6 M144.74,1080.2 h9.6 M149.54,1075.4 v9.6 M169.58,1057.98 h9.6 M174.38,1053.18 v9.6 M194.43,1047.48 h9.6 M199.23,1042.68 v9.6 M219.27,1051.81 h9.6 M224.07,1047.01 v9.6 M244.12,1061.68 h9.6 M248.92,1056.88 v9.6 M268.97,1067.85 h9.6 M273.77,1063.05 v9.6 M293.81,1056.74 h9.6 M298.61,1051.94 v9.6 M318.66,1034.52 h9.6 M323.46,1029.72 v9.6 M343.5,1020.94 h9.6 M348.3,1016.14 v9.6 M368.35,1017.24 h9.6 M373.15,1012.44 v9.6 M393.2,1022.17 h9.6 M398,1017.37 v9.6 M418.04,1036.37 h9.6 M422.84,1031.57 v9.6 M442.89,1054.27 h9.6 M447.69,1049.47 v9.6 M467.73,1062.92 h9.6 M472.53,1058.12 v9.6 M492.58,1054.89 h9.6 M497.38,1050.09 v9.6 M517.42,1036.37 h9.6 M522.22,1031.57 v9.6 M542.27,1020.94 h9.6 M547.07,1016.14 v9.6 M567.12,1016 h9.6 M571.92,1011.2 v9.6 M591.96,1020.94 h9.6 M596.76,1016.14 v9.6 M616.81,1039.46 h9.6 M621.61,1034.66 v9.6 M641.65,1054.89 h9.6 M646.45,1050.09 v9.6 M666.5,1064.77 h9.6 M671.3,1059.97 v9.6" fill="none" stroke="#808080" stroke-opacity="0.6" stroke-width="1.35" stroke-linejoin="round"/>
<path d="M75,1144.4 L99.85,1130.82 L124.69,1095.02 L149.54,1043.16 L174.38,1013.41 L199.23,1010.2 L224.07,1029.52 L248.92,1042.55 L273.77,1045.63 L298.61,1034.52 L323.46,1013.53 L348.3,985.75 L373.15,974.03 L398,985.75 L422.84,1012.3 L447.69,1035.76 L472.53,1045.01 L497.38,1036.37 L522.22,1017.24 L547.07,986.37 L571.92,973.72 L596.76,986.37 L621.61,1019.09 L646.45,1040.08 L671.3,1049.34" fill="none" stroke="#808080" stroke-opacity="0.6" stroke-width="1.35" stroke-dasharray="5.0 2.2" stroke-linejoin="round"/>
<path d="M72.6,1139.6 L75,1142 L77.4,1139.6 L79.8,1142 L77.4,1144.4 L79.8,1146.8 L77.4,1149.2 L75,1146.8 L72.6,1149.2 L70.2,1146.8 L72.6,1144.4 L70.2,1142Z M97.45,1126.02 L99.85,1128.42 L102.25,1126.02 L104.65,1128.42 L102.25,1130.82 L104.65,1133.22 L102.25,1135.62 L99.85,1133.22 L97.45,1135.62 L95.05,1133.22 L97.45,1130.82 L95.05,1128.42Z M122.29,1090.22 L124.69,1092.62 L127.09,1090.22 L129.49,1092.62 L127.09,1095.02 L129.49,1097.42 L127.09,1099.82 L124.69,1097.42 L122.29,1099.82 L119.89,1097.42 L122.29,1095.02 L119.89,1092.62Z M147.14,1038.36 L149.54,1040.76 L151.94,1038.36 L154.34,1040.76 L151.94,1043.16 L154.34,1045.56 L151.94,1047.96 L149.54,1045.56 L147.14,1047.96 L144.74,1045.56 L147.14,1043.16 L144.74,1040.76Z M171.98,1008.61 L174.38,1011.01 L176.78,1008.61 L179.18,1011.01 L176.78,1013.41 L179.18,1015.81 L176.78,1018.21 L174.38,1015.81 L171.98,1018.21 L169.58,1015.81 L171.98,1013.41 L169.58,1011.01Z M196.83,1005.4 L199.23,1007.8 L201.63,1005.4 L204.03,1007.8 L201.63,1010.2 L204.03,1012.6 L201.63,1015 L199.23,1012.6 L196.83,1015 L194.43,1012.6 L196.83,1010.2 L194.43,1007.8Z M221.67,1024.72 L224.07,1027.12 L226.47,1024.72 L228.88,1027.12 L226.47,1029.52 L228.88,1031.92 L226.47,1034.32 L224.07,1031.92 L221.67,1034.32 L219.27,1031.92 L221.67,1029.52 L219.27,1027.12Z M246.52,1037.75 L248.92,1040.15 L251.32,1037.75 L253.72,1040.15 L251.32,1042.55 L253.72,1044.95 L251.32,1047.35 L248.92,1044.95 L246.52,1047.35 L244.12,1044.95 L246.52,1042.55 L244.12,1040.15Z M271.37,1040.83 L273.77,1043.23 L276.17,1040.83 L278.57,1043.23 L276.17,1045.63 L278.57,1048.03 L276.17,1050.43 L273.77,1048.03 L271.37,1050.43 L268.97,1048.03 L271.37,1045.63 L268.97,1043.23Z M296.21,1029.72 L298.61,1032.12 L301.01,1029.72 L303.41,1032.12 L301.01,1034.52 L303.41,1036.92 L301.01,1039.32 L298.61,1036.92 L296.21,1039.32 L293.81,1036.92 L296.21,1034.52 L293.81,1032.12Z M321.06,1008.73 L323.46,1011.13 L325.86,1008.73 L328.26,1011.13 L325.86,1013.53 L328.26,1015.93 L325.86,1018.33 L323.46,1015.93 L321.06,1018.33 L318.66,1015.93 L321.06,1013.53 L318.66,1011.13Z M345.9,980.95 L348.3,983.35 L350.7,980.95 L353.1,983.35 L350.7,985.75 L353.1,988.15 L350.7,990.55 L348.3,988.15 L345.9,990.55 L343.5,988.15 L345.9,985.75 L343.5,983.35Z M370.75,969.23 L373.15,971.63 L375.55,969.23 L377.95,971.63 L375.55,974.03 L377.95,976.43 L375.55,978.83 L373.15,976.43 L370.75,978.83 L368.35,976.43 L370.75,974.03 L368.35,971.63Z M395.6,980.95 L398,983.35 L400.4,980.95 L402.8,983.35 L400.4,985.75 L402.8,988.15 L400.4,990.55 L398,988.15 L395.6,990.55 L393.2,988.15 L395.6,985.75 L393.2,983.35Z M420.44,1007.5 L422.84,1009.9 L425.24,1007.5 L427.64,1009.9 L425.24,1012.3 L427.64,1014.7 L425.24,1017.1 L422.84,1014.7 L420.44,1017.1 L418.04,1014.7 L420.44,1012.3 L418.04,1009.9Z M445.29,1030.96 L447.69,1033.36 L450.09,1030.96 L452.49,1033.36 L450.09,1035.76 L452.49,1038.16 L450.09,1040.56 L447.69,1038.16 L445.29,1040.56 L442.89,1038.16 L445.29,1035.76 L442.89,1033.36Z M470.13,1040.21 L472.53,1042.61 L474.93,1040.21 L477.33,1042.61 L474.93,1045.01 L477.33,1047.41 L474.93,1049.81 L472.53,1047.41 L470.13,1049.81 L467.73,1047.41 L470.13,1045.01 L467.73,1042.61Z M494.98,1031.57 L497.38,1033.97 L499.78,1031.57 L502.18,1033.97 L499.78,1036.37 L502.18,1038.77 L499.78,1041.17 L497.38,1038.77 L494.98,1041.17 L492.58,1038.77 L494.98,1036.37 L492.58,1033.97Z M519.82,1012.44 L522.22,1014.84 L524.62,1012.44 L527.02,1014.84 L524.62,1017.24 L527.02,1019.64 L524.62,1022.04 L522.22,1019.64 L519.82,1022.04 L517.42,1019.64 L519.82,1017.24 L517.42,1014.84Z M544.67,981.57 L547.07,983.97 L549.47,981.57 L551.87,983.97 L549.47,986.37 L551.87,988.77 L549.47,991.17 L547.07,988.77 L544.67,991.17 L542.27,988.77 L544.67,986.37 L542.27,983.97Z M569.52,968.92 L571.92,971.32 L574.32,968.92 L576.72,971.32 L574.32,973.72 L576.72,976.12 L574.32,978.52 L571.92,976.12 L569.52,978.52 L567.12,976.12 L569.52,973.72 L567.12,971.32Z M594.36,981.57 L596.76,983.97 L599.16,981.57 L601.56,983.97 L599.16,986.37 L601.56,988.77 L599.16,991.17 L596.76,988.77 L594.36,991.17 L591.96,988.77 L594.36,986.37 L591.96,983.97Z M619.21,1014.29 L621.61,1016.69 L624.01,1014.29 L626.41,1016.69 L624.01,1019.09 L626.41,1021.49 L624.01,1023.89 L621.61,1021.49 L619.21,1023.89 L616.81,1021.49 L619.21,1019.09 L616.81,1016.69Z M644.05,1035.28 L646.45,1037.68 L648.85,1035.28 L651.25,1037.68 L648.85,1040.08 L651.25,1042.48 L648.85,1044.88 L646.45,1042.48 L644.05,1044.88 L641.65,1042.48 L644.05,1040.08 L641.65,1037.68Z M668.9,1044.54 L671.3,1046.94 L673.7,1044.54 L676.1,1046.94 L673.7,1049.34 L676.1,1051.74 L673.7,1054.14 L671.3,1051.74 L668.9,1054.14 L666.5,1051.74 L668.9,1049.34 L666.5,1046.94Z" fill="none" stroke="#808080" stroke-opacity="0.6" stroke-width="1.35" stroke-linejoin="miter"/>
<path d="M75,1144.4 L99.85,1132.05 L124.69,1106.13 L149.54,1082.67 L174.38,1064.15 L199.23,1054.89 L224.07,1057.98 L248.92,1066 L273.77,1071.56 L298.61,1061.06 L323.46,1039.46 L348.3,1020.94 L373.15,1016 L398,1020.94 L422.84,1038.22 L447.69,1057.98 L472.53,1067.24 L497.38,1059.21 L522.22,1039.46 L547.07,1020.94 L571.92,1014.77 L596.76,1020.94 L621.61,1039.46 L646.45,1056.74 L671.3,1067.24" fill="none" stroke="#808080" stroke-opacity="0.6" stroke-width="1.35" stroke-dasharray="5.0 2.2" stroke-linejoin="round"/>
<path d="M75,1149.2 L70.2,1139.6 L79.8,1139.6Z M99.85,1136.85 L95.05,1127.25 L104.65,1127.25Z M124.69,1110.93 L119.89,1101.33 L129.49,1101.33Z M149.54,1087.47 L144.74,1077.87 L154.34,1077.87Z M174.38,1068.95 L169.58,1059.35 L179.18,1059.35Z M199.23,1059.69 L194.43,1050.09 L204.03,1050.09Z M224.07,1062.78 L219.27,1053.18 L228.88,1053.18Z M248.92,1070.8 L244.12,1061.2 L253.72,1061.2Z M273.77,1076.36 L268.97,1066.76 L278.57,1066.76Z M298.61,1065.86 L293.81,1056.26 L303.41,1056.26Z M323.46,1044.26 L318.66,1034.66 L328.26,1034.66Z M348.3,1025.74 L343.5,1016.14 L353.1,1016.14Z M373.15,1020.8 L368.35,1011.2 L377.95,1011.2Z M398,1025.74 L393.2,1016.14 L402.8,1016.14Z M422.84,1043.02 L418.04,1033.42 L427.64,1033.42Z M447.69,1062.78 L442.89,1053.18 L452.49,1053.18Z M472.53,1072.04 L467.73,1062.44 L477.33,1062.44Z M497.38,1064.01 L492.58,1054.41 L502.18,1054.41Z M522.22,1044.26 L517.42,1034.66 L527.02,1034.66Z M547.07,1025.74 L542.27,1016.14 L551.87,1016.14Z M571.92,1019.57 L567.12,1009.97 L576.72,1009.97Z M596.76,1025.74 L591.96,1016.14 L601.56,1016.14Z M621.61,1044.26 L616.81,1034.66 L626.41,1034.66Z M646.45,1061.54 L641.65,1051.94 L651.25,1051.94Z M671.3,1072.04 L666.5,1062.44 L676.1,1062.44Z" fill="none" stroke="#808080" stroke-opacity="0.6" stroke-width="1.35" stroke-linejoin="round"/>
<path d="M75,1144.4 L99.85,1129.28 L124.69,1097.79 L149.54,1065.08 L174.38,1041.8 L199.23,1031.5 L224.07,1038.78 L248.92,1049.34 L273.77,1054.89 L298.61,1044.58 L323.46,1023.41 L348.3,1005.08 L373.15,997.73 L398,1004.09 L422.84,1022.11 L447.69,1043.66 L472.53,1053.6 L497.38,1044.21 L522.22,1023.41 L547.07,1004.03 L571.92,997.91 L596.76,1004.03 L621.61,1023.41 L646.45,1044.21 L671.3,1054.27" fill="none" stroke="#ff0000" stroke-width="1.75" stroke-linejoin="round"/>
<circle cx="75" cy="1144.4" r="4.4" fill="none" stroke="#ff0000" stroke-width="2.0"/>
<circle cx="99.85" cy="1129.28" r="4.4" fill="none" stroke="#ff0000" stroke-width="2.0"/>
<circle cx="124.69" cy="1097.79" r="4.4" fill="none" stroke="#ff0000" stroke-width="2.0"/>
<circle cx="149.54" cy="1065.08" r="4.4" fill="none" stroke="#ff0000" stroke-width="2.0"/>
<circle cx="174.38" cy="1041.8" r="4.4" fill="none" stroke="#ff0000" stroke-width="2.0"/>
<circle cx="199.23" cy="1031.5" r="4.4" fill="none" stroke="#ff0000" stroke-width="2.0"/>
<circle cx="224.07" cy="1038.78" r="4.4" fill="none" stroke="#ff0000" stroke-width="2.0"/>
<circle cx="248.92" cy="1049.34" r="4.4" fill="none" stroke="#ff0000" stroke-width="2.0"/>
<circle cx="273.77" cy="1054.89" r="4.4" fill="none" stroke="#ff0000" stroke-width="2.0"/>
<circle cx="298.61" cy="1044.58" r="4.4" fill="none" stroke="#ff0000" stroke-width="2.0"/>
<circle cx="323.46" cy="1023.41" r="4.4" fill="none" stroke="#ff0000" stroke-width="2.0"/>
<circle cx="348.3" cy="1005.08" r="4.4" fill="none" stroke="#ff0000" stroke-width="2.0"/>
<circle cx="373.15" cy="997.73" r="4.4" fill="none" stroke="#ff0000" stroke-width="2.0"/>
<circle cx="398" cy="1004.09" r="4.4" fill="none" stroke="#ff0000" stroke-width="2.0"/>
<circle cx="422.84" cy="1022.11" r="4.4" fill="none" stroke="#ff0000" stroke-width="2.0"/>
<circle cx="447.69" cy="1043.66" r="4.4" fill="none" stroke="#ff0000" stroke-width="2.0"/>
<circle cx="472.53" cy="1053.6" r="4.4" fill="none" stroke="#ff0000" stroke-width="2.0"/>
<circle cx="497.38" cy="1044.21" r="4.4" fill="none" stroke="#ff0000" stroke-width="2.0"/>
<circle cx="522.22" cy="1023.41" r="4.4" fill="none" stroke="#ff0000" stroke-width="2.0"/>
<circle cx="547.07" cy="1004.03" r="4.4" fill="none" stroke="#ff0000" stroke-width="2.0"/>
<circle cx="571.92" cy="997.91" r="4.4" fill="none" stroke="#ff0000" stroke-width="2.0"/>
<circle cx="596.76" cy="1004.03" r="4.4" fill="none" stroke="#ff0000" stroke-width="2.0"/>
<circle cx="621.61" cy="1023.41" r="4.4" fill="none" stroke="#ff0000" stroke-width="2.0"/>
<circle cx="646.45" cy="1044.21" r="4.4" fill="none" stroke="#ff0000" stroke-width="2.0"/>
<circle cx="671.3" cy="1054.27" r="4.4" fill="none" stroke="#ff0000" stroke-width="2.0"/>
<path d="M75,1144.4 L99.85,1133.72 L124.69,1103.1 L149.54,1068.6 L174.38,1044.71 L199.23,1033.59 L224.07,1035.32 L248.92,1043.47 L273.77,1046.19 L298.61,1034.03 L323.46,1012.48 L348.3,993.22 L373.15,987.42 L398,992.3 L422.84,1010.88 L447.69,1035.45 L472.53,1044.89 L497.38,1036.5 L522.22,1016.68 L547.07,999.89 L571.92,995.63 L596.76,1000.57 L621.61,1019.09 L646.45,1040.2 L671.3,1049.34" fill="none" stroke="#000" stroke-width="1.7" stroke-linejoin="round"/>
<path d="M75,1139.75 L76.04,1142.96 L79.42,1142.96 L76.69,1144.95 L77.73,1148.16 L75,1146.18 L72.27,1148.16 L73.31,1144.95 L70.58,1142.96 L73.96,1142.96Z M99.85,1129.07 L100.89,1132.28 L104.27,1132.28 L101.54,1134.27 L102.58,1137.48 L99.85,1135.5 L97.11,1137.48 L98.16,1134.27 L95.42,1132.28 L98.8,1132.28Z M124.69,1098.45 L125.74,1101.67 L129.11,1101.67 L126.38,1103.65 L127.42,1106.86 L124.69,1104.88 L121.96,1106.86 L123,1103.65 L120.27,1101.67 L123.65,1101.67Z M149.54,1063.95 L150.58,1067.16 L153.96,1067.16 L151.23,1069.14 L152.27,1072.36 L149.54,1070.37 L146.8,1072.36 L147.85,1069.14 L145.12,1067.16 L148.49,1067.16Z M174.38,1040.06 L175.43,1043.27 L178.81,1043.27 L176.07,1045.25 L177.12,1048.47 L174.38,1046.48 L171.65,1048.47 L172.69,1045.25 L169.96,1043.27 L173.34,1043.27Z M199.23,1028.94 L200.27,1032.16 L203.65,1032.16 L200.92,1034.14 L201.96,1037.36 L199.23,1035.37 L196.5,1037.36 L197.54,1034.14 L194.81,1032.16 L198.19,1032.16Z M224.07,1030.67 L225.12,1033.89 L228.5,1033.89 L225.76,1035.87 L226.81,1039.09 L224.07,1037.1 L221.34,1039.09 L222.39,1035.87 L219.65,1033.89 L223.03,1033.89Z M248.92,1038.82 L249.96,1042.03 L253.34,1042.03 L250.61,1044.02 L251.65,1047.23 L248.92,1045.25 L246.19,1047.23 L247.23,1044.02 L244.5,1042.03 L247.88,1042.03Z M273.77,1041.54 L274.81,1044.75 L278.19,1044.75 L275.46,1046.74 L276.5,1049.95 L273.77,1047.96 L271.03,1049.95 L272.08,1046.74 L269.34,1044.75 L272.72,1044.75Z M298.61,1029.38 L299.66,1032.59 L303.03,1032.59 L300.3,1034.58 L301.35,1037.79 L298.61,1035.8 L295.88,1037.79 L296.92,1034.58 L294.19,1032.59 L297.57,1032.59Z M323.46,1007.83 L324.5,1011.05 L327.88,1011.05 L325.15,1013.03 L326.19,1016.24 L323.46,1014.26 L320.73,1016.24 L321.77,1013.03 L319.04,1011.05 L322.41,1011.05Z M348.3,988.57 L349.35,991.79 L352.73,991.79 L349.99,993.77 L351.04,996.99 L348.3,995 L345.57,996.99 L346.61,993.77 L343.88,991.79 L347.26,991.79Z M373.15,982.77 L374.19,985.98 L377.57,985.98 L374.84,987.97 L375.88,991.18 L373.15,989.2 L370.42,991.18 L371.46,987.97 L368.73,985.98 L372.11,985.98Z M398,987.65 L399.04,990.86 L402.42,990.86 L399.69,992.85 L400.73,996.06 L398,994.07 L395.26,996.06 L396.31,992.85 L393.57,990.86 L396.95,990.86Z M422.84,1006.23 L423.89,1009.44 L427.26,1009.44 L424.53,1011.43 L425.57,1014.64 L422.84,1012.65 L420.11,1014.64 L421.15,1011.43 L418.42,1009.44 L421.8,1009.44Z M447.69,1030.8 L448.73,1034.01 L452.11,1034.01 L449.38,1036 L450.42,1039.21 L447.69,1037.22 L444.95,1039.21 L446,1036 L443.27,1034.01 L446.64,1034.01Z M472.53,1040.24 L473.58,1043.45 L476.96,1043.45 L474.22,1045.44 L475.27,1048.65 L472.53,1046.67 L469.8,1048.65 L470.84,1045.44 L468.11,1043.45 L471.49,1043.45Z M497.38,1031.85 L498.42,1035.06 L501.8,1035.06 L499.07,1037.04 L500.11,1040.26 L497.38,1038.27 L494.65,1040.26 L495.69,1037.04 L492.96,1035.06 L496.34,1035.06Z M522.22,1012.03 L523.27,1015.24 L526.65,1015.24 L523.91,1017.23 L524.96,1020.44 L522.22,1018.46 L519.49,1020.44 L520.54,1017.23 L517.8,1015.24 L521.18,1015.24Z M547.07,995.24 L548.11,998.45 L551.49,998.45 L548.76,1000.44 L549.8,1003.65 L547.07,1001.67 L544.34,1003.65 L545.38,1000.44 L542.65,998.45 L546.03,998.45Z M571.92,990.98 L572.96,994.19 L576.34,994.19 L573.61,996.18 L574.65,999.39 L571.92,997.41 L569.18,999.39 L570.23,996.18 L567.49,994.19 L570.87,994.19Z M596.76,995.92 L597.81,999.13 L601.18,999.13 L598.45,1001.12 L599.5,1004.33 L596.76,1002.35 L594.03,1004.33 L595.07,1001.12 L592.34,999.13 L595.72,999.13Z M621.61,1014.44 L622.65,1017.65 L626.03,1017.65 L623.3,1019.64 L624.34,1022.85 L621.61,1020.86 L618.88,1022.85 L619.92,1019.64 L617.19,1017.65 L620.56,1017.65Z M646.45,1035.55 L647.5,1038.76 L650.88,1038.76 L648.14,1040.75 L649.19,1043.96 L646.45,1041.98 L643.72,1043.96 L644.76,1040.75 L642.03,1038.76 L645.41,1038.76Z M671.3,1044.69 L672.34,1047.9 L675.72,1047.9 L672.99,1049.88 L674.03,1053.1 L671.3,1051.11 L668.57,1053.1 L669.61,1049.88 L666.88,1047.9 L670.26,1047.9Z" fill="#000" stroke="#000" stroke-width="1.4" stroke-linejoin="round"/>
</g>
<rect x="75" y="0.5" width="596.3" height="237.3" fill="none" stroke="#000" stroke-width="1.45"/>
<path d="M75,237.8 v5 M160.2,237.8 v5 M245.4,237.8 v5 M330.6,237.8 v5 M415.8,237.8 v5 M501,237.8 v5 M586.2,237.8 v5 M671.4,237.8 v5 M75,226.6 h-5 M75,168.77 h-5 M75,110.93 h-5 M75,53.1 h-5" stroke="#000" stroke-width="1.25"/>
<g transform="translate(59.89,261.5)" font-size="20.14" text-anchor="middle"><text transform="translate(6.04,0) scale(1.079,1)">0</text><text transform="translate(15.11,0) scale(1.079,1)">.</text><text transform="translate(24.17,0) scale(1.079,1)">5</text></g>
<g transform="translate(145.09,261.5)" font-size="20.14" text-anchor="middle"><text transform="translate(6.04,0) scale(1.079,1)">0</text><text transform="translate(15.11,0) scale(1.079,1)">.</text><text transform="translate(24.17,0) scale(1.079,1)">6</text></g>
<g transform="translate(230.29,261.5)" font-size="20.14" text-anchor="middle"><text transform="translate(6.04,0) scale(1.079,1)">0</text><text transform="translate(15.11,0) scale(1.079,1)">.</text><text transform="translate(24.17,0) scale(1.079,1)">7</text></g>
<g transform="translate(315.49,261.5)" font-size="20.14" text-anchor="middle"><text transform="translate(6.04,0) scale(1.079,1)">0</text><text transform="translate(15.11,0) scale(1.079,1)">.</text><text transform="translate(24.17,0) scale(1.079,1)">8</text></g>
<g transform="translate(400.69,261.5)" font-size="20.14" text-anchor="middle"><text transform="translate(6.04,0) scale(1.079,1)">0</text><text transform="translate(15.11,0) scale(1.079,1)">.</text><text transform="translate(24.17,0) scale(1.079,1)">9</text></g>
<g transform="translate(485.89,261.5)" font-size="20.14" text-anchor="middle"><text transform="translate(6.04,0) scale(1.079,1)">1</text><text transform="translate(15.11,0) scale(1.079,1)">.</text><text transform="translate(24.17,0) scale(1.079,1)">0</text></g>
<g transform="translate(571.09,261.5)" font-size="20.14" text-anchor="middle"><text transform="translate(6.04,0) scale(1.079,1)">1</text><text transform="translate(15.11,0) scale(1.079,1)">.</text><text transform="translate(24.17,0) scale(1.079,1)">1</text></g>
<g transform="translate(656.29,261.5)" font-size="20.14" text-anchor="middle"><text transform="translate(6.04,0) scale(1.079,1)">1</text><text transform="translate(15.11,0) scale(1.079,1)">.</text><text transform="translate(24.17,0) scale(1.079,1)">2</text></g>
<g transform="translate(53.81,233.7)" font-size="20.14" text-anchor="middle"><text transform="translate(6.04,0) scale(1.079,1)">0</text></g>
<g transform="translate(41.72,175.87)" font-size="20.14" text-anchor="middle"><text transform="translate(6.04,0) scale(1.079,1)">5</text><text transform="translate(18.13,0) scale(1.079,1)">0</text></g>
<g transform="translate(29.63,118.03)" font-size="20.14" text-anchor="middle"><text transform="translate(6.04,0) scale(1.079,1)">1</text><text transform="translate(18.13,0) scale(1.079,1)">0</text><text transform="translate(30.22,0) scale(1.079,1)">0</text></g>
<g transform="translate(29.63,60.2)" font-size="20.14" text-anchor="middle"><text transform="translate(6.04,0) scale(1.079,1)">1</text><text transform="translate(18.13,0) scale(1.079,1)">5</text><text transform="translate(30.22,0) scale(1.079,1)">0</text></g>
<rect x="75" y="306" width="596.3" height="237.5" fill="none" stroke="#000" stroke-width="1.45"/>
<path d="M81,543.5 v5 M199.08,543.5 v5 M317.16,543.5 v5 M435.24,543.5 v5 M553.32,543.5 v5 M671.4,543.5 v5 M75,536.9 h-5 M75,470.83 h-5 M75,404.76 h-5 M75,338.69 h-5" stroke="#000" stroke-width="1.25"/>
<g transform="translate(65.89,567.2)" font-size="20.14" text-anchor="middle"><text transform="translate(6.04,0) scale(1.079,1)">0</text><text transform="translate(15.11,0) scale(1.079,1)">.</text><text transform="translate(24.17,0) scale(1.079,1)">2</text></g>
<g transform="translate(183.97,567.2)" font-size="20.14" text-anchor="middle"><text transform="translate(6.04,0) scale(1.079,1)">0</text><text transform="translate(15.11,0) scale(1.079,1)">.</text><text transform="translate(24.17,0) scale(1.079,1)">4</text></g>
<g transform="translate(302.05,567.2)" font-size="20.14" text-anchor="middle"><text transform="translate(6.04,0) scale(1.079,1)">0</text><text transform="translate(15.11,0) scale(1.079,1)">.</text><text transform="translate(24.17,0) scale(1.079,1)">6</text></g>
<g transform="translate(420.13,567.2)" font-size="20.14" text-anchor="middle"><text transform="translate(6.04,0) scale(1.079,1)">0</text><text transform="translate(15.11,0) scale(1.079,1)">.</text><text transform="translate(24.17,0) scale(1.079,1)">8</text></g>
<g transform="translate(538.21,567.2)" font-size="20.14" text-anchor="middle"><text transform="translate(6.04,0) scale(1.079,1)">1</text><text transform="translate(15.11,0) scale(1.079,1)">.</text><text transform="translate(24.17,0) scale(1.079,1)">0</text></g>
<g transform="translate(656.29,567.2)" font-size="20.14" text-anchor="middle"><text transform="translate(6.04,0) scale(1.079,1)">1</text><text transform="translate(15.11,0) scale(1.079,1)">.</text><text transform="translate(24.17,0) scale(1.079,1)">2</text></g>
<g transform="translate(53.81,544)" font-size="20.14" text-anchor="middle"><text transform="translate(6.04,0) scale(1.079,1)">0</text></g>
<g transform="translate(29.63,477.93)" font-size="20.14" text-anchor="middle"><text transform="translate(6.04,0) scale(1.079,1)">2</text><text transform="translate(18.13,0) scale(1.079,1)">0</text><text transform="translate(30.22,0) scale(1.079,1)">0</text></g>
<g transform="translate(29.63,411.86)" font-size="20.14" text-anchor="middle"><text transform="translate(6.04,0) scale(1.079,1)">4</text><text transform="translate(18.13,0) scale(1.079,1)">0</text><text transform="translate(30.22,0) scale(1.079,1)">0</text></g>
<g transform="translate(29.63,345.79)" font-size="20.14" text-anchor="middle"><text transform="translate(6.04,0) scale(1.079,1)">6</text><text transform="translate(18.13,0) scale(1.079,1)">0</text><text transform="translate(30.22,0) scale(1.079,1)">0</text></g>
<rect x="75" y="611.9" width="596.3" height="237.4" fill="none" stroke="#000" stroke-width="1.45"/>
<path d="M75,849.3 v5 M194.26,849.3 v5 M313.52,849.3 v5 M432.78,849.3 v5 M552.04,849.3 v5 M671.3,849.3 v5 M75,838.4 h-5 M75,767.8 h-5 M75,697.2 h-5 M75,626.6 h-5" stroke="#000" stroke-width="1.25"/>
<g transform="translate(59.89,873)" font-size="20.14" text-anchor="middle"><text transform="translate(6.04,0) scale(1.079,1)">0</text><text transform="translate(15.11,0) scale(1.079,1)">.</text><text transform="translate(24.17,0) scale(1.079,1)">0</text></g>
<g transform="translate(179.15,873)" font-size="20.14" text-anchor="middle"><text transform="translate(6.04,0) scale(1.079,1)">0</text><text transform="translate(15.11,0) scale(1.079,1)">.</text><text transform="translate(24.17,0) scale(1.079,1)">2</text></g>
<g transform="translate(298.41,873)" font-size="20.14" text-anchor="middle"><text transform="translate(6.04,0) scale(1.079,1)">0</text><text transform="translate(15.11,0) scale(1.079,1)">.</text><text transform="translate(24.17,0) scale(1.079,1)">4</text></g>
<g transform="translate(417.67,873)" font-size="20.14" text-anchor="middle"><text transform="translate(6.04,0) scale(1.079,1)">0</text><text transform="translate(15.11,0) scale(1.079,1)">.</text><text transform="translate(24.17,0) scale(1.079,1)">6</text></g>
<g transform="translate(536.93,873)" font-size="20.14" text-anchor="middle"><text transform="translate(6.04,0) scale(1.079,1)">0</text><text transform="translate(15.11,0) scale(1.079,1)">.</text><text transform="translate(24.17,0) scale(1.079,1)">8</text></g>
<g transform="translate(656.19,873)" font-size="20.14" text-anchor="middle"><text transform="translate(6.04,0) scale(1.079,1)">1</text><text transform="translate(15.11,0) scale(1.079,1)">.</text><text transform="translate(24.17,0) scale(1.079,1)">0</text></g>
<g transform="translate(53.81,845.5)" font-size="20.14" text-anchor="middle"><text transform="translate(6.04,0) scale(1.079,1)">0</text></g>
<g transform="translate(29.63,774.9)" font-size="20.14" text-anchor="middle"><text transform="translate(6.04,0) scale(1.079,1)">2</text><text transform="translate(18.13,0) scale(1.079,1)">0</text><text transform="translate(30.22,0) scale(1.079,1)">0</text></g>
<g transform="translate(29.63,704.3)" font-size="20.14" text-anchor="middle"><text transform="translate(6.04,0) scale(1.079,1)">4</text><text transform="translate(18.13,0) scale(1.079,1)">0</text><text transform="translate(30.22,0) scale(1.079,1)">0</text></g>
<g transform="translate(29.63,633.7)" font-size="20.14" text-anchor="middle"><text transform="translate(6.04,0) scale(1.079,1)">6</text><text transform="translate(18.13,0) scale(1.079,1)">0</text><text transform="translate(30.22,0) scale(1.079,1)">0</text></g>
<rect x="75" y="917.6" width="596.3" height="237.4" fill="none" stroke="#000" stroke-width="1.45"/>
<path d="M75,1155 v5 M194.26,1155 v5 M313.52,1155 v5 M432.78,1155 v5 M552.04,1155 v5 M671.3,1155 v5 M75,1144.4 h-5 M75,1082.67 h-5 M75,1020.94 h-5 M75,959.21 h-5" stroke="#000" stroke-width="1.25"/>
<g transform="translate(59.89,1178.7)" font-size="20.14" text-anchor="middle"><text transform="translate(6.04,0) scale(1.079,1)">0</text><text transform="translate(15.11,0) scale(1.079,1)">.</text><text transform="translate(24.17,0) scale(1.079,1)">0</text></g>
<g transform="translate(179.15,1178.7)" font-size="20.14" text-anchor="middle"><text transform="translate(6.04,0) scale(1.079,1)">0</text><text transform="translate(15.11,0) scale(1.079,1)">.</text><text transform="translate(24.17,0) scale(1.079,1)">2</text></g>
<g transform="translate(298.41,1178.7)" font-size="20.14" text-anchor="middle"><text transform="translate(6.04,0) scale(1.079,1)">0</text><text transform="translate(15.11,0) scale(1.079,1)">.</text><text transform="translate(24.17,0) scale(1.079,1)">4</text></g>
<g transform="translate(417.67,1178.7)" font-size="20.14" text-anchor="middle"><text transform="translate(6.04,0) scale(1.079,1)">0</text><text transform="translate(15.11,0) scale(1.079,1)">.</text><text transform="translate(24.17,0) scale(1.079,1)">6</text></g>
<g transform="translate(536.93,1178.7)" font-size="20.14" text-anchor="middle"><text transform="translate(6.04,0) scale(1.079,1)">0</text><text transform="translate(15.11,0) scale(1.079,1)">.</text><text transform="translate(24.17,0) scale(1.079,1)">8</text></g>
<g transform="translate(656.19,1178.7)" font-size="20.14" text-anchor="middle"><text transform="translate(6.04,0) scale(1.079,1)">1</text><text transform="translate(15.11,0) scale(1.079,1)">.</text><text transform="translate(24.17,0) scale(1.079,1)">0</text></g>
<g transform="translate(53.81,1151.5)" font-size="20.14" text-anchor="middle"><text transform="translate(6.04,0) scale(1.079,1)">0</text></g>
<g transform="translate(29.63,1089.77)" font-size="20.14" text-anchor="middle"><text transform="translate(6.04,0) scale(1.079,1)">1</text><text transform="translate(18.13,0) scale(1.079,1)">0</text><text transform="translate(30.22,0) scale(1.079,1)">0</text></g>
<g transform="translate(29.63,1028.04)" font-size="20.14" text-anchor="middle"><text transform="translate(6.04,0) scale(1.079,1)">2</text><text transform="translate(18.13,0) scale(1.079,1)">0</text><text transform="translate(30.22,0) scale(1.079,1)">0</text></g>
<g transform="translate(29.63,966.31)" font-size="20.14" text-anchor="middle"><text transform="translate(6.04,0) scale(1.079,1)">3</text><text transform="translate(18.13,0) scale(1.079,1)">0</text><text transform="translate(30.22,0) scale(1.079,1)">0</text></g>
<g transform="translate(329.18,286.4)" font-size="23.3" text-anchor="middle"><text transform="translate(5.87,0) scale(1.008,1)">c</text><text transform="translate(15.34,0) scale(1.111,1)">/</text><text transform="translate(25.47,0) scale(1.010,1)">a</text><text transform="translate(43.19,0) scale(1.131,1)">r</text><text transform="translate(54.12,0) scale(1.010,1)">a</text><text transform="translate(64.85,0) scale(1.200,1)">t</text><text transform="translate(72,0) scale(1.146,1)">i</text><text transform="translate(81.5,0) scale(1.008,1)">o</text></g>
<g transform="translate(306.69,592)" font-size="23.3" text-anchor="middle"><text transform="translate(6.78,0) scale(0.872,1)">S</text><text transform="translate(17.74,0) scale(1.200,1)">t</text><text transform="translate(26.31,0) scale(1.131,1)">r</text><text transform="translate(37.04,0) scale(0.977,1)">e</text><text transform="translate(47.55,0) scale(1.200,1)">t</text><text transform="translate(57.61,0) scale(1.008,1)">c</text><text transform="translate(70.25,0) scale(1.044,1)">h</text><text transform="translate(88.19,0) scale(1.131,1)">r</text><text transform="translate(99.12,0) scale(1.010,1)">a</text><text transform="translate(109.85,0) scale(1.200,1)">t</text><text transform="translate(117,0) scale(1.146,1)">i</text><text transform="translate(126.49,0) scale(1.008,1)">o</text></g>
<g transform="translate(237.33,897.8)" font-size="23.3" text-anchor="middle"><text transform="translate(7.99,0) scale(0.949,1)">N</text><text transform="translate(22.5,0) scale(1.008,1)">o</text><text transform="translate(33.42,0) scale(1.131,1)">r</text><text transform="translate(48.02,0) scale(1.052,1)">m</text><text transform="translate(64.78,0) scale(1.010,1)">a</text><text transform="translate(74.28,0) scale(1.146,1)">l</text><text transform="translate(80.21,0) scale(1.146,1)">i</text><text transform="translate(88.78,0) scale(0.962,1)">z</text><text transform="translate(100.95,0) scale(1.014,1)">e</text><text transform="translate(114.3,0) scale(1.046,1)">d</text><text transform="translate(134.64,0) scale(1.046,1)">d</text><text transform="translate(144.38,0) scale(1.146,1)">i</text><text transform="translate(152.91,0) scale(0.955,1)">s</text><text transform="translate(165.24,0) scale(1.046,1)">p</text><text transform="translate(174.99,0) scale(1.146,1)">l</text><text transform="translate(184.49,0) scale(1.010,1)">a</text><text transform="translate(196.91,0) scale(1.008,1)">c</text><text transform="translate(209.34,0) scale(1.014,1)">e</text><text transform="translate(226.31,0) scale(1.072,1)">m</text><text transform="translate(243.28,0) scale(1.014,1)">e</text><text transform="translate(256.61,0) scale(1.044,1)">n</text><text transform="translate(267.56,0) scale(1.200,1)">t</text></g>
<g transform="translate(237.33,1204)" font-size="23.3" text-anchor="middle"><text transform="translate(7.99,0) scale(0.949,1)">N</text><text transform="translate(22.5,0) scale(1.008,1)">o</text><text transform="translate(33.42,0) scale(1.131,1)">r</text><text transform="translate(48.02,0) scale(1.052,1)">m</text><text transform="translate(64.78,0) scale(1.010,1)">a</text><text transform="translate(74.28,0) scale(1.146,1)">l</text><text transform="translate(80.21,0) scale(1.146,1)">i</text><text transform="translate(88.78,0) scale(0.962,1)">z</text><text transform="translate(100.95,0) scale(1.014,1)">e</text><text transform="translate(114.3,0) scale(1.046,1)">d</text><text transform="translate(134.64,0) scale(1.046,1)">d</text><text transform="translate(144.38,0) scale(1.146,1)">i</text><text transform="translate(152.91,0) scale(0.955,1)">s</text><text transform="translate(165.24,0) scale(1.046,1)">p</text><text transform="translate(174.99,0) scale(1.146,1)">l</text><text transform="translate(184.49,0) scale(1.010,1)">a</text><text transform="translate(196.91,0) scale(1.008,1)">c</text><text transform="translate(209.34,0) scale(1.014,1)">e</text><text transform="translate(226.31,0) scale(1.072,1)">m</text><text transform="translate(243.28,0) scale(1.014,1)">e</text><text transform="translate(256.61,0) scale(1.044,1)">n</text><text transform="translate(267.56,0) scale(1.200,1)">t</text></g>
<g transform="translate(21.6,119) rotate(-90)"><g transform="translate(-55.52,0)" font-size="23.3" text-anchor="middle"><text transform="translate(10.4,0) scale(1.072,1)">m</text><text transform="translate(27.37,0) scale(1.014,1)">e</text><text transform="translate(41.24,0) scale(0.940,1)">V</text><text transform="translate(52.13,0) scale(1.111,1)">/</text><text transform="translate(62.27,0) scale(1.010,1)">a</text><text transform="translate(73,0) scale(1.200,1)">t</text><text transform="translate(83.72,0) scale(1.008,1)">o</text><text transform="translate(100.65,0) scale(1.072,1)">m</text></g></g>
<g transform="translate(21.6,424.4) rotate(-90)"><g transform="translate(-55.52,0)" font-size="23.3" text-anchor="middle"><text transform="translate(10.4,0) scale(1.072,1)">m</text><text transform="translate(27.37,0) scale(1.014,1)">e</text><text transform="translate(41.24,0) scale(0.940,1)">V</text><text transform="translate(52.13,0) scale(1.111,1)">/</text><text transform="translate(62.27,0) scale(1.010,1)">a</text><text transform="translate(73,0) scale(1.200,1)">t</text><text transform="translate(83.72,0) scale(1.008,1)">o</text><text transform="translate(100.65,0) scale(1.072,1)">m</text></g></g>
<g transform="translate(19.3,730.6) rotate(-90)"><g transform="translate(-32.3,0)" font-size="23.3" text-anchor="middle"><text transform="translate(10.4,0) scale(1.072,1)">m</text><text transform="translate(23.95,0) scale(0.550,1)">J</text><text transform="translate(30.69,0) scale(1.111,1)">/</text><text transform="translate(44.69,0) scale(1.072,1)">m</text></g><g transform="translate(21.99,-8.6)" font-size="16.31" text-anchor="middle"><text transform="translate(4.75,0) scale(1.048,1)">2</text></g></g>
<g transform="translate(19.3,1036.3) rotate(-90)"><g transform="translate(-32.3,0)" font-size="23.3" text-anchor="middle"><text transform="translate(10.4,0) scale(1.072,1)">m</text><text transform="translate(23.95,0) scale(0.550,1)">J</text><text transform="translate(30.69,0) scale(1.111,1)">/</text><text transform="translate(44.69,0) scale(1.072,1)">m</text></g><g transform="translate(21.99,-8.6)" font-size="16.31" text-anchor="middle"><text transform="translate(4.75,0) scale(1.048,1)">2</text></g></g>
<g transform="translate(85.39,23)" font-size="21.8" text-anchor="middle"><text transform="translate(4.15,0) scale(1.142,1)">(</text><text transform="translate(14.8,0) scale(1.074,1)">a</text><text transform="translate(25.46,0) scale(1.142,1)">)</text><text x="43.63">V</text><text transform="translate(56.57,0) scale(0.936,1)">o</text><text transform="translate(65.2,0) scale(1.200,1)">l</text><text transform="translate(74.88,0) scale(1.111,1)">u</text><text transform="translate(91.97,0) scale(1.140,1)">m</text><text transform="translate(108.86,0) scale(1.078,1)">e</text><text transform="translate(119.23,0) scale(1.056,1)">-</text><text transform="translate(128.9,0) scale(1.072,1)">c</text><text transform="translate(141.25,0) scale(1.072,1)">o</text><text transform="translate(154.48,0) scale(1.111,1)">n</text><text transform="translate(166.75,0) scale(1.016,1)">s</text><text transform="translate(178.82,0) scale(1.078,1)">e</text><text transform="translate(189.73,0) scale(1.200,1)">r</text><text transform="translate(200.39,0) scale(1.154,1)">v</text><text transform="translate(209.62,0) scale(1.200,1)">i</text><text transform="translate(219.31,0) scale(1.111,1)">n</text><text transform="translate(232.79,0) scale(1.113,1)">g</text><text x="253.58">B</text><text transform="translate(267.38,0) scale(1.074,1)">a</text><text transform="translate(276.84,0) scale(1.200,1)">i</text><text transform="translate(286.53,0) scale(1.111,1)">n</text><text transform="translate(306.76,0) scale(1.113,1)">p</text><text transform="translate(320.02,0) scale(1.074,1)">a</text><text transform="translate(330.69,0) scale(1.200,1)">t</text><text transform="translate(341.59,0) scale(1.111,1)">h</text></g>
<g transform="translate(75.06,328.7)" font-size="21.8" text-anchor="middle"><text transform="translate(4.21,0) scale(1.161,1)">(</text><text transform="translate(15.28,0) scale(1.131,1)">b</text><text transform="translate(26.35,0) scale(1.161,1)">)</text><text transform="translate(44.03,0) scale(0.991,1)">T</text><text transform="translate(53.48,0) scale(0.786,1)">r</text><text transform="translate(59.33,0) scale(1.200,1)">i</text><text transform="translate(69.19,0) scale(1.131,1)">g</text><text transform="translate(82.65,0) scale(1.090,1)">o</text><text transform="translate(96.11,0) scale(1.129,1)">n</text><text transform="translate(109.57,0) scale(1.092,1)">a</text><text transform="translate(119.19,0) scale(1.200,1)">l</text><text transform="translate(135.91,0) scale(1.131,1)">p</text><text transform="translate(149.38,0) scale(1.092,1)">a</text><text transform="translate(160.24,0) scale(1.200,1)">t</text><text transform="translate(171.32,0) scale(1.129,1)">h</text></g>
<g transform="translate(90.39,639.4)" font-size="21.8" text-anchor="middle"><text transform="translate(4.15,0) scale(1.142,1)">(</text><text transform="translate(14.13,0) scale(1.072,1)">c</text><text transform="translate(24.12,0) scale(1.142,1)">)</text><text transform="translate(43.25,0) scale(0.971,1)">G</text><text transform="translate(58.23,0) scale(0.928,1)">S</text><text transform="translate(71.09,0) scale(0.918,1)">F</text><text transform="translate(83.91,0) scale(0.923,1)">E</text><text transform="translate(94.21,0) scale(1.182,1)">:</text><text transform="translate(110.08,0) scale(1.016,1)">s</text><text transform="translate(118.57,0) scale(1.200,1)">l</text><text transform="translate(124.47,0) scale(1.200,1)">i</text><text transform="translate(134.17,0) scale(1.113,1)">p</text><text transform="translate(154.41,0) scale(1.113,1)">p</text><text transform="translate(167.67,0) scale(1.074,1)">a</text><text transform="translate(178.34,0) scale(1.200,1)">t</text><text transform="translate(189.24,0) scale(1.111,1)">h</text></g>
<g transform="translate(79.79,944.9)" font-size="21.8" text-anchor="middle"><text transform="translate(4.15,0) scale(1.142,1)">(</text><text transform="translate(15.04,0) scale(1.113,1)">d</text><text transform="translate(25.92,0) scale(1.142,1)">)</text><text transform="translate(45.06,0) scale(0.971,1)">G</text><text transform="translate(60.04,0) scale(0.928,1)">S</text><text transform="translate(72.89,0) scale(0.918,1)">F</text><text transform="translate(85.72,0) scale(0.923,1)">E</text><text transform="translate(96.01,0) scale(1.182,1)">:</text><text transform="translate(110.51,0) scale(1.200,1)">t</text><text transform="translate(123.37,0) scale(1.104,1)">w</text><text transform="translate(135.01,0) scale(1.200,1)">i</text><text transform="translate(144.7,0) scale(1.111,1)">n</text><text transform="translate(158.17,0) scale(1.111,1)">n</text><text transform="translate(167.85,0) scale(1.200,1)">i</text><text transform="translate(177.54,0) scale(1.111,1)">n</text><text transform="translate(191.02,0) scale(1.113,1)">g</text><text transform="translate(211.26,0) scale(1.113,1)">p</text><text transform="translate(224.52,0) scale(1.074,1)">a</text><text transform="translate(235.2,0) scale(1.200,1)">t</text><text transform="translate(246.1,0) scale(1.111,1)">h</text></g>
<g transform="translate(227.53,145.8)" font-size="22.4" text-anchor="middle"><text x="7.44">B</text><text transform="translate(22.27,0) scale(0.913,1)">C</text><text transform="translate(37.23,0) scale(0.937,1)">C</text></g>
<g transform="translate(474.93,213)" font-size="22.4" text-anchor="middle"><text transform="translate(6.24,0) scale(0.912,1)">F</text><text transform="translate(20.06,0) scale(0.937,1)">C</text><text transform="translate(35.21,0) scale(0.937,1)">C</text></g>
<g transform="translate(86.53,531.7)" font-size="22.4" text-anchor="middle"><text x="7.44">B</text><text transform="translate(22.27,0) scale(0.913,1)">C</text><text transform="translate(37.23,0) scale(0.937,1)">C</text></g>
<g transform="translate(245.89,431.1)" font-size="22.4" text-anchor="middle"><text transform="translate(6.89,0) scale(0.922,1)">S</text><text transform="translate(21.35,0) scale(0.937,1)">C</text></g>
<g transform="translate(529.23,525.1)" font-size="22.4" text-anchor="middle"><text transform="translate(6.24,0) scale(0.912,1)">F</text><text transform="translate(20.06,0) scale(0.937,1)">C</text><text transform="translate(35.21,0) scale(0.937,1)">C</text></g>
<rect x="489.8" y="7.2" width="145" height="177.4" rx="3" ry="3" fill="#fff" fill-opacity="0.8" stroke="#cccccc" stroke-width="1.1"/>
<path d="M495,17.7 H522.4" stroke="#000" stroke-width="1.7"/>
<path d="M508.2,13.05 L509.24,16.26 L512.62,16.26 L509.89,18.25 L510.93,21.46 L508.2,19.48 L505.47,21.46 L506.51,18.25 L503.78,16.26 L507.16,16.26Z" fill="#000" stroke="#000" stroke-width="1.4" stroke-linejoin="round"/>
<g transform="translate(531.26,22.5)" font-size="14.2" text-anchor="middle"><text transform="translate(5.16,0) scale(1.006,1)">D</text><text transform="translate(14.17,0) scale(0.888,1)">F</text><text transform="translate(22,0) scale(0.916,1)">T</text></g>
<path d="M495,37.07 H522.4" stroke="#ff0000" stroke-width="1.75"/>
<circle cx="508.2" cy="37.07" r="4.4" fill="none" stroke="#ff0000" stroke-width="2.0"/>
<g transform="translate(532.47,41.87)" font-size="14.2" text-anchor="middle"><text transform="translate(4.58,0) scale(0.967,1)">A</text><text transform="translate(14.18,0) scale(0.977,1)">N</text><text x="21.17">I</text><text transform="translate(25.56,0) scale(1.022,1)">-</text><text transform="translate(32.41,0) scale(0.936,1)">A</text><text transform="translate(38.71,0) scale(1.180,1)">l</text></g>
<path d="M495,56.44 H522.4" stroke="#808080" stroke-opacity="0.6" stroke-width="1.35" stroke-dasharray="5.0 2.2"/>
<path d="M508.2,49.65 L512.27,56.44 L508.2,63.23 L504.13,56.44Z" fill="none" stroke="#808080" stroke-opacity="0.6" stroke-width="1.35" stroke-linejoin="round"/>
<g transform="translate(531.26,61.24)" font-size="14.2" text-anchor="middle"><text transform="translate(4.04,0) scale(0.853,1)">P</text><text transform="translate(11.89,0) scale(0.963,1)">a</text><text transform="translate(19.18,0) scale(0.983,1)">s</text><text transform="translate(26.36,0) scale(1.037,1)">c</text><text transform="translate(34.29,0) scale(1.075,1)">u</text><text transform="translate(42.66,0) scale(1.044,1)">e</text><text transform="translate(49.4,0) scale(1.200,1)">t</text><text transform="translate(56.29,0) scale(1.079,1)">2</text><text transform="translate(64.82,0) scale(1.079,1)">0</text><text transform="translate(73.35,0) scale(1.079,1)">1</text><text transform="translate(81.87,0) scale(1.079,1)">5</text></g>
<path d="M495,75.81 H522.4" stroke="#808080" stroke-opacity="0.6" stroke-width="1.35" stroke-dasharray="5.0 2.2"/>
<path d="M508.2,75.81 v4.8 M508.2,75.81 l3.84,-2.4 M508.2,75.81 l-3.84,-2.4" fill="none" stroke="#808080" stroke-opacity="0.6" stroke-width="1.35" stroke-linejoin="round"/>
<g transform="translate(532.13,80.61)" font-size="14.2" text-anchor="middle"><text transform="translate(6.62,0) scale(0.988,1)">W</text><text transform="translate(14.96,0) scale(1.086,1)">i</text><text transform="translate(20.92,0) scale(1.075,1)">n</text><text transform="translate(29.29,0) scale(1.044,1)">e</text><text transform="translate(37.38,0) scale(1.117,1)">y</text><text transform="translate(45.61,0) scale(1.079,1)">2</text><text transform="translate(54.13,0) scale(1.079,1)">0</text><text transform="translate(62.66,0) scale(1.079,1)">0</text><text transform="translate(71.19,0) scale(1.079,1)">9</text></g>
<path d="M495,95.18 H522.4" stroke="#808080" stroke-opacity="0.6" stroke-width="1.35" stroke-dasharray="5.0 2.2"/>
<path d="M503.4,95.18 L513,90.38 L513,99.98Z" fill="none" stroke="#808080" stroke-opacity="0.6" stroke-width="1.35" stroke-linejoin="round"/>
<g transform="translate(531.73,99.98)" font-size="14.2" text-anchor="middle"><text transform="translate(4.25,0) scale(0.898,1)">S</text><text transform="translate(12.75,0) scale(1.075,1)">h</text><text transform="translate(21.12,0) scale(1.044,1)">e</text><text transform="translate(29.49,0) scale(1.075,1)">n</text><text transform="translate(37.99,0) scale(1.077,1)">g</text><text transform="translate(46.51,0) scale(1.079,1)">2</text><text transform="translate(55.03,0) scale(1.079,1)">0</text><text transform="translate(63.56,0) scale(1.079,1)">1</text><text transform="translate(72.08,0) scale(1.079,1)">0</text></g>
<path d="M495,114.55 H522.4" stroke="#808080" stroke-opacity="0.6" stroke-width="1.35" stroke-dasharray="5.0 2.2"/>
<path d="M513,114.55 L503.4,109.75 L503.4,119.35Z" fill="none" stroke="#808080" stroke-opacity="0.6" stroke-width="1.35" stroke-linejoin="round"/>
<g transform="translate(532,119.35)" font-size="14.2" text-anchor="middle"><text transform="translate(4.59,0) scale(1.058,1)">Z</text><text transform="translate(13.28,0) scale(1.038,1)">o</text><text transform="translate(21.63,0) scale(1.077,1)">p</text><text transform="translate(30.01,0) scale(1.044,1)">e</text><text transform="translate(38.39,0) scale(1.079,1)">2</text><text transform="translate(46.92,0) scale(1.079,1)">0</text><text transform="translate(55.44,0) scale(1.079,1)">0</text><text transform="translate(63.97,0) scale(1.079,1)">3</text></g>
<path d="M495,133.92 H522.4" stroke="#808080" stroke-opacity="0.6" stroke-width="1.35" stroke-dasharray="5.0 2.2"/>
<path d="M503.4,133.92 h9.6 M508.2,129.12 v9.6" fill="none" stroke="#808080" stroke-opacity="0.6" stroke-width="1.35" stroke-linejoin="round"/>
<g transform="translate(531.26,138.72)" font-size="14.2" text-anchor="middle"><text transform="translate(5.78,0) scale(0.977,1)">M</text><text transform="translate(13.42,0) scale(1.180,1)">i</text><text transform="translate(18.78,0) scale(0.983,1)">s</text><text transform="translate(26.51,0) scale(1.075,1)">h</text><text transform="translate(32.62,0) scale(1.180,1)">i</text><text transform="translate(38.73,0) scale(1.075,1)">n</text><text transform="translate(47.24,0) scale(1.079,1)">1</text><text transform="translate(55.76,0) scale(1.079,1)">9</text><text transform="translate(64.29,0) scale(1.079,1)">9</text><text transform="translate(72.82,0) scale(1.079,1)">9</text></g>
<path d="M495,153.29 H522.4" stroke="#808080" stroke-opacity="0.6" stroke-width="1.35" stroke-dasharray="5.0 2.2"/>
<path d="M505.8,148.49 L508.2,150.89 L510.6,148.49 L513,150.89 L510.6,153.29 L513,155.69 L510.6,158.09 L508.2,155.69 L505.8,158.09 L503.4,155.69 L505.8,153.29 L503.4,150.89Z" fill="none" stroke="#808080" stroke-opacity="0.6" stroke-width="1.35" stroke-linejoin="miter"/>
<g transform="translate(531.26,158.09)" font-size="14.2" text-anchor="middle"><text transform="translate(5.78,0) scale(0.977,1)">M</text><text transform="translate(15.68,0) scale(1.044,1)">e</text><text transform="translate(24.05,0) scale(1.075,1)">n</text><text transform="translate(32.55,0) scale(1.077,1)">d</text><text transform="translate(40.93,0) scale(1.044,1)">e</text><text transform="translate(46.91,0) scale(1.180,1)">l</text><text transform="translate(52.89,0) scale(1.044,1)">e</text><text transform="translate(60.98,0) scale(1.117,1)">v</text><text transform="translate(69.21,0) scale(1.079,1)">2</text><text transform="translate(77.73,0) scale(1.079,1)">0</text><text transform="translate(86.26,0) scale(1.079,1)">0</text><text transform="translate(94.79,0) scale(1.079,1)">8</text></g>
<path d="M495,172.66 H522.4" stroke="#808080" stroke-opacity="0.6" stroke-width="1.35" stroke-dasharray="5.0 2.2"/>
<path d="M508.2,177.46 L503.4,167.86 L513,167.86Z" fill="none" stroke="#808080" stroke-opacity="0.6" stroke-width="1.35" stroke-linejoin="round"/>
<g transform="translate(531.26,177.46)" font-size="14.2" text-anchor="middle"><text transform="translate(3.73,0) scale(0.945,1)">L</text><text transform="translate(9.33,0) scale(1.180,1)">i</text><text transform="translate(15.43,0) scale(1.075,1)">u</text><text transform="translate(23.94,0) scale(1.079,1)">2</text><text transform="translate(32.47,0) scale(1.079,1)">0</text><text transform="translate(41,0) scale(1.079,1)">0</text><text transform="translate(49.52,0) scale(1.079,1)">4</text></g>
</svg>
</body></html>
